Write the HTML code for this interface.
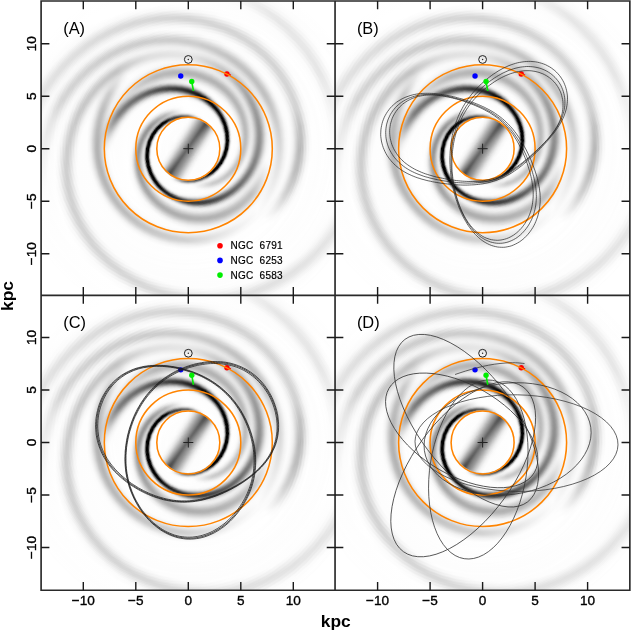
<!DOCTYPE html>
<html><head><meta charset="utf-8"><style>
html,body{margin:0;padding:0;background:#fff}
#fig{position:relative;width:631px;height:631px;overflow:hidden;background:#fff}
.pn{position:absolute;overflow:hidden}
.ctr{position:absolute;width:0;height:0}
.ctr i{position:absolute;border-radius:50%;display:block}
.w{background:#fff}
.k0{width:2.0px;height:2.0px;left:-1.0px;top:-1.0px;background:conic-gradient(#686868 0%,#6d6d6d 41.11%,#676767 83.06%,#686868 100%)}
.k1{width:4.0px;height:4.0px;left:-2.0px;top:-2.0px;background:conic-gradient(#686868 0%,#6a6a6a 11.11%,#797979 30.83%,#777777 43.47%,#686868 63.19%,#6d6d6d 88.19%,#686868 100%)}
.k2{width:6.0px;height:6.0px;left:-3.0px;top:-3.0px;background:conic-gradient(#6d6d6d 0%,#676767 7.22%,#707070 14.72%,#838383 26.53%,#878787 36.81%,#7d7d7d 47.22%,#686868 60.56%,#6a6a6a 67.08%,#7b7b7b 80.97%,#7a7a7a 89.86%,#6d6d6d 100%)}
.k3{width:8.0px;height:8.0px;left:-4.0px;top:-4.0px;background:conic-gradient(#747474 0%,#676767 6.25%,#6b6b6b 10.97%,#898989 23.19%,#919191 32.22%,#8d8d8d 41.94%,#7e7e7e 50.83%,#686868 60%,#696969 64.58%,#878787 77.64%,#8c8c8c 85.28%,#848484 93.19%,#747474 100%)}
.k4{width:10.0px;height:10.0px;left:-5.0px;top:-5.0px;background:conic-gradient(#7d7d7d 0%,#696969 6.11%,#696969 9.72%,#7c7c7c 15.83%,#909090 22.92%,#9b9b9b 31.53%,#989898 39.86%,#888888 49.44%,#686868 60%,#696969 63.47%,#8f8f8f 75%,#999999 81.94%,#969696 89.44%,#888888 96.67%,#7d7d7d 100%)}
.k5{width:12.0px;height:12.0px;left:-6.0px;top:-6.0px;background:conic-gradient(#858585 0%,#696969 6.53%,#686868 9.44%,#777777 13.47%,#8f8f8f 19.72%,#a3a3a3 28.33%,#a6a6a6 35.28%,#9d9d9d 43.06%,#858585 52.36%,#686868 59.72%,#686868 62.5%,#787878 66.39%,#939393 72.5%,#a3a3a3 79.03%,#a6a6a6 85.69%,#9c9c9c 92.92%,#878787 99.58%,#858585 100%)}
.k6{width:14.0px;height:14.0px;left:-7.0px;top:-7.0px;background:conic-gradient(#8d8d8d 0%,#696969 6.94%,#676767 9.44%,#767676 12.78%,#909090 18.33%,#acacac 27.22%,#b3b3b3 33.33%,#aeaeae 39.58%,#929292 49.86%,#7c7c7c 55.42%,#686868 59.72%,#686868 62.08%,#777777 65.28%,#969696 70.83%,#ababab 77.08%,#b3b3b3 83.06%,#afafaf 89.17%,#9b9b9b 96.53%,#8d8d8d 100%)}
.k7{width:16.0px;height:16.0px;left:-8.0px;top:-8.0px;background:conic-gradient(#949494 0%,#757575 5.14%,#676767 7.78%,#686868 9.86%,#7d7d7d 13.61%,#9a9a9a 19.31%,#b7b7b7 27.08%,#c1c1c1 32.64%,#bdbdbd 38.19%,#acacac 44.44%,#818181 55.14%,#686868 59.72%,#686868 61.81%,#787878 64.58%,#999999 69.58%,#b3b3b3 75.83%,#c0c0c0 81.39%,#bfbfbf 86.94%,#b1b1b1 92.78%,#949494 100%)}
.k8{width:18.0px;height:18.0px;left:-9.0px;top:-9.0px;background:conic-gradient(#9a9a9a 0%,#7e7e7e 4.44%,#686868 7.64%,#676767 9.44%,#737373 11.81%,#929292 16.67%,#bebebe 25.56%,#cccccc 30.69%,#cdcdcd 35.97%,#c2c2c2 41.25%,#a2a2a2 48.61%,#7f7f7f 55.97%,#676767 59.72%,#676767 61.53%,#767676 63.89%,#9a9a9a 68.47%,#bbbbbb 74.72%,#cbcbcb 79.86%,#cecece 85.14%,#c5c5c5 90.42%,#acacac 96.53%,#9a9a9a 100%)}
.k9{width:20.0px;height:20.0px;left:-10.0px;top:-10.0px;background:conic-gradient(#a1a1a1 0%,#828282 4.58%,#686868 7.78%,#666666 9.44%,#727272 11.53%,#939393 16.11%,#c5c5c5 24.44%,#d6d6d6 29.17%,#dbdbdb 34.31%,#d4d4d4 39.44%,#c1c1c1 44.44%,#7d7d7d 56.53%,#676767 59.72%,#666666 61.25%,#737373 63.19%,#9b9b9b 67.64%,#c1c1c1 73.61%,#d4d4d4 78.33%,#dbdbdb 83.47%,#d6d6d6 88.75%,#c4c4c4 93.75%,#a1a1a1 100%)}
.k10{width:22.0px;height:22.0px;left:-11.0px;top:-11.0px;background:conic-gradient(#a7a7a7 0%,#828282 5%,#686868 7.92%,#666666 9.44%,#707070 11.25%,#949494 15.69%,#cbcbcb 23.47%,#dddddd 27.78%,#e5e5e5 32.92%,#e1e1e1 38.33%,#d2d2d2 43.06%,#b4b4b4 48.19%,#8e8e8e 54.31%,#777777 57.5%,#666666 59.86%,#666666 61.25%,#767676 63.19%,#9e9e9e 67.22%,#c8c8c8 72.92%,#dcdcdc 77.22%,#e5e5e5 82.22%,#e2e2e2 87.78%,#d5d5d5 92.5%,#b9b9b9 97.36%,#a7a7a7 100%)}
.k11{width:24.0px;height:24.0px;left:-12.0px;top:-12.0px;background:conic-gradient(#aeaeae 0%,#828282 5.42%,#686868 8.06%,#656565 9.44%,#707070 11.11%,#979797 15.56%,#cfcfcf 22.36%,#e2e2e2 26.25%,#ededed 31.11%,#ececec 37.08%,#e1e1e1 41.94%,#cbcbcb 46.11%,#939393 53.89%,#7b7b7b 57.22%,#666666 59.72%,#656565 60.97%,#717171 62.5%,#9f9f9f 66.67%,#cccccc 71.94%,#e1e1e1 75.83%,#ececec 80.56%,#ededed 86.53%,#e3e3e3 91.53%,#cecece 95.69%,#aeaeae 100%)}
.k12{width:26.0px;height:26.0px;left:-13.0px;top:-13.0px;background:conic-gradient(#b5b5b5 0%,#818181 5.83%,#686868 8.19%,#656565 9.44%,#6f6f6f 10.97%,#cdcdcd 20.83%,#e3e3e3 24.31%,#f0f0f0 28.61%,#f4f4f4 35%,#ededed 40.69%,#dddddd 44.72%,#c1c1c1 48.61%,#959595 53.89%,#7d7d7d 57.22%,#656565 59.72%,#656565 60.97%,#737373 62.5%,#a2a2a2 66.39%,#cfcfcf 71.11%,#e4e4e4 74.58%,#f1f1f1 79.03%,#f4f4f4 85.56%,#ececec 91.11%,#dcdcdc 95%,#bebebe 99.03%,#b5b5b5 100%)}
.k13{width:28.0px;height:28.0px;left:-14.0px;top:-14.0px;background:conic-gradient(#bcbcbc 0%,#808080 6.11%,#676767 8.33%,#646464 9.44%,#6d6d6d 10.83%,#d3d3d3 20.56%,#e8e8e8 23.75%,#f5f5f5 27.92%,#f9f9f9 35.14%,#f2f2f2 41.25%,#e3e3e3 45.14%,#c9c9c9 48.61%,#979797 54.03%,#7d7d7d 57.36%,#656565 59.72%,#646464 60.83%,#717171 62.22%,#a4a4a4 66.11%,#d1d1d1 70.28%,#e7e7e7 73.47%,#f4f4f4 77.5%,#f9f9f9 84.44%,#f3f3f3 90.83%,#e5e5e5 94.72%,#cecece 98.06%,#bcbcbc 100%)}
.k14{width:30.0px;height:30.0px;left:-15.0px;top:-15.0px;background:conic-gradient(#c3c3c3 0%,#808080 6.39%,#666666 8.47%,#636363 9.58%,#6f6f6f 10.97%,#bbbbbb 17.5%,#dcdcdc 20.56%,#eeeeee 23.47%,#f8f8f8 27.64%,#fbfbfb 36.25%,#f4f4f4 42.36%,#e6e6e6 45.83%,#cfcfcf 48.89%,#989898 54.31%,#7d7d7d 57.5%,#646464 59.72%,#636363 60.69%,#6f6f6f 61.94%,#aaaaaa 66.11%,#d4d4d4 69.72%,#e9e9e9 72.5%,#f6f6f6 76.11%,#fcfcfc 82.92%,#f7f7f7 90.83%,#ececec 94.86%,#d8d8d8 97.92%,#c3c3c3 100%)}
.k15{width:32.0px;height:32.0px;left:-16.0px;top:-16.0px;background:conic-gradient(#cbcbcb 0%,#7e7e7e 6.67%,#666666 8.47%,#626262 9.44%,#6a6a6a 10.56%,#b0b0b0 16.11%,#d6d6d6 19.17%,#ececec 21.81%,#f8f8f8 25.14%,#fdfdfd 32.08%,#fafafa 41.39%,#efefef 45.28%,#dddddd 48.19%,#b6b6b6 51.81%,#949494 55%,#7c7c7c 57.64%,#636363 59.72%,#626262 60.69%,#6e6e6e 61.81%,#b1b1b1 66.25%,#d8d8d8 69.31%,#ececec 71.94%,#f8f8f8 75.42%,#fdfdfd 82.92%,#f9f9f9 91.67%,#efefef 95.42%,#dbdbdb 98.33%,#cbcbcb 100%)}
.k16{width:34.0px;height:34.0px;left:-17.0px;top:-17.0px;background:conic-gradient(#d2d2d2 0%,#7c7c7c 6.94%,#656565 8.61%,#626262 9.58%,#6b6b6b 10.69%,#ababab 15.42%,#d6d6d6 18.47%,#ebebeb 20.83%,#f8f8f8 23.89%,#fefefe 30.14%,#fbfbfb 41.94%,#f2f2f2 45.83%,#e1e1e1 48.47%,#c1c1c1 51.39%,#989898 54.86%,#7b7b7b 57.78%,#626262 59.72%,#616161 60.56%,#6d6d6d 61.67%,#bebebe 66.67%,#dedede 69.17%,#f0f0f0 71.67%,#fafafa 75.14%,#fefefe 85%,#fafafa 93.19%,#efefef 96.53%,#dadada 99.17%,#d2d2d2 100%)}
.k17{width:36.0px;height:36.0px;left:-18.0px;top:-18.0px;background:conic-gradient(#d8d8d8 0%,#7c7c7c 7.08%,#656565 8.61%,#616161 9.44%,#676767 10.42%,#a4a4a4 14.72%,#d5d5d5 17.78%,#eaeaea 19.86%,#f8f8f8 22.5%,#fefefe 27.5%,#fcfcfc 42.64%,#f4f4f4 46.39%,#e3e3e3 48.89%,#c5c5c5 51.53%,#999999 55%,#7c7c7c 57.78%,#616161 59.72%,#606060 60.56%,#6b6b6b 61.53%,#c7c7c7 66.81%,#e2e2e2 68.89%,#f3f3f3 71.25%,#fcfcfc 74.72%,#fefefe 88.33%,#f9f9f9 94.58%,#eeeeee 97.5%,#dadada 99.86%,#d8d8d8 100%)}
.k18{width:38.0px;height:38.0px;left:-19.0px;top:-19.0px;background:conic-gradient(#dedede 0%,#b5b5b5 3.06%,#7e7e7e 7.08%,#636363 8.75%,#606060 9.58%,#686868 10.56%,#a1a1a1 14.31%,#d4d4d4 17.22%,#eaeaea 19.17%,#f7f7f7 21.53%,#fefefe 25.97%,#fdfdfd 43.61%,#f4f4f4 47.08%,#e4e4e4 49.44%,#c5c5c5 51.94%,#999999 55.14%,#7b7b7b 57.92%,#606060 59.72%,#5f5f5f 60.56%,#6b6b6b 61.53%,#cbcbcb 66.67%,#e5e5e5 68.61%,#f5f5f5 70.83%,#fdfdfd 74.31%,#fefefe 92.22%,#f7f7f7 96.39%,#e9e9e9 98.89%,#dedede 100%)}
.k19{width:40.0px;height:40.0px;left:-20.0px;top:-20.0px;background:conic-gradient(#e4e4e4 0%,#c5c5c5 2.36%,#949494 5.69%,#797979 7.5%,#636363 8.75%,#5f5f5f 9.58%,#686868 10.56%,#9d9d9d 13.89%,#d4d4d4 16.81%,#eaeaea 18.61%,#f8f8f8 20.83%,#fefefe 24.86%,#fdfdfd 44.58%,#f5f5f5 47.78%,#e4e4e4 50%,#c5c5c5 52.36%,#989898 55.42%,#7c7c7c 57.92%,#5f5f5f 59.72%,#5e5e5e 60.42%,#676767 61.25%,#cdcdcd 66.39%,#e6e6e6 68.19%,#f6f6f6 70.28%,#fdfdfd 73.61%,#fdfdfd 94.03%,#f6f6f6 97.5%,#e7e7e7 99.72%,#e4e4e4 100%)}
.k20{width:42.0px;height:42.0px;left:-21.0px;top:-21.0px;background:conic-gradient(#e9e9e9 0%,#cecece 2.08%,#969696 5.69%,#7a7a7a 7.5%,#616161 8.89%,#5e5e5e 9.58%,#676767 10.56%,#989898 13.47%,#d3d3d3 16.39%,#eaeaea 18.06%,#f8f8f8 20.14%,#fefefe 23.89%,#fdfdfd 45.42%,#f5f5f5 48.33%,#e5e5e5 50.42%,#c6c6c6 52.64%,#999999 55.56%,#7a7a7a 58.06%,#5e5e5e 59.72%,#5c5c5c 60.42%,#676767 61.25%,#cecece 66.11%,#e7e7e7 67.78%,#f6f6f6 69.72%,#fefefe 72.92%,#fdfdfd 95.14%,#f6f6f6 98.19%,#e9e9e9 100%)}
.k21{width:44.0px;height:44.0px;left:-22.0px;top:-22.0px;background:conic-gradient(#ededed 0%,#d6d6d6 1.94%,#969696 5.83%,#7b7b7b 7.5%,#616161 8.89%,#5d5d5d 9.58%,#646464 10.42%,#929292 13.06%,#d5d5d5 16.11%,#eaeaea 17.64%,#f8f8f8 19.58%,#fefefe 23.06%,#fdfdfd 46.11%,#f5f5f5 48.89%,#e5e5e5 50.83%,#c6c6c6 52.92%,#999999 55.69%,#7b7b7b 58.06%,#5d5d5d 59.72%,#5b5b5b 60.42%,#666666 61.25%,#cfcfcf 65.83%,#e7e7e7 67.36%,#f6f6f6 69.17%,#fefefe 72.08%,#fdfdfd 95.97%,#f5f5f5 98.89%,#ededed 100%)}
.k22{width:46.0px;height:46.0px;left:-23.0px;top:-23.0px;background:conic-gradient(#f1f1f1 0%,#dddddd 1.81%,#949494 6.11%,#7a7a7a 7.64%,#606060 8.89%,#5b5b5b 9.58%,#636363 10.42%,#8e8e8e 12.78%,#d2d2d2 15.69%,#e9e9e9 17.08%,#f7f7f7 18.75%,#fefefe 21.53%,#fdfdfd 46.67%,#f6f6f6 49.31%,#e6e6e6 51.11%,#c9c9c9 53.06%,#999999 55.83%,#7b7b7b 58.06%,#5c5c5c 59.72%,#5a5a5a 60.42%,#666666 61.25%,#d0d0d0 65.56%,#e7e7e7 66.94%,#f6f6f6 68.61%,#fefefe 71.25%,#fdfdfd 96.67%,#f6f6f6 99.31%,#f1f1f1 100%)}
.k23{width:48.0px;height:48.0px;left:-24.0px;top:-24.0px;background:conic-gradient(#f4f4f4 0%,#e4e4e4 1.67%,#c3c3c3 3.61%,#969696 6.11%,#7b7b7b 7.64%,#606060 8.89%,#5a5a5a 9.58%,#616161 10.42%,#898989 12.5%,#d2d2d2 15.42%,#eaeaea 16.81%,#f8f8f8 18.47%,#fefefe 21.39%,#fdfdfd 47.36%,#f5f5f5 49.86%,#e5e5e5 51.53%,#c6c6c6 53.47%,#999999 55.97%,#797979 58.19%,#5c5c5c 59.58%,#585858 60.28%,#606060 60.97%,#8d8d8d 62.78%,#cccccc 65.14%,#e6e6e6 66.53%,#f5f5f5 68.06%,#fdfdfd 70.42%,#fefefe 96.94%,#f7f7f7 99.58%,#f4f4f4 100%)}
.k24{width:50.0px;height:50.0px;left:-25.0px;top:-25.0px;background:conic-gradient(#f7f7f7 0%,#e8e8e8 1.67%,#cdcdcd 3.33%,#989898 6.11%,#7c7c7c 7.64%,#5d5d5d 9.03%,#595959 9.72%,#626262 10.56%,#878787 12.36%,#d2d2d2 15.14%,#e9e9e9 16.39%,#f7f7f7 17.92%,#fefefe 20.42%,#fdfdfd 47.92%,#f5f5f5 50.28%,#e4e4e4 51.94%,#c2c2c2 53.89%,#989898 56.11%,#797979 58.19%,#5b5b5b 59.58%,#565656 60.14%,#5d5d5d 60.83%,#7c7c7c 62.08%,#cbcbcb 64.86%,#e5e5e5 66.11%,#f4f4f4 67.5%,#fdfdfd 69.58%,#ffffff 85.97%,#fdfdfd 98.19%,#f7f7f7 100%)}
.k25{width:52.0px;height:52.0px;left:-26.0px;top:-26.0px;background:conic-gradient(#f9f9f9 0%,#ececec 1.67%,#d4d4d4 3.19%,#979797 6.25%,#7a7a7a 7.78%,#5c5c5c 9.03%,#575757 9.58%,#5c5c5c 10.28%,#7d7d7d 11.94%,#a8a8a8 13.47%,#d4d4d4 15%,#ebebeb 16.25%,#f8f8f8 17.78%,#fefefe 20.56%,#fdfdfd 48.47%,#f5f5f5 50.69%,#e4e4e4 52.22%,#c3c3c3 54.03%,#989898 56.25%,#7a7a7a 58.19%,#595959 59.58%,#545454 60.14%,#595959 60.69%,#707070 61.67%,#cdcdcd 64.72%,#e5e5e5 65.83%,#f5f5f5 67.22%,#fdfdfd 69.31%,#fefefe 97.64%,#f9f9f9 100%)}
.k26{width:54.0px;height:54.0px;left:-27.0px;top:-27.0px;background:conic-gradient(#fafafa 0%,#efefef 1.67%,#d8d8d8 3.19%,#969696 6.39%,#7b7b7b 7.78%,#5b5b5b 9.03%,#565656 9.58%,#5b5b5b 10.28%,#767676 11.67%,#9a9a9a 12.92%,#cfcfcf 14.58%,#e7e7e7 15.69%,#f5f5f5 16.94%,#fefefe 19.03%,#fefefe 48.75%,#f6f6f6 50.83%,#e6e6e6 52.36%,#c7c7c7 54.03%,#999999 56.25%,#7a7a7a 58.19%,#585858 59.58%,#535353 60.14%,#585858 60.69%,#6c6c6c 61.53%,#cbcbcb 64.44%,#e4e4e4 65.56%,#f4f4f4 66.81%,#fdfdfd 68.75%,#ffffff 90.97%,#fdfdfd 99.31%,#fafafa 100%)}
.k27{width:56.0px;height:56.0px;left:-28.0px;top:-28.0px;background:conic-gradient(#fcfcfc 0%,#f2f2f2 1.67%,#dfdfdf 3.06%,#939393 6.67%,#797979 7.92%,#5a5a5a 9.03%,#545454 9.58%,#595959 10.28%,#727272 11.53%,#939393 12.64%,#cccccc 14.31%,#e4e4e4 15.28%,#f3f3f3 16.39%,#fcfcfc 18.06%,#ffffff 25.42%,#fdfdfd 49.31%,#f5f5f5 51.25%,#e6e6e6 52.64%,#c5c5c5 54.31%,#989898 56.39%,#777777 58.33%,#565656 59.58%,#515151 60.14%,#565656 60.69%,#6c6c6c 61.53%,#cccccc 64.31%,#e4e4e4 65.28%,#f3f3f3 66.39%,#fcfcfc 68.06%,#ffffff 75.42%,#fdfdfd 99.31%,#fcfcfc 100%)}
.k28{width:58.0px;height:58.0px;left:-29.0px;top:-29.0px;background:conic-gradient(#fdfdfd 0%,#f3f3f3 1.81%,#e0e0e0 3.19%,#b5b5b5 5.14%,#797979 7.92%,#595959 9.03%,#525252 9.58%,#575757 10.28%,#6e6e6e 11.39%,#919191 12.5%,#cdcdcd 14.17%,#e5e5e5 15.14%,#f5f5f5 16.25%,#fdfdfd 17.92%,#ffffff 32.36%,#fdfdfd 49.72%,#f5f5f5 51.53%,#e5e5e5 52.92%,#c6c6c6 54.44%,#979797 56.53%,#777777 58.33%,#555555 59.58%,#4f4f4f 60.14%,#555555 60.69%,#6c6c6c 61.53%,#c8c8c8 64.03%,#e2e2e2 65%,#f3f3f3 66.11%,#fdfdfd 67.78%,#ffffff 76.39%,#fdfdfd 99.72%,#fdfdfd 100%)}
.k29{width:60.0px;height:60.0px;left:-30.0px;top:-30.0px;background:conic-gradient(#fdfdfd 0%,#f5f5f5 1.81%,#e6e6e6 3.06%,#c6c6c6 4.58%,#969696 6.67%,#7a7a7a 7.92%,#555555 9.17%,#505050 9.72%,#575757 10.42%,#717171 11.53%,#999999 12.64%,#cdcdcd 14.03%,#e6e6e6 15%,#f6f6f6 16.11%,#fefefe 17.92%,#fdfdfd 50%,#f5f5f5 51.81%,#e6e6e6 53.06%,#c6c6c6 54.58%,#999999 56.53%,#777777 58.33%,#535353 59.58%,#4d4d4d 60.14%,#535353 60.69%,#6c6c6c 61.53%,#c9c9c9 63.89%,#e4e4e4 64.86%,#f4f4f4 65.97%,#fdfdfd 67.64%,#ffffff 87.36%,#fdfdfd 100%)}
.k30{width:62.0px;height:62.0px;left:-31.0px;top:-31.0px;background:conic-gradient(#fefefe 0%,#f6f6f6 1.94%,#e7e7e7 3.19%,#cacaca 4.58%,#979797 6.67%,#7b7b7b 7.92%,#545454 9.17%,#4e4e4e 9.72%,#555555 10.42%,#6c6c6c 11.39%,#909090 12.36%,#c9c9c9 13.75%,#e2e2e2 14.58%,#f2f2f2 15.56%,#fcfcfc 16.94%,#ffffff 21.81%,#fdfdfd 50.42%,#f5f5f5 52.08%,#e5e5e5 53.33%,#c3c3c3 54.86%,#979797 56.67%,#767676 58.33%,#515151 59.58%,#4b4b4b 60%,#4d4d4d 60.42%,#595959 60.97%,#7d7d7d 61.94%,#c4c4c4 63.61%,#dedede 64.44%,#f1f1f1 65.42%,#fbfbfb 66.67%,#ffffff 69.86%,#fefefe 100%)}
.k31{width:64.0px;height:64.0px;left:-32.0px;top:-32.0px;background:conic-gradient(#b1b1b1 0%,#b2b2b2 1.53%,#c3c3c3 3.61%,#c5c5c5 5.42%,#bdbdbd 7.64%,#a6a6a6 9.44%,#a8a8a8 10.28%,#b8b8b8 11.53%,#e9e9e9 13.89%,#f7f7f7 15.14%,#fefefe 17.08%,#fdfdfd 31.25%,#f4f4f4 33.75%,#dedede 35.83%,#bababa 38.75%,#aeaeae 40.56%,#a6a6a6 44.44%,#afafaf 49.72%,#b4b4b4 51.67%,#c2c2c2 53.47%,#c3c3c3 55.42%,#bbbbbb 58.06%,#adadad 59.17%,#a4a4a4 60%,#a7a7a7 60.69%,#bfbfbf 61.94%,#e6e6e6 63.75%,#f6f6f6 65%,#fefefe 66.81%,#fdfdfd 87.22%,#f4f4f4 90.14%,#e0e0e0 92.92%,#bcbcbc 97.08%,#b2b2b2 99.44%,#b1b1b1 100%)}
.k32{width:66.0px;height:66.0px;left:-33.0px;top:-33.0px;background:conic-gradient(#676767 0%,#7c7c7c 1.53%,#bababa 3.75%,#dedede 5.42%,#f3f3f3 6.94%,#fdfdfd 8.47%,#fefefe 27.22%,#f8f8f8 29.44%,#ebebeb 30.83%,#d3d3d3 32.08%,#afafaf 33.33%,#787878 34.72%,#4e4e4e 35.83%,#313131 36.81%,#202020 37.78%,#191919 38.75%,#1c1c1c 39.86%,#2c2c2c 41.25%,#343434 41.81%,#646464 48.19%,#747474 51.53%,#efefef 57.5%,#fcfcfc 58.61%,#ffffff 60.69%,#fdfdfd 84.31%,#f6f6f6 86.11%,#e5e5e5 87.64%,#c4c4c4 89.44%,#9d9d9d 91.39%,#6d6d6d 93.75%,#585858 95.28%,#515151 96.67%,#565656 98.19%,#656565 99.86%,#676767 100%)}
.k33{width:68.0px;height:68.0px;left:-34.0px;top:-34.0px;background:conic-gradient(#939393 0%,#aeaeae 1.67%,#d1d1d1 3.19%,#eaeaea 4.86%,#fafafa 6.81%,#ffffff 9.31%,#fdfdfd 25.97%,#f5f5f5 27.64%,#e5e5e5 28.75%,#cdcdcd 29.72%,#a9a9a9 30.69%,#767676 31.81%,#1a1a1a 33.61%,#030303 34.17%,#000000 34.44%,#010101 38.33%,#5a5a5a 41.81%,#797979 44.17%,#909090 46.81%,#9d9d9d 49.31%,#a0a0a0 51.53%,#e8e8e8 56.81%,#fbfbfb 58.33%,#ffffff 60%,#fdfdfd 81.53%,#f5f5f5 83.61%,#e6e6e6 85%,#d3d3d3 85.97%,#a5a5a5 87.5%,#717171 89.17%,#5c5c5c 90.14%,#505050 91.11%,#4d4d4d 91.81%,#414141 93.06%,#404040 94.31%,#4b4b4b 95.69%,#6b6b6b 97.78%,#939393 100%)}
.k34{width:70.0px;height:70.0px;left:-35.0px;top:-35.0px;background:conic-gradient(#c7c7c7 0%,#efefef 3.47%,#fbfbfb 5.69%,#ffffff 9.86%,#fdfdfd 24.03%,#f5f5f5 25.56%,#e6e6e6 26.53%,#d0d0d0 27.36%,#aeaeae 28.19%,#787878 29.17%,#101010 30.83%,#000000 31.11%,#020202 36.39%,#434343 38.06%,#747474 39.58%,#959595 40.97%,#a8a8a8 42.08%,#bbbbbb 44.17%,#cecece 48.06%,#d0d0d0 51.25%,#f1f1f1 56.67%,#fefefe 58.75%,#fdfdfd 78.75%,#f5f5f5 80.83%,#e6e6e6 82.22%,#cfcfcf 83.33%,#b1b1b1 84.31%,#838383 85.42%,#444444 86.81%,#272727 87.64%,#171717 88.33%,#0f0f0f 89.03%,#101010 89.72%,#191919 90.56%,#343434 91.81%,#464646 93.19%,#767676 95.56%,#acacac 98.19%,#c7c7c7 100%)}
.k35{width:72.0px;height:72.0px;left:-36.0px;top:-36.0px;background:conic-gradient(#eaeaea 0%,#fcfcfc 3.89%,#ffffff 10%,#fdfdfd 22.22%,#f5f5f5 23.61%,#e5e5e5 24.58%,#d1d1d1 25.28%,#b4b4b4 25.97%,#8d8d8d 26.67%,#515151 27.5%,#040404 28.47%,#000000 28.61%,#000000 33.89%,#1c1c1c 34.44%,#555555 35.56%,#7d7d7d 36.53%,#a0a0a0 37.64%,#bbbbbb 38.89%,#d0d0d0 40.42%,#dddddd 42.22%,#efefef 49.03%,#efefef 52.08%,#ffffff 59.44%,#fdfdfd 76.39%,#f4f4f4 78.33%,#e5e5e5 79.58%,#cccccc 80.69%,#acacac 81.67%,#808080 82.64%,#3c3c3c 83.89%,#060606 84.86%,#000000 85%,#000000 89.31%,#5f5f5f 91.81%,#a4a4a4 94.86%,#cecece 97.22%,#e3e3e3 99.03%,#eaeaea 100%)}
.k36{width:74.0px;height:74.0px;left:-37.0px;top:-37.0px;background:conic-gradient(#f9f9f9 0%,#ffffff 5.97%,#fdfdfd 20.42%,#f5f5f5 21.81%,#e8e8e8 22.64%,#cecece 23.47%,#aeaeae 24.17%,#787878 25%,#353535 25.83%,#070707 26.39%,#000000 26.53%,#000000 31.53%,#515151 32.78%,#808080 33.61%,#9f9f9f 34.31%,#bdbdbd 35.28%,#d3d3d3 36.39%,#e4e4e4 37.78%,#eeeeee 39.72%,#eeeeee 43.06%,#f0f0f0 45.56%,#fbfbfb 48.75%,#ffffff 65.28%,#fdfdfd 74.17%,#f4f4f4 75.83%,#e4e4e4 77.08%,#cdcdcd 78.06%,#aaaaaa 79.03%,#838383 79.86%,#444444 80.97%,#020202 82.08%,#000000 82.5%,#000000 87.64%,#040404 87.78%,#474747 89.17%,#767676 90.42%,#9e9e9e 91.81%,#c6c6c6 94.17%,#eaeaea 97.08%,#f6f6f6 98.89%,#f9f9f9 100%)}
.k37{width:76.0px;height:76.0px;left:-38.0px;top:-38.0px;background:conic-gradient(#fefefe 0%,#fefefe 18.19%,#f6f6f6 19.86%,#e9e9e9 20.83%,#d5d5d5 21.53%,#bdbdbd 22.08%,#9e9e9e 22.64%,#6b6b6b 23.33%,#0a0a0a 24.44%,#000000 24.58%,#000000 29.31%,#050505 29.44%,#464646 30.28%,#7e7e7e 31.11%,#a3a3a3 31.81%,#bfbfbf 32.5%,#d7d7d7 33.33%,#e8e8e8 34.31%,#f4f4f4 35.97%,#f8f8f8 38.47%,#ebebeb 43.61%,#f3f3f3 45.83%,#fdfdfd 48.33%,#fefefe 71.11%,#f6f6f6 73.19%,#e9e9e9 74.31%,#d4d4d4 75.28%,#b3b3b3 76.25%,#8c8c8c 77.08%,#555555 78.06%,#060606 79.31%,#000000 79.44%,#000000 85.42%,#040404 85.56%,#3b3b3b 86.53%,#5d5d5d 87.22%,#818181 88.19%,#9d9d9d 89.31%,#b9b9b9 91.11%,#f6f6f6 97.22%,#fdfdfd 99.17%,#fefefe 100%)}
.k38{width:78.0px;height:78.0px;left:-39.0px;top:-39.0px;background:conic-gradient(#ffffff 0%,#fdfdfd 16.53%,#f6f6f6 18.06%,#e9e9e9 19.03%,#d7d7d7 19.72%,#bbbbbb 20.42%,#9c9c9c 20.97%,#666666 21.67%,#010101 22.78%,#000000 27.22%,#606060 28.47%,#8f8f8f 29.17%,#adadad 29.72%,#cacaca 30.42%,#e1e1e1 31.25%,#f1f1f1 32.36%,#fbfbfb 34.03%,#fbfbfb 37.22%,#f0f0f0 39.86%,#e5e5e5 42.5%,#eaeaea 44.44%,#fdfdfd 47.64%,#ffffff 53.33%,#fdfdfd 68.89%,#f5f5f5 70.83%,#e5e5e5 72.08%,#cecece 73.06%,#afafaf 73.89%,#868686 74.72%,#525252 75.56%,#000000 76.81%,#020202 82.78%,#4e4e4e 84.17%,#747474 85%,#929292 85.83%,#a7a7a7 86.81%,#b5b5b5 88.06%,#c4c4c4 91.25%,#e2e2e2 94.72%,#fafafa 97.5%,#ffffff 99.72%,#ffffff 100%)}
.k39{width:80.0px;height:80.0px;left:-40.0px;top:-40.0px;background:conic-gradient(#ffffff 0%,#fdfdfd 14.86%,#f5f5f5 16.39%,#e7e7e7 17.36%,#d5d5d5 18.06%,#b8b8b8 18.75%,#999999 19.31%,#666666 20%,#0f0f0f 20.97%,#010101 21.11%,#000000 25.14%,#040404 25.28%,#5f5f5f 26.39%,#909090 27.08%,#b7b7b7 27.78%,#d2d2d2 28.47%,#e7e7e7 29.31%,#f6f6f6 30.42%,#fdfdfd 32.22%,#fcfcfc 35.83%,#f0f0f0 38.47%,#e0e0e0 40.83%,#dfdfdf 42.5%,#ebebeb 44.58%,#fcfcfc 47.08%,#ffffff 50.28%,#fdfdfd 66.67%,#f5f5f5 68.47%,#e7e7e7 69.58%,#d1d1d1 70.56%,#b4b4b4 71.39%,#929292 72.08%,#6a6a6a 72.78%,#313131 73.61%,#080808 74.17%,#000000 74.31%,#010101 80.14%,#4b4b4b 81.39%,#747474 82.22%,#8f8f8f 82.92%,#a7a7a7 83.75%,#b6b6b6 84.72%,#bdbdbd 85.97%,#b9b9b9 90.14%,#cacaca 92.22%,#f4f4f4 96.39%,#fefefe 98.33%,#ffffff 100%)}
.k40{width:82.0px;height:82.0px;left:-41.0px;top:-41.0px;background:conic-gradient(#ffffff 0%,#fdfdfd 13.33%,#f5f5f5 14.86%,#e6e6e6 15.83%,#cdcdcd 16.67%,#adadad 17.36%,#818181 18.06%,#555555 18.61%,#000000 19.58%,#000000 23.33%,#090909 23.47%,#5d5d5d 24.44%,#919191 25.14%,#b9b9b9 25.83%,#d5d5d5 26.53%,#eaeaea 27.36%,#f8f8f8 28.47%,#fefefe 30.42%,#fbfbfb 34.72%,#f0f0f0 37.22%,#d7d7d7 40.42%,#d8d8d8 41.94%,#eeeeee 44.58%,#fcfcfc 46.67%,#ffffff 50.14%,#fdfdfd 64.17%,#f5f5f5 66.11%,#e6e6e6 67.36%,#cfcfcf 68.33%,#b0b0b0 69.17%,#8e8e8e 69.86%,#646464 70.56%,#222222 71.53%,#020202 71.94%,#000000 72.36%,#010101 77.64%,#414141 78.61%,#696969 79.31%,#8a8a8a 80%,#a2a2a2 80.69%,#b5b5b5 81.53%,#bfbfbf 82.5%,#bdbdbd 84.17%,#b0b0b0 87.36%,#b3b3b3 89.44%,#bbbbbb 90.69%,#ececec 94.86%,#fcfcfc 97.22%,#ffffff 100%)}
.k41{width:84.0px;height:84.0px;left:-42.0px;top:-42.0px;background:conic-gradient(#ffffff 0%,#fdfdfd 11.81%,#f5f5f5 13.33%,#e6e6e6 14.31%,#d2d2d2 15%,#b5b5b5 15.69%,#8c8c8c 16.39%,#4e4e4e 17.22%,#080808 18.06%,#000000 18.19%,#000000 21.53%,#030303 21.67%,#676767 22.78%,#9b9b9b 23.47%,#c2c2c2 24.17%,#dddddd 24.86%,#efefef 25.69%,#fafafa 26.81%,#ffffff 29.31%,#fbfbfb 33.75%,#eeeeee 36.25%,#d0d0d0 39.86%,#d0d0d0 40.83%,#e1e1e1 42.78%,#f7f7f7 45.14%,#fefefe 47.36%,#fdfdfd 61.53%,#f5f5f5 63.75%,#e7e7e7 65%,#d3d3d3 65.97%,#b6b6b6 66.81%,#959595 67.5%,#646464 68.33%,#181818 69.44%,#050505 69.72%,#000000 69.86%,#000000 75.14%,#060606 75.28%,#494949 76.25%,#7a7a7a 77.08%,#9a9a9a 77.78%,#b1b1b1 78.47%,#c2c2c2 79.31%,#c9c9c9 80.28%,#c5c5c5 81.53%,#aeaeae 84.03%,#a6a6a6 85.97%,#ababab 87.92%,#c1c1c1 90.56%,#e5e5e5 93.33%,#f7f7f7 95.69%,#ffffff 98.33%,#ffffff 100%)}
.k42{width:86.0px;height:86.0px;left:-43.0px;top:-43.0px;background:conic-gradient(#ffffff 0%,#fdfdfd 10.14%,#f5f5f5 11.81%,#e7e7e7 12.78%,#d5d5d5 13.47%,#bababa 14.17%,#939393 14.86%,#575757 15.69%,#000000 16.81%,#000000 19.86%,#030303 20%,#747474 21.25%,#9e9e9e 21.81%,#c6c6c6 22.5%,#e0e0e0 23.19%,#f1f1f1 24.03%,#fbfbfb 25.14%,#ffffff 28.19%,#fbfbfb 32.5%,#eeeeee 35%,#cfcfcf 38.61%,#cccccc 40.14%,#d9d9d9 41.53%,#f4f4f4 44.03%,#fdfdfd 46.11%,#fefefe 58.33%,#f8f8f8 60.97%,#eaeaea 62.5%,#d4d4d4 63.61%,#b6b6b6 64.58%,#919191 65.42%,#6a6a6a 66.11%,#202020 67.22%,#040404 67.64%,#000000 67.78%,#000000 72.78%,#676767 74.31%,#8e8e8e 75%,#acacac 75.69%,#c1c1c1 76.39%,#cfcfcf 77.22%,#d3d3d3 78.19%,#cbcbcb 79.58%,#9f9f9f 83.33%,#9d9d9d 85%,#a8a8a8 86.81%,#d4d4d4 90.83%,#ececec 93.06%,#fafafa 95.56%,#ffffff 99.17%,#ffffff 100%)}
.k43{width:88.0px;height:88.0px;left:-44.0px;top:-44.0px;background:conic-gradient(#ffffff 0%,#fcfcfc 8.61%,#f3f3f3 10.42%,#e4e4e4 11.53%,#d1d1d1 12.22%,#b4b4b4 12.92%,#838383 13.75%,#313131 14.86%,#000000 15.56%,#000000 18.33%,#373737 19.03%,#8a8a8a 20%,#b1b1b1 20.56%,#d0d0d0 21.11%,#e4e4e4 21.67%,#f4f4f4 22.5%,#fdfdfd 23.75%,#fefefe 28.75%,#f8f8f8 32.08%,#e6e6e6 34.58%,#cdcdcd 37.5%,#cacaca 39.03%,#d4d4d4 40.56%,#f1f1f1 42.92%,#fcfcfc 44.86%,#ffffff 49.72%,#fcfcfc 57.36%,#f4f4f4 59.31%,#e4e4e4 60.69%,#cfcfcf 61.67%,#b4b4b4 62.5%,#969696 63.19%,#6a6a6a 64.03%,#232323 65.14%,#000000 65.69%,#010101 70.42%,#676767 71.94%,#969696 72.78%,#b4b4b4 73.47%,#c9c9c9 74.17%,#d7d7d7 75%,#dcdcdc 75.97%,#d3d3d3 77.36%,#9f9f9f 81.53%,#959595 83.19%,#9d9d9d 84.72%,#bfbfbf 87.64%,#e5e5e5 90.97%,#f6f6f6 93.19%,#fefefe 96.39%,#ffffff 100%)}
.k44{width:90.0px;height:90.0px;left:-45.0px;top:-45.0px;background:conic-gradient(#ffffff 0%,#fcfcfc 7.08%,#f3f3f3 8.89%,#e3e3e3 10%,#cfcfcf 10.83%,#b5b5b5 11.53%,#9b9b9b 12.08%,#646464 12.92%,#151515 14.03%,#050505 14.31%,#000000 14.44%,#000000 16.67%,#040404 16.81%,#1f1f1f 17.22%,#8f8f8f 18.61%,#bdbdbd 19.31%,#dddddd 20%,#efefef 20.69%,#fafafa 21.53%,#ffffff 23.75%,#fcfcfc 29.58%,#f1f1f1 32.08%,#cbcbcb 36.39%,#c9c9c9 37.92%,#d4d4d4 39.58%,#f4f4f4 42.5%,#fdfdfd 44.58%,#fdfdfd 53.89%,#f6f6f6 56.67%,#e8e8e8 58.33%,#d3d3d3 59.44%,#b5b5b5 60.42%,#8c8c8c 61.39%,#606060 62.22%,#060606 63.75%,#000000 63.89%,#000000 68.06%,#737373 69.86%,#999999 70.56%,#b7b7b7 71.25%,#cdcdcd 71.94%,#dcdcdc 72.78%,#e2e2e2 73.75%,#dddddd 75%,#c4c4c4 77.08%,#a0a0a0 79.72%,#959595 81.39%,#969696 82.92%,#9e9e9e 83.89%,#d9d9d9 88.19%,#efefef 90.69%,#fbfbfb 93.19%,#ffffff 98.33%,#ffffff 100%)}
.k45{width:92.0px;height:92.0px;left:-46.0px;top:-46.0px;background:conic-gradient(#ffffff 0%,#fcfcfc 5.69%,#f3f3f3 7.36%,#e5e5e5 8.47%,#cdcdcd 9.44%,#adadad 10.28%,#7b7b7b 11.25%,#404040 12.22%,#141414 12.92%,#000000 13.33%,#000000 15.14%,#0c0c0c 15.42%,#464646 16.25%,#9a9a9a 17.36%,#c4c4c4 18.06%,#dcdcdc 18.61%,#efefef 19.31%,#fbfbfb 20.28%,#ffffff 22.36%,#fcfcfc 28.47%,#f0f0f0 30.97%,#cacaca 35.14%,#c7c7c7 36.67%,#d1d1d1 38.33%,#f6f6f6 41.94%,#fefefe 44.17%,#fbfbfb 52.64%,#f2f2f2 54.86%,#e3e3e3 56.39%,#cbcbcb 57.64%,#b0b0b0 58.61%,#878787 59.58%,#3f3f3f 60.97%,#030303 62.08%,#000000 62.22%,#000000 65.69%,#030303 65.83%,#363636 66.67%,#7b7b7b 67.78%,#a6a6a6 68.61%,#c6c6c6 69.44%,#dadada 70.28%,#e5e5e5 71.25%,#e5e5e5 72.5%,#d7d7d7 74.17%,#a1a1a1 78.06%,#959595 79.58%,#969696 81.11%,#a2a2a2 82.78%,#b3b3b3 84.03%,#dadada 86.67%,#eeeeee 88.89%,#fbfbfb 91.94%,#ffffff 98.06%,#ffffff 100%)}
.k46{width:94.0px;height:94.0px;left:-47.0px;top:-47.0px;background:conic-gradient(#ffffff 0%,#fcfcfc 4.44%,#f2f2f2 6.11%,#e1e1e1 7.22%,#c8c8c8 8.19%,#a7a7a7 9.03%,#757575 10%,#2d2d2d 11.25%,#0f0f0f 11.94%,#000000 12.5%,#000000 13.47%,#080808 13.75%,#232323 14.31%,#666666 15.28%,#a1a1a1 16.11%,#c1c1c1 16.67%,#dedede 17.36%,#f0f0f0 18.06%,#fbfbfb 19.03%,#ffffff 21.25%,#fcfcfc 27.22%,#f1f1f1 29.72%,#d3d3d3 32.78%,#c6c6c6 34.44%,#c6c6c6 35.83%,#d3d3d3 37.5%,#f2f2f2 40.42%,#fcfcfc 42.5%,#fdfdfd 47.08%,#f4f4f4 52.08%,#ebebeb 53.47%,#d8d8d8 54.86%,#bcbcbc 56.11%,#989898 57.22%,#656565 58.47%,#212121 59.86%,#040404 60.56%,#000000 60.69%,#000000 63.33%,#111111 63.75%,#353535 64.44%,#959595 66.11%,#b5b5b5 66.81%,#cdcdcd 67.5%,#dfdfdf 68.33%,#e9e9e9 69.31%,#e9e9e9 70.56%,#dcdcdc 72.22%,#b5b5b5 75%,#9c9c9c 76.94%,#949494 78.47%,#999999 80%,#adadad 81.94%,#e1e1e1 85.69%,#f3f3f3 87.92%,#fdfdfd 91.11%,#ffffff 100%)}
.k47{width:96.0px;height:96.0px;left:-48.0px;top:-48.0px;background:conic-gradient(#ffffff 0%,#fafafa 3.47%,#efefef 5%,#dcdcdc 6.11%,#c5c5c5 6.94%,#a4a4a4 7.78%,#6a6a6a 8.89%,#252525 10.14%,#0a0a0a 10.83%,#020202 11.25%,#010101 11.67%,#090909 12.08%,#1a1a1a 12.64%,#3f3f3f 13.33%,#a5a5a5 14.86%,#cacaca 15.56%,#e4e4e4 16.25%,#f5f5f5 17.08%,#fdfdfd 18.19%,#fefefe 24.03%,#f8f8f8 27.22%,#e9e9e9 29.44%,#c7c7c7 32.92%,#c3c3c3 34.31%,#cccccc 35.83%,#f1f1f1 39.31%,#fcfcfc 41.53%,#fcfcfc 45.56%,#f2f2f2 49.03%,#e4e4e4 51.53%,#d5d5d5 52.92%,#b8b8b8 54.17%,#919191 55.42%,#2a2a2a 58.06%,#060606 59.31%,#000000 59.86%,#020202 60.69%,#121212 61.39%,#2e2e2e 62.08%,#6e6e6e 63.33%,#a6a6a6 64.44%,#c7c7c7 65.28%,#dedede 66.11%,#ebebeb 67.08%,#eeeeee 68.33%,#e4e4e4 70%,#c9c9c9 72.22%,#9f9f9f 75.14%,#959595 76.67%,#979797 78.06%,#a6a6a6 79.72%,#e1e1e1 84.17%,#f3f3f3 86.25%,#fcfcfc 89.17%,#ffffff 99.44%,#ffffff 100%)}
.k48{width:98.0px;height:98.0px;left:-49.0px;top:-49.0px;background:conic-gradient(#fefefe 0%,#f8f8f8 2.64%,#ebebeb 4.03%,#d8d8d8 5%,#b9b9b9 5.97%,#8e8e8e 6.94%,#252525 8.89%,#0f0f0f 9.44%,#040404 9.86%,#010101 10.42%,#070707 10.83%,#1b1b1b 11.39%,#3b3b3b 11.94%,#a7a7a7 13.61%,#d0d0d0 14.44%,#e7e7e7 15.14%,#f6f6f6 15.97%,#fefefe 17.22%,#fdfdfd 24.17%,#f4f4f4 26.81%,#e0e0e0 29.17%,#c6c6c6 31.81%,#c2c2c2 33.19%,#cbcbcb 34.72%,#f1f1f1 38.19%,#fbfbfb 40.28%,#fcfcfc 43.47%,#f3f3f3 46.67%,#e0e0e0 49.17%,#cacaca 50.97%,#aeaeae 52.5%,#9b9b9b 53.19%,#595959 55%,#2d2d2d 56.25%,#181818 57.08%,#111111 57.78%,#131313 58.47%,#1d1d1d 59.17%,#313131 59.86%,#4d4d4d 60.56%,#aeaeae 62.64%,#d0d0d0 63.61%,#e3e3e3 64.44%,#eeeeee 65.42%,#f0f0f0 66.67%,#e5e5e5 68.47%,#c9c9c9 70.83%,#9f9f9f 73.75%,#959595 75.14%,#979797 76.53%,#a7a7a7 78.19%,#dedede 82.22%,#f3f3f3 84.72%,#fdfdfd 87.64%,#ffffff 99.58%,#fefefe 100%)}
.k49{width:100.0px;height:100.0px;left:-50.0px;top:-50.0px;background:conic-gradient(#fdfdfd 0%,#f5f5f5 1.94%,#e5e5e5 3.19%,#cecece 4.17%,#afafaf 5%,#797979 6.11%,#2e2e2e 7.5%,#151515 8.06%,#030303 8.75%,#010101 9.31%,#080808 9.72%,#242424 10.42%,#505050 11.11%,#a6a6a6 12.36%,#c3c3c3 12.92%,#dedede 13.61%,#f1f1f1 14.44%,#fcfcfc 15.56%,#ffffff 18.89%,#fbfbfb 24.03%,#efefef 26.39%,#c5c5c5 30.69%,#c1c1c1 32.08%,#c9c9c9 33.61%,#f0f0f0 37.08%,#fbfbfb 39.17%,#fcfcfc 42.08%,#f1f1f1 45.14%,#e0e0e0 47.08%,#c0c0c0 49.17%,#9f9f9f 50.83%,#6d6d6d 52.64%,#363636 54.31%,#252525 55%,#1b1b1b 55.69%,#191919 56.25%,#202020 56.94%,#313131 57.64%,#4a4a4a 58.33%,#b3b3b3 60.83%,#d2d2d2 61.81%,#e6e6e6 62.78%,#f1f1f1 63.89%,#f0f0f0 65.42%,#e2e2e2 67.36%,#c3c3c3 69.86%,#9f9f9f 72.5%,#959595 73.89%,#979797 75.14%,#a8a8a8 76.81%,#dedede 80.56%,#f1f1f1 82.78%,#fcfcfc 85.56%,#ffffff 94.17%,#fdfdfd 100%)}
.k50{width:102.0px;height:102.0px;left:-51.0px;top:-51.0px;background:conic-gradient(#f9f9f9 0%,#eeeeee 1.39%,#dbdbdb 2.5%,#c3c3c3 3.33%,#a1a1a1 4.17%,#6d6d6d 5.14%,#313131 6.25%,#131313 6.94%,#020202 7.64%,#010101 8.06%,#060606 8.47%,#131313 8.89%,#2d2d2d 9.44%,#767676 10.56%,#adadad 11.39%,#cacaca 11.94%,#e4e4e4 12.64%,#f4f4f4 13.47%,#fdfdfd 14.72%,#fefefe 20.69%,#f6f6f6 24.03%,#e6e6e6 26.25%,#c4c4c4 29.58%,#c0c0c0 30.97%,#c9c9c9 32.5%,#f1f1f1 36.11%,#fbfbfb 38.19%,#fbfbfb 40.97%,#f0f0f0 43.33%,#dfdfdf 45.28%,#c3c3c3 47.08%,#8d8d8d 49.44%,#383838 52.64%,#262626 53.61%,#212121 54.44%,#292929 55.28%,#3a3a3a 55.97%,#535353 56.67%,#b2b2b2 58.89%,#d4d4d4 60%,#e9e9e9 61.11%,#f2f2f2 62.36%,#f1f1f1 64.03%,#e1e1e1 66.11%,#bfbfbf 68.75%,#a0a0a0 71.11%,#979797 72.64%,#9b9b9b 74.03%,#acacac 75.56%,#dedede 79.03%,#f1f1f1 81.11%,#fcfcfc 83.89%,#ffffff 91.67%,#fdfdfd 99.03%,#f9f9f9 100%)}
.k51{width:104.0px;height:104.0px;left:-52.0px;top:-52.0px;background:conic-gradient(#f1f1f1 0%,#e0e0e0 1.11%,#c7c7c7 2.08%,#a7a7a7 2.92%,#777777 3.89%,#232323 5.42%,#0e0e0e 5.97%,#020202 6.53%,#020202 7.08%,#090909 7.5%,#242424 8.19%,#4e4e4e 8.89%,#a1a1a1 10.14%,#c7c7c7 10.83%,#e2e2e2 11.53%,#f2f2f2 12.22%,#fcfcfc 13.19%,#ffffff 16.11%,#fafafa 21.53%,#efefef 24.03%,#d3d3d3 26.81%,#c2c2c2 28.75%,#c0c0c0 30.14%,#cbcbcb 31.67%,#f1f1f1 35.14%,#fbfbfb 37.22%,#f9f9f9 39.86%,#ededed 42.08%,#d3d3d3 44.31%,#b5b5b5 45.97%,#818181 48.06%,#474747 50.28%,#2f2f2f 51.53%,#292929 52.36%,#2b2b2b 53.06%,#353535 53.75%,#474747 54.44%,#696969 55.42%,#b8b8b8 57.36%,#d6d6d6 58.33%,#e7e7e7 59.17%,#f2f2f2 60.42%,#f3f3f3 62.08%,#e5e5e5 64.31%,#cacaca 66.67%,#a3a3a3 69.58%,#999999 71.11%,#9b9b9b 72.5%,#ababab 74.03%,#dedede 77.5%,#f2f2f2 79.58%,#fcfcfc 82.22%,#ffffff 90.14%,#fdfdfd 97.92%,#f3f3f3 99.72%,#f1f1f1 100%)}
.k52{width:106.0px;height:106.0px;left:-53.0px;top:-53.0px;background:conic-gradient(#e0e0e0 0%,#c7c7c7 0.97%,#a8a8a8 1.81%,#7a7a7a 2.78%,#292929 4.31%,#0e0e0e 5%,#030303 5.42%,#010101 5.83%,#050505 6.25%,#111111 6.67%,#2a2a2a 7.22%,#666666 8.19%,#a5a5a5 9.17%,#c9c9c9 9.86%,#e3e3e3 10.56%,#f4f4f4 11.39%,#fdfdfd 12.5%,#fefefe 18.06%,#f6f6f6 21.53%,#e6e6e6 23.89%,#c3c3c3 27.36%,#bfbfbf 28.75%,#c7c7c7 30.28%,#f0f0f0 34.03%,#fafafa 35.97%,#f9f9f9 38.33%,#efefef 40.42%,#dadada 42.22%,#b0b0b0 44.44%,#757575 46.81%,#484848 48.61%,#333333 49.86%,#2e2e2e 50.69%,#303030 51.39%,#3a3a3a 52.08%,#4c4c4c 52.78%,#7e7e7e 54.17%,#bcbcbc 55.83%,#dcdcdc 56.94%,#eeeeee 58.06%,#f5f5f5 59.31%,#f1f1f1 61.25%,#e0e0e0 63.47%,#bebebe 66.25%,#a2a2a2 68.47%,#9a9a9a 70%,#9e9e9e 71.39%,#b1b1b1 73.06%,#dfdfdf 76.11%,#f3f3f3 78.19%,#fcfcfc 80.83%,#ffffff 90.69%,#fcfcfc 97.08%,#f3f3f3 98.75%,#e0e0e0 100%)}
.k53{width:108.0px;height:108.0px;left:-54.0px;top:-54.0px;background:conic-gradient(#c4c4c4 0%,#a5a5a5 0.83%,#707070 1.94%,#2a2a2a 3.33%,#111111 4.03%,#070707 4.58%,#070707 5.14%,#151515 5.69%,#2e2e2e 6.25%,#6a6a6a 7.22%,#afafaf 8.33%,#d0d0d0 9.03%,#e7e7e7 9.72%,#f6f6f6 10.56%,#fefefe 11.81%,#fcfcfc 17.92%,#f3f3f3 20.83%,#dfdfdf 23.33%,#c2c2c2 26.25%,#bebebe 27.64%,#c7c7c7 29.17%,#f0f0f0 32.92%,#fafafa 35%,#f8f8f8 37.36%,#ebebeb 39.31%,#d6d6d6 40.97%,#b9b9b9 42.5%,#4e4e4e 46.81%,#393939 48.06%,#333333 49.03%,#363636 49.86%,#424242 50.69%,#5c5c5c 51.67%,#8d8d8d 52.92%,#b2b2b2 53.89%,#d3d3d3 55%,#e8e8e8 56.11%,#f4f4f4 57.36%,#f4f4f4 59.03%,#e7e7e7 61.39%,#cdcdcd 63.89%,#a6a6a6 66.94%,#9c9c9c 68.47%,#9f9f9f 69.86%,#aeaeae 71.39%,#e5e5e5 75.14%,#f5f5f5 77.08%,#fdfdfd 80%,#fefefe 95.42%,#f6f6f6 97.36%,#e7e7e7 98.61%,#d0d0d0 99.58%,#c4c4c4 100%)}
.k54{width:110.0px;height:110.0px;left:-55.0px;top:-55.0px;background:conic-gradient(#9d9d9d 0%,#2c2c2c 2.36%,#161616 3.06%,#0e0e0e 3.61%,#0e0e0e 4.03%,#1c1c1c 4.72%,#343434 5.28%,#525252 5.83%,#a9a9a9 7.22%,#cbcbcb 7.92%,#e3e3e3 8.61%,#f4f4f4 9.44%,#fdfdfd 10.56%,#fefefe 15%,#f7f7f7 18.75%,#e7e7e7 21.25%,#c2c2c2 25.14%,#bebebe 26.53%,#c6c6c6 28.06%,#efefef 31.81%,#f8f8f8 33.75%,#f7f7f7 35.97%,#ececec 37.78%,#d8d8d8 39.44%,#b7b7b7 41.11%,#5e5e5e 44.58%,#444444 45.97%,#383838 47.08%,#393939 48.06%,#444444 49.03%,#5a5a5a 50%,#858585 51.25%,#c8c8c8 53.06%,#dddddd 53.89%,#ededed 55%,#f5f5f5 56.39%,#f2f2f2 58.33%,#e2e2e2 60.69%,#bebebe 63.75%,#a4a4a4 65.97%,#9d9d9d 67.36%,#a1a1a1 68.75%,#b3b3b3 70.42%,#e5e5e5 73.89%,#f6f6f6 75.83%,#fefefe 78.75%,#fdfdfd 94.58%,#f6f6f6 96.39%,#e7e7e7 97.64%,#d0d0d0 98.61%,#aeaeae 99.58%,#9d9d9d 100%)}
.k55{width:112.0px;height:112.0px;left:-56.0px;top:-56.0px;background:conic-gradient(#6f6f6f 0%,#353535 1.25%,#1e1e1e 1.94%,#141414 2.64%,#181818 3.19%,#242424 3.75%,#484848 4.58%,#b0b0b0 6.39%,#d0d0d0 7.08%,#e6e6e6 7.78%,#f5f5f5 8.61%,#fdfdfd 9.86%,#fcfcfc 15.14%,#f3f3f3 18.33%,#e0e0e0 20.83%,#c1c1c1 24.03%,#bdbdbd 25.56%,#c6c6c6 27.08%,#eeeeee 30.69%,#f7f7f7 32.64%,#f5f5f5 34.86%,#e6e6e6 36.94%,#d0d0d0 38.47%,#adadad 40.14%,#575757 43.47%,#434343 44.72%,#3c3c3c 45.69%,#3f3f3f 46.67%,#4b4b4b 47.64%,#686868 48.89%,#9b9b9b 50.42%,#cdcdcd 51.94%,#e7e7e7 53.06%,#f1f1f1 54.03%,#f5f5f5 55.69%,#ececec 58.06%,#d6d6d6 60.56%,#a7a7a7 64.58%,#9f9f9f 66.11%,#a3a3a3 67.5%,#b5b5b5 69.17%,#e6e6e6 72.64%,#f6f6f6 74.58%,#fefefe 77.36%,#fdfdfd 93.61%,#f6f6f6 95.42%,#e7e7e7 96.67%,#d0d0d0 97.64%,#aeaeae 98.61%,#6f6f6f 100%)}
.k56{width:114.0px;height:114.0px;left:-57.0px;top:-57.0px;background:conic-gradient(#444444 0%,#282828 0.83%,#1c1c1c 1.53%,#1d1d1d 2.08%,#272727 2.64%,#414141 3.33%,#848484 4.58%,#b7b7b7 5.56%,#d9d9d9 6.39%,#ececec 7.08%,#f9f9f9 8.06%,#fefefe 9.72%,#fafafa 15%,#eeeeee 17.78%,#d6d6d6 20.56%,#bfbfbf 23.06%,#bdbdbd 24.58%,#c7c7c7 26.11%,#ededed 29.58%,#f6f6f6 31.39%,#f3f3f3 33.47%,#e6e6e6 35.42%,#cecece 37.22%,#aaaaaa 38.89%,#5e5e5e 41.94%,#484848 43.19%,#414141 44.03%,#444444 45.14%,#525252 46.25%,#6f6f6f 47.5%,#a8a8a8 49.44%,#d1d1d1 50.83%,#e8e8e8 51.94%,#f4f4f4 53.19%,#f4f4f4 55%,#e6e6e6 57.64%,#c9c9c9 60.42%,#a9a9a9 63.33%,#a1a1a1 64.86%,#a4a4a4 66.25%,#b6b6b6 67.92%,#e6e6e6 71.39%,#f7f7f7 73.47%,#fefefe 76.25%,#fdfdfd 92.64%,#f6f6f6 94.44%,#e7e7e7 95.69%,#d1d1d1 96.67%,#b0b0b0 97.64%,#6a6a6a 99.17%,#444444 100%)}
.k57{width:116.0px;height:116.0px;left:-58.0px;top:-58.0px;background:conic-gradient(#2b2b2b 0%,#222222 0.56%,#252525 1.25%,#363636 1.94%,#535353 2.64%,#b8b8b8 4.58%,#d8d8d8 5.42%,#ededed 6.25%,#f9f9f9 7.22%,#fefefe 9.03%,#f9f9f9 14.03%,#ececec 16.81%,#cccccc 20.28%,#bdbdbd 22.22%,#bdbdbd 23.75%,#cacaca 25.42%,#ececec 28.47%,#f5f5f5 30.28%,#f2f2f2 32.22%,#e3e3e3 34.17%,#cacaca 35.97%,#a5a5a5 37.78%,#676767 40.28%,#515151 41.53%,#474747 42.64%,#484848 43.61%,#565656 44.72%,#757575 46.11%,#c0c0c0 48.89%,#e0e0e0 50.28%,#f0f0f0 51.53%,#f5f5f5 52.92%,#ececec 55.28%,#d6d6d6 58.06%,#ababab 61.94%,#a3a3a3 63.61%,#a7a7a7 65.14%,#b8b8b8 66.81%,#e6e6e6 70.14%,#f7f7f7 72.22%,#fefefe 75.14%,#fdfdfd 91.67%,#f6f6f6 93.47%,#e7e7e7 94.72%,#d2d2d2 95.69%,#b1b1b1 96.67%,#6d6d6d 98.19%,#434343 99.17%,#2d2d2d 99.86%,#2b2b2b 100%)}
.k58{width:118.0px;height:118.0px;left:-59.0px;top:-59.0px;background:conic-gradient(#292929 0%,#313131 0.56%,#404040 1.11%,#646464 1.94%,#b8b8b8 3.61%,#d8d8d8 4.44%,#ececec 5.28%,#f9f9f9 6.39%,#fefefe 8.33%,#f8f8f8 12.92%,#eaeaea 15.83%,#bebebe 20.69%,#bbbbbb 22.22%,#c4c4c4 23.75%,#ebebeb 27.36%,#f4f4f4 29.17%,#f0f0f0 31.11%,#dfdfdf 33.06%,#c5c5c5 34.86%,#959595 37.08%,#666666 39.17%,#545454 40.42%,#4e4e4e 41.53%,#545454 42.64%,#636363 43.75%,#8d8d8d 45.42%,#c6c6c6 47.64%,#dfdfdf 49.03%,#efefef 50.42%,#f3f3f3 51.94%,#eaeaea 54.31%,#d0d0d0 57.36%,#acacac 60.83%,#a5a5a5 62.5%,#a9a9a9 64.03%,#bcbcbc 65.83%,#e7e7e7 69.03%,#f7f7f7 71.11%,#fefefe 74.03%,#fdfdfd 90.69%,#f5f5f5 92.64%,#e6e6e6 93.89%,#cfcfcf 94.86%,#adadad 95.83%,#4d4d4d 98.06%,#363636 98.75%,#2b2b2b 99.31%,#292929 100%)}
.k59{width:120.0px;height:120.0px;left:-60.0px;top:-60.0px;background:conic-gradient(#414141 0%,#616161 0.83%,#b7b7b7 2.64%,#d7d7d7 3.47%,#ebebeb 4.31%,#f8f8f8 5.28%,#fdfdfd 6.94%,#f8f8f8 11.39%,#eaeaea 14.44%,#bdbdbd 19.58%,#bababa 21.11%,#c3c3c3 22.64%,#e9e9e9 26.25%,#f2f2f2 28.06%,#efefef 29.72%,#dfdfdf 31.67%,#c5c5c5 33.47%,#949494 35.83%,#676767 38.06%,#585858 39.31%,#565656 40.42%,#5f5f5f 41.53%,#777777 42.92%,#9b9b9b 44.44%,#cacaca 46.39%,#e2e2e2 47.78%,#eeeeee 49.31%,#f2f2f2 50.97%,#e7e7e7 53.33%,#cacaca 56.67%,#acacac 59.86%,#a6a6a6 61.53%,#adadad 63.06%,#c2c2c2 65%,#e8e8e8 67.92%,#f8f8f8 70%,#fefefe 73.06%,#fdfdfd 89.72%,#f5f5f5 91.67%,#e9e9e9 92.78%,#d4d4d4 93.75%,#b5b5b5 94.72%,#7a7a7a 96.11%,#4c4c4c 97.22%,#343434 98.06%,#2d2d2d 98.75%,#313131 99.31%,#414141 100%)}
.k60{width:122.0px;height:122.0px;left:-61.0px;top:-61.0px;background:conic-gradient(#6a6a6a 0%,#bdbdbd 1.81%,#dddddd 2.78%,#f1f1f1 3.75%,#fbfbfb 5%,#fcfcfc 7.78%,#f2f2f2 11.53%,#dfdfdf 14.44%,#bebebe 18.19%,#b9b9b9 19.86%,#c1c1c1 21.39%,#e9e9e9 25.28%,#efefef 27.08%,#eaeaea 29.03%,#d8d8d8 30.83%,#b6b6b6 32.92%,#727272 36.25%,#616161 37.64%,#5d5d5d 38.75%,#646464 39.86%,#767676 41.11%,#bfbfbf 44.44%,#dcdcdc 45.97%,#ececec 47.5%,#f1f1f1 49.17%,#eaeaea 51.39%,#d3d3d3 54.44%,#b1b1b1 58.19%,#a8a8a8 60%,#acacac 61.53%,#bfbfbf 63.47%,#e9e9e9 66.81%,#f8f8f8 68.89%,#fefefe 72.08%,#fdfdfd 88.75%,#f6f6f6 90.69%,#e7e7e7 91.94%,#d2d2d2 92.92%,#adadad 94.03%,#515151 96.25%,#3c3c3c 96.94%,#333333 97.64%,#363636 98.33%,#414141 98.89%,#5e5e5e 99.72%,#6a6a6a 100%)}
.k61{width:124.0px;height:124.0px;left:-62.0px;top:-62.0px;background:conic-gradient(#989898 0%,#c6c6c6 1.11%,#dfdfdf 1.94%,#f1f1f1 2.92%,#fbfbfb 4.17%,#fbfbfb 6.94%,#f0f0f0 10.56%,#dbdbdb 13.61%,#bdbdbd 17.08%,#b9b9b9 18.75%,#c1c1c1 20.42%,#e6e6e6 24.03%,#ededed 25.83%,#e8e8e8 27.64%,#d9d9d9 29.31%,#bcbcbc 31.25%,#777777 34.86%,#686868 36.11%,#646464 37.22%,#6b6b6b 38.47%,#808080 39.86%,#cacaca 43.47%,#e3e3e3 45.14%,#efefef 46.67%,#f0f0f0 48.47%,#e1e1e1 51.39%,#b0b0b0 57.08%,#aaaaaa 59.03%,#b0b0b0 60.69%,#c6c6c6 62.78%,#ebebeb 65.83%,#f9f9f9 67.92%,#ffffff 71.39%,#fdfdfd 87.78%,#f6f6f6 89.72%,#e7e7e7 90.97%,#d0d0d0 92.08%,#b0b0b0 93.06%,#5b5b5b 95.14%,#454545 95.83%,#393939 96.53%,#393939 97.22%,#424242 97.78%,#575757 98.47%,#919191 99.86%,#989898 100%)}
.k62{width:126.0px;height:126.0px;left:-63.0px;top:-63.0px;background:conic-gradient(#bfbfbf 0%,#e1e1e1 1.11%,#f1f1f1 2.08%,#fafafa 3.33%,#f9f9f9 6.11%,#ededed 9.72%,#d5d5d5 12.92%,#bcbcbc 15.97%,#b8b8b8 17.64%,#c0c0c0 19.31%,#e5e5e5 22.92%,#eaeaea 24.44%,#e6e6e6 26.25%,#d5d5d5 28.19%,#bdbdbd 29.86%,#7e7e7e 33.33%,#6e6e6e 34.72%,#6a6a6a 35.83%,#707070 36.94%,#868686 38.47%,#cbcbcb 41.94%,#e2e2e2 43.61%,#efefef 45.28%,#f0f0f0 47.08%,#e5e5e5 49.44%,#c5c5c5 53.33%,#afafaf 56.11%,#ababab 57.92%,#b3b3b3 59.72%,#cdcdcd 62.08%,#ececec 64.86%,#fafafa 67.08%,#ffffff 70.97%,#fdfdfd 86.81%,#f6f6f6 88.75%,#e8e8e8 90%,#d1d1d1 91.11%,#b3b3b3 92.08%,#5c5c5c 94.31%,#444444 95.14%,#3d3d3d 95.69%,#3d3d3d 96.25%,#4c4c4c 97.08%,#6f6f6f 98.06%,#bababa 99.86%,#bfbfbf 100%)}
.k63{width:128.0px;height:128.0px;left:-64.0px;top:-64.0px;background:conic-gradient(#dcdcdc 0%,#f0f0f0 1.11%,#f9f9f9 2.36%,#f8f8f8 4.86%,#ebebeb 8.61%,#d1d1d1 12.08%,#bababa 15%,#b8b8b8 16.67%,#c1c1c1 18.33%,#e3e3e3 21.81%,#e9e9e9 23.47%,#e1e1e1 25.42%,#cdcdcd 27.36%,#adadad 29.44%,#828282 31.94%,#747474 33.33%,#707070 34.58%,#787878 35.83%,#8e8e8e 37.22%,#cccccc 40.42%,#e2e2e2 42.08%,#eeeeee 43.89%,#f0f0f0 45.83%,#e4e4e4 48.33%,#b1b1b1 54.58%,#acacac 56.53%,#b3b3b3 58.33%,#c9c9c9 60.56%,#ececec 63.75%,#fafafa 66.11%,#ffffff 70.28%,#fdfdfd 85.83%,#f5f5f5 87.92%,#e7e7e7 89.17%,#cfcfcf 90.28%,#acacac 91.39%,#5d5d5d 93.47%,#474747 94.31%,#414141 95%,#474747 95.69%,#5c5c5c 96.53%,#949494 97.92%,#c4c4c4 99.17%,#dcdcdc 100%)}
.k64{width:130.0px;height:130.0px;left:-65.0px;top:-65.0px;background:conic-gradient(#ededed 0%,#f7f7f7 1.25%,#f8f8f8 3.47%,#eaeaea 7.08%,#d1d1d1 10.69%,#bababa 13.75%,#b7b7b7 15.56%,#c0c0c0 17.22%,#e3e3e3 20.83%,#e8e8e8 22.36%,#e2e2e2 23.89%,#c9c9c9 26.25%,#9a9a9a 29.31%,#7f7f7f 31.11%,#767676 32.36%,#777777 33.61%,#828282 34.86%,#a1a1a1 36.67%,#cacaca 38.75%,#e2e2e2 40.56%,#eeeeee 42.36%,#efefef 44.58%,#e4e4e4 47.08%,#b2b2b2 53.19%,#acacac 55.14%,#b2b2b2 56.94%,#cccccc 59.58%,#eeeeee 62.78%,#fafafa 65.14%,#ffffff 69.44%,#fdfdfd 84.72%,#f4f4f4 86.94%,#e5e5e5 88.33%,#cecece 89.44%,#ababab 90.56%,#636363 92.5%,#505050 93.19%,#474747 93.89%,#494949 94.58%,#5a5a5a 95.42%,#838383 96.53%,#bfbfbf 98.06%,#dbdbdb 99.03%,#ededed 100%)}
.k65{width:132.0px;height:132.0px;left:-66.0px;top:-66.0px;background:conic-gradient(#f4f4f4 0%,#f7f7f7 1.81%,#ececec 5.28%,#d2d2d2 9.17%,#b9b9b9 12.5%,#b6b6b6 14.31%,#c0c0c0 16.11%,#e2e2e2 19.72%,#e7e7e7 21.39%,#dfdfdf 23.06%,#c2c2c2 25.42%,#858585 29.58%,#7a7a7a 30.97%,#7b7b7b 32.22%,#888888 33.61%,#a6a6a6 35.42%,#d4d4d4 37.92%,#e8e8e8 39.72%,#f0f0f0 41.67%,#ededed 44.03%,#dbdbdb 46.94%,#b5b5b5 51.39%,#adadad 53.47%,#b0b0b0 55.28%,#c0c0c0 57.36%,#ebebeb 61.39%,#f9f9f9 63.75%,#ffffff 67.64%,#fdfdfd 83.47%,#f5f5f5 85.83%,#e7e7e7 87.22%,#d3d3d3 88.33%,#b3b3b3 89.44%,#646464 91.67%,#505050 92.5%,#4b4b4b 93.19%,#515151 93.89%,#616161 94.58%,#848484 95.56%,#c3c3c3 97.22%,#dedede 98.19%,#efefef 99.31%,#f4f4f4 100%)}
.k66{width:134.0px;height:134.0px;left:-67.0px;top:-67.0px;background:conic-gradient(#f6f6f6 0%,#f0f0f0 2.78%,#dcdcdc 6.25%,#bababa 11.11%,#b5b5b5 12.92%,#bdbdbd 14.72%,#e2e2e2 18.75%,#e6e6e6 20.28%,#dfdfdf 21.81%,#c8c8c8 23.75%,#8c8c8c 27.92%,#7f7f7f 29.44%,#7e7e7e 30.69%,#898989 32.08%,#aaaaaa 34.17%,#d6d6d6 36.67%,#e7e7e7 38.19%,#f0f0f0 40.14%,#ededed 42.5%,#dbdbdb 45.56%,#b4b4b4 50.42%,#adadad 52.5%,#b1b1b1 54.31%,#c4c4c4 56.53%,#eaeaea 60.14%,#f9f9f9 62.64%,#ffffff 66.53%,#fdfdfd 82.22%,#f5f5f5 84.86%,#e7e7e7 86.25%,#d1d1d1 87.5%,#b2b2b2 88.61%,#6b6b6b 90.69%,#575757 91.53%,#505050 92.22%,#545454 92.92%,#676767 93.75%,#949494 95%,#c6c6c6 96.39%,#dfdfdf 97.36%,#efefef 98.47%,#f6f6f6 99.86%,#f6f6f6 100%)}
.k67{width:136.0px;height:136.0px;left:-68.0px;top:-68.0px;background:conic-gradient(#f3f3f3 0%,#e3e3e3 3.75%,#b9b9b9 9.86%,#b5b5b5 11.81%,#bebebe 13.75%,#e1e1e1 17.64%,#e5e5e5 19.31%,#dcdcdc 20.97%,#c4c4c4 22.92%,#959595 26.11%,#848484 27.78%,#818181 29.17%,#888888 30.42%,#9f9f9f 32.08%,#d5d5d5 35.28%,#e9e9e9 37.08%,#f0f0f0 38.89%,#ebebeb 41.39%,#d7d7d7 44.72%,#b3b3b3 49.31%,#adadad 51.39%,#b3b3b3 53.33%,#c7c7c7 55.69%,#ececec 59.17%,#fafafa 61.67%,#ffffff 65.69%,#fdfdfd 81.25%,#f4f4f4 83.89%,#e5e5e5 85.42%,#cecece 86.67%,#a8a8a8 88.06%,#6e6e6e 89.86%,#5b5b5b 90.69%,#565656 91.39%,#585858 91.94%,#696969 92.78%,#8e8e8e 93.89%,#c5c5c5 95.42%,#dddddd 96.39%,#ededed 97.5%,#f4f4f4 98.89%,#f3f3f3 100%)}
.k68{width:138.0px;height:138.0px;left:-69.0px;top:-69.0px;background:conic-gradient(#eeeeee 0%,#d5d5d5 4.31%,#b9b9b9 8.33%,#b4b4b4 10.42%,#bbbbbb 12.22%,#e1e1e1 16.67%,#e5e5e5 18.19%,#dbdbdb 19.86%,#c3c3c3 21.81%,#959595 25%,#868686 26.67%,#858585 28.06%,#8f8f8f 29.44%,#a9a9a9 31.25%,#d4d4d4 33.89%,#e8e8e8 35.83%,#efefef 37.78%,#e9e9e9 40.42%,#d1d1d1 44.17%,#b3b3b3 48.19%,#aeaeae 50.28%,#b4b4b4 52.22%,#cacaca 54.72%,#ededed 58.19%,#fafafa 60.69%,#ffffff 65%,#fdfdfd 80.42%,#f3f3f3 82.92%,#e3e3e3 84.58%,#cccccc 85.83%,#a6a6a6 87.22%,#6d6d6d 89.17%,#5e5e5e 90%,#5b5b5b 90.69%,#656565 91.53%,#7b7b7b 92.36%,#c3c3c3 94.44%,#dedede 95.56%,#ededed 96.67%,#f2f2f2 98.19%,#eeeeee 100%)}
.k69{width:140.0px;height:140.0px;left:-70.0px;top:-70.0px;background:conic-gradient(#e6e6e6 0%,#b7b7b7 7.36%,#b4b4b4 9.44%,#bebebe 11.53%,#e0e0e0 15.42%,#e4e4e4 17.08%,#dcdcdc 18.61%,#c5c5c5 20.56%,#979797 23.75%,#898989 25.42%,#888888 26.81%,#919191 28.19%,#b4b4b4 30.56%,#d8d8d8 32.92%,#e7e7e7 34.58%,#ededed 36.53%,#e8e8e8 39.03%,#d2d2d2 42.5%,#b3b3b3 46.94%,#aeaeae 49.17%,#b5b5b5 51.11%,#cccccc 53.75%,#ededed 57.22%,#fafafa 59.72%,#ffffff 64.31%,#fdfdfd 79.44%,#f5f5f5 81.67%,#e2e2e2 83.61%,#cacaca 85%,#a1a1a1 86.53%,#767676 88.06%,#646464 89.03%,#616161 89.72%,#666666 90.42%,#787878 91.25%,#afafaf 92.92%,#d0d0d0 94.03%,#e4e4e4 95.14%,#eeeeee 96.39%,#ededed 98.33%,#e6e6e6 100%)}
.k70{width:142.0px;height:142.0px;left:-71.0px;top:-71.0px;background:conic-gradient(#dcdcdc 0%,#b7b7b7 5.83%,#b3b3b3 7.92%,#bbbbbb 10%,#e0e0e0 14.44%,#e3e3e3 16.11%,#dadada 17.78%,#bdbdbd 20%,#989898 22.64%,#8c8c8c 24.17%,#8b8b8b 25.69%,#959595 27.08%,#b1b1b1 29.03%,#d7d7d7 31.53%,#e7e7e7 33.33%,#ebebeb 35.97%,#e1e1e1 38.89%,#b5b5b5 45.42%,#afafaf 47.78%,#b6b6b6 50%,#cccccc 52.64%,#ededed 56.11%,#fafafa 58.75%,#ffffff 63.61%,#fdfdfd 78.75%,#f4f4f4 80.97%,#dedede 82.92%,#c4c4c4 84.31%,#909090 86.25%,#717171 87.5%,#676767 88.33%,#676767 89.17%,#737373 90%,#8d8d8d 90.97%,#c6c6c6 92.78%,#dddddd 93.89%,#e9e9e9 95%,#ececec 96.53%,#e0e0e0 99.31%,#dcdcdc 100%)}
.k71{width:144.0px;height:144.0px;left:-72.0px;top:-72.0px;background:conic-gradient(#d1d1d1 0%,#b7b7b7 4.44%,#b3b3b3 6.81%,#bbbbbb 8.89%,#e0e0e0 13.33%,#e3e3e3 15%,#dadada 16.67%,#bfbfbf 18.75%,#9b9b9b 21.39%,#8e8e8e 23.06%,#8e8e8e 24.58%,#9a9a9a 26.11%,#b9b9b9 28.19%,#d6d6d6 30.14%,#e6e6e6 31.94%,#eaeaea 33.75%,#e0e0e0 37.22%,#c2c2c2 41.94%,#b2b2b2 44.86%,#b1b1b1 47.22%,#bcbcbc 49.58%,#efefef 55.28%,#fbfbfb 58.06%,#ffffff 63.89%,#fdfdfd 78.06%,#f3f3f3 80.28%,#e3e3e3 81.67%,#bebebe 83.61%,#797979 86.39%,#6c6c6c 87.22%,#6a6a6a 88.06%,#737373 88.89%,#858585 89.72%,#c6c6c6 91.94%,#dcdcdc 93.06%,#e7e7e7 94.31%,#e7e7e7 95.97%,#d7d7d7 99.17%,#d1d1d1 100%)}
.k72{width:146.0px;height:146.0px;left:-73.0px;top:-73.0px;background:conic-gradient(#c7c7c7 0%,#b5b5b5 3.47%,#b3b3b3 5.83%,#bcbcbc 7.78%,#e0e0e0 12.22%,#e3e3e3 13.89%,#dadada 15.56%,#c0c0c0 17.64%,#9c9c9c 20.28%,#909090 21.94%,#919191 23.47%,#a0a0a0 25.28%,#dcdcdc 29.31%,#e9e9e9 31.11%,#eaeaea 33.06%,#d1d1d1 38.19%,#b4b4b4 43.06%,#b1b1b1 45.56%,#bababa 47.92%,#d5d5d5 51.11%,#f0f0f0 54.31%,#fcfcfc 57.22%,#ffffff 64.17%,#fdfdfd 77.36%,#f4f4f4 79.31%,#e4e4e4 80.83%,#cbcbcb 82.08%,#7a7a7a 85.56%,#6e6e6e 86.53%,#6e6e6e 87.36%,#7c7c7c 88.33%,#a5a5a5 89.86%,#cacaca 91.25%,#dadada 92.22%,#e4e4e4 93.61%,#e1e1e1 95.56%,#c7c7c7 100%)}
.k73{width:148.0px;height:148.0px;left:-74.0px;top:-74.0px;background:conic-gradient(#bdbdbd 0%,#b3b3b3 2.92%,#b5b5b5 5.28%,#c4c4c4 7.64%,#e0e0e0 11.11%,#e3e3e3 12.78%,#dcdcdc 14.31%,#c3c3c3 16.39%,#9d9d9d 19.17%,#929292 20.69%,#939393 22.22%,#a0a0a0 23.89%,#bcbcbc 25.97%,#dddddd 28.19%,#e9e9e9 29.72%,#ebebeb 31.67%,#e0e0e0 33.89%,#b6b6b6 41.67%,#b2b2b2 43.89%,#bababa 46.39%,#d9d9d9 50.42%,#f2f2f2 53.61%,#fdfdfd 56.67%,#ffffff 68.89%,#fdfdfd 76.94%,#f3f3f3 78.75%,#dedede 80.42%,#c3c3c3 81.67%,#999999 83.33%,#7a7a7a 84.86%,#717171 85.69%,#717171 86.39%,#7b7b7b 87.22%,#949494 88.33%,#c4c4c4 90.14%,#d7d7d7 91.25%,#dfdfdf 92.36%,#dddddd 94.44%,#bdbdbd 100%)}
.k74{width:150.0px;height:150.0px;left:-75.0px;top:-75.0px;background:conic-gradient(#b6b6b6 0%,#b3b3b3 2.78%,#bcbcbc 5.28%,#e0e0e0 10%,#e4e4e4 11.81%,#dadada 13.47%,#bcbcbc 15.83%,#9e9e9e 18.19%,#949494 19.72%,#969696 21.25%,#a7a7a7 23.06%,#e3e3e3 27.5%,#ededed 29.17%,#ebebeb 31.11%,#dbdbdb 33.61%,#cfcfcf 35.14%,#b6b6b6 40.83%,#b4b4b4 43.06%,#bfbfbf 45.69%,#f3f3f3 52.64%,#fdfdfd 55.83%,#ffffff 74.17%,#fafafa 77.08%,#eeeeee 78.61%,#d3d3d3 80.28%,#acacac 81.81%,#939393 82.78%,#7a7a7a 84.17%,#737373 85.14%,#787878 85.97%,#898989 86.94%,#c4c4c4 89.31%,#d5d5d5 90.42%,#dcdcdc 91.53%,#d6d6d6 93.89%,#b6b6b6 100%)}
.k75{width:152.0px;height:152.0px;left:-76.0px;top:-76.0px;background:conic-gradient(#b3b3b3 0%,#b6b6b6 2.64%,#c7c7c7 5.42%,#e2e2e2 9.03%,#e4e4e4 10.83%,#dadada 12.5%,#bdbdbd 14.72%,#a0a0a0 17.08%,#969696 18.61%,#999999 20.14%,#ababab 22.08%,#e8e8e8 26.81%,#f0f0f0 28.33%,#ededed 30.14%,#dadada 32.92%,#c8c8c8 34.86%,#b7b7b7 39.72%,#b8b8b8 42.5%,#c9c9c9 45.56%,#f0f0f0 51.11%,#fcfcfc 54.31%,#ffffff 62.78%,#fdfdfd 75.83%,#f4f4f4 77.5%,#e4e4e4 78.75%,#bdbdbd 80.56%,#888888 82.5%,#797979 83.61%,#777777 84.58%,#818181 85.56%,#9b9b9b 86.81%,#c3c3c3 88.47%,#d4d4d4 89.58%,#dadada 90.83%,#d3d3d3 92.5%,#b5b5b5 98.89%,#b3b3b3 100%)}
.k76{width:154.0px;height:154.0px;left:-77.0px;top:-77.0px;background:conic-gradient(#b4b4b4 0%,#bebebe 2.78%,#e3e3e3 7.92%,#e5e5e5 9.72%,#dbdbdb 11.39%,#c0c0c0 13.61%,#a3a3a3 15.83%,#999999 17.36%,#9b9b9b 18.89%,#a9a9a9 20.56%,#e0e0e0 25%,#f2f2f2 26.94%,#f4f4f4 28.47%,#e7e7e7 30.83%,#c2c2c2 34.86%,#b9b9b9 39.03%,#bdbdbd 41.94%,#d2d2d2 45.28%,#efefef 49.72%,#fcfcfc 53.19%,#ffffff 61.25%,#fdfdfd 75.28%,#f5f5f5 76.94%,#e4e4e4 78.19%,#c2c2c2 79.72%,#818181 82.36%,#7a7a7a 83.33%,#7e7e7e 84.31%,#8e8e8e 85.28%,#c5c5c5 87.78%,#d4d4d4 88.89%,#d8d8d8 90.14%,#cfcfcf 91.94%,#c4c4c4 93.61%,#b4b4b4 98.19%,#b4b4b4 100%)}
.k77{width:156.0px;height:156.0px;left:-78.0px;top:-78.0px;background:conic-gradient(#b8b8b8 0%,#cccccc 3.33%,#e4e4e4 6.81%,#e6e6e6 8.61%,#dddddd 10.28%,#c2c2c2 12.5%,#a4a4a4 14.86%,#9b9b9b 16.39%,#9e9e9e 17.92%,#b1b1b1 19.86%,#e0e0e0 23.61%,#f6f6f6 26.53%,#f7f7f7 28.06%,#e6e6e6 30.56%,#bfbfbf 34.86%,#bcbcbc 38.61%,#c5c5c5 41.67%,#f0f0f0 48.61%,#fcfcfc 52.64%,#ffffff 73.89%,#f9f9f9 75.97%,#ededed 77.22%,#d5d5d5 78.47%,#979797 80.97%,#838383 82.08%,#7e7e7e 82.64%,#838383 83.61%,#959595 84.72%,#c4c4c4 86.94%,#d2d2d2 88.06%,#d6d6d6 89.31%,#cdcdcd 91.25%,#bdbdbd 93.33%,#b5b5b5 97.36%,#b8b8b8 100%)}
.k78{width:158.0px;height:158.0px;left:-79.0px;top:-79.0px;background:conic-gradient(#c1c1c1 0%,#e6e6e6 5.83%,#e7e7e7 7.78%,#dddddd 9.44%,#a6a6a6 13.89%,#9e9e9e 15.28%,#a1a1a1 16.81%,#b3b3b3 18.75%,#e1e1e1 22.5%,#f4f4f4 25%,#fbfbfb 27.08%,#f3f3f3 28.75%,#c0c0c0 34.86%,#c2c2c2 38.47%,#d2d2d2 42.08%,#f2f2f2 47.5%,#fdfdfd 51.81%,#fdfdfd 74.72%,#f3f3f3 76.39%,#dedede 77.64%,#b9b9b9 79.17%,#a2a2a2 80.14%,#8d8d8d 81.39%,#858585 82.36%,#8b8b8b 83.06%,#a6a6a6 84.58%,#c6c6c6 86.25%,#d4d4d4 87.5%,#d5d5d5 88.89%,#c5c5c5 91.53%,#b8b8b8 93.33%,#b7b7b7 96.94%,#c1c1c1 100%)}
.k79{width:160.0px;height:160.0px;left:-80.0px;top:-80.0px;background:conic-gradient(#cbcbcb 0%,#e7e7e7 4.72%,#e9e9e9 6.67%,#dedede 8.47%,#aaaaaa 12.78%,#a1a1a1 14.31%,#a3a3a3 15.56%,#b3b3b3 17.36%,#e3e3e3 21.39%,#f4f4f4 23.89%,#fcfcfc 26.81%,#f6f6f6 28.47%,#c4c4c4 34.72%,#cbcbcb 38.47%,#f5f5f5 46.94%,#fdfdfd 51.53%,#fcfcfc 74.58%,#f2f2f2 76.11%,#e0e0e0 77.22%,#a3a3a3 79.86%,#949494 81.11%,#929292 82.22%,#999999 82.92%,#c9c9c9 85.56%,#d4d4d4 86.81%,#d6d6d6 88.06%,#c5c5c5 90.97%,#b8b8b8 93.19%,#bcbcbc 96.81%,#cbcbcb 100%)}
.k80{width:162.0px;height:162.0px;left:-81.0px;top:-81.0px;background:conic-gradient(#d5d5d5 0%,#eaeaea 3.89%,#eaeaea 5.83%,#e0e0e0 7.5%,#c3c3c3 9.86%,#acacac 11.81%,#a4a4a4 13.33%,#a8a8a8 14.86%,#bbbbbb 16.81%,#e4e4e4 20.28%,#f5f5f5 22.78%,#fdfdfd 26.39%,#f9f9f9 28.06%,#cdcdcd 34.17%,#cbcbcb 35.14%,#d9d9d9 39.44%,#f5f5f5 45.69%,#fcfcfc 50.42%,#fafafa 69.58%,#fafafa 74.58%,#efefef 75.97%,#e0e0e0 76.94%,#a7a7a7 79.58%,#9f9f9f 80.69%,#a0a0a0 81.81%,#a9a9a9 82.78%,#cccccc 84.86%,#d7d7d7 86.11%,#d8d8d8 87.64%,#bababa 93.19%,#c5c5c5 96.94%,#d5d5d5 100%)}
.k81{width:164.0px;height:164.0px;left:-82.0px;top:-82.0px;background:conic-gradient(#e0e0e0 0%,#ececec 3.19%,#ebebeb 5.14%,#dddddd 7.08%,#afafaf 10.83%,#a8a8a8 12.36%,#adadad 14.03%,#c0c0c0 15.97%,#e5e5e5 19.17%,#f5f5f5 21.67%,#fdfdfd 25.56%,#fbfbfb 27.64%,#d6d6d6 33.89%,#d4d4d4 35.14%,#f7f7f7 45.14%,#fcfcfc 50.42%,#f5f5f5 66.81%,#f8f8f8 74.44%,#ededed 75.83%,#dcdcdc 76.94%,#b4b4b4 79.03%,#ababab 79.86%,#adadad 81.25%,#bcbcbc 82.78%,#d3d3d3 84.44%,#dcdcdc 85.83%,#d8d8d8 87.78%,#c1c1c1 92.78%,#c8c8c8 95.28%,#e0e0e0 100%)}
.k82{width:166.0px;height:166.0px;left:-83.0px;top:-83.0px;background:conic-gradient(#e8e8e8 0%,#efefef 2.78%,#eaeaea 4.72%,#d8d8d8 6.81%,#b2b2b2 10%,#acacac 11.25%,#b0b0b0 12.92%,#c7c7c7 15.28%,#e6e6e6 18.19%,#f5f5f5 20.83%,#fcfcfc 25.28%,#fbfbfb 27.78%,#dedede 33.75%,#dddddd 35.14%,#f8f8f8 43.89%,#fafafa 49.31%,#eeeeee 65.14%,#f4f4f4 73.19%,#f3f3f3 74.72%,#e3e3e3 76.25%,#bebebe 78.61%,#b6b6b6 79.72%,#bebebe 81.25%,#dddddd 84.31%,#e1e1e1 85.97%,#d6d6d6 88.89%,#cacaca 92.78%,#d5d5d5 95.97%,#e8e8e8 100%)}
.k83{width:168.0px;height:168.0px;left:-84.0px;top:-84.0px;background:conic-gradient(#efefef 0%,#f0f0f0 2.5%,#e6e6e6 4.58%,#c7c7c7 7.5%,#b4b4b4 9.44%,#b0b0b0 10.83%,#bababa 12.64%,#e7e7e7 17.22%,#f4f4f4 19.86%,#fbfbfb 25.69%,#f9f9f9 28.19%,#e6e6e6 33.89%,#e7e7e7 35.56%,#f8f8f8 42.92%,#f9f9f9 48.61%,#e6e6e6 64.03%,#eaeaea 70.97%,#eeeeee 74.44%,#e2e2e2 75.97%,#c5c5c5 78.47%,#c1c1c1 79.72%,#e4e4e4 84.03%,#e5e5e5 85.97%,#d4d4d4 92.08%,#d5d5d5 93.61%,#efefef 100%)}
.k84{width:170.0px;height:170.0px;left:-85.0px;top:-85.0px;background:conic-gradient(#f3f3f3 0%,#efefef 2.36%,#e0e0e0 4.58%,#bbbbbb 8.19%,#b5b5b5 9.86%,#b9b9b9 11.11%,#e8e8e8 16.25%,#f3f3f3 18.89%,#f9f9f9 27.92%,#ececec 34.58%,#f9f9f9 42.22%,#f6f6f6 48.06%,#dddddd 62.92%,#dedede 69.58%,#e6e6e6 74.44%,#d8d8d8 76.53%,#cbcbcb 78.19%,#cccccc 79.58%,#e7e7e7 83.06%,#ebebeb 84.86%,#dddddd 92.22%,#e0e0e0 93.89%,#f3f3f3 99.58%,#f3f3f3 100%)}
.k85{width:172.0px;height:172.0px;left:-86.0px;top:-86.0px;background:conic-gradient(#f5f5f5 0%,#ededed 2.22%,#d6d6d6 4.86%,#bebebe 7.5%,#bbbbbb 9.17%,#c2c2c2 10.83%,#e5e5e5 14.72%,#f0f0f0 17.36%,#f6f6f6 29.03%,#f3f3f3 35.28%,#fafafa 41.81%,#f2f2f2 47.78%,#d4d4d4 61.81%,#d2d2d2 68.47%,#d9d9d9 72.92%,#dcdcdc 74.72%,#cecece 78.06%,#d4d4d4 79.72%,#e9e9e9 82.36%,#efefef 84.58%,#e6e6e6 92.64%,#f5f5f5 99.03%,#f5f5f5 100%)}
.k86{width:174.0px;height:174.0px;left:-87.0px;top:-87.0px;background:conic-gradient(#f5f5f5 0%,#e8e8e8 2.36%,#c5c5c5 6.25%,#c0c0c0 8.06%,#c7c7c7 9.86%,#e5e5e5 13.75%,#eeeeee 16.67%,#efefef 25%,#f5f5f5 32.5%,#fafafa 40.83%,#f1f1f1 46.53%,#cdcdcd 60.14%,#c6c6c6 66.81%,#cacaca 71.67%,#d1d1d1 74.72%,#cdcdcd 77.78%,#d8d8d8 79.72%,#ebebeb 82.22%,#f2f2f2 84.72%,#efefef 93.33%,#f7f7f7 98.19%,#f5f5f5 100%)}
.k87{width:176.0px;height:176.0px;left:-88.0px;top:-88.0px;background:conic-gradient(#f3f3f3 0%,#e0e0e0 2.64%,#c9c9c9 5.42%,#c5c5c5 7.22%,#cecece 9.31%,#e6e6e6 12.78%,#eaeaea 15.28%,#e7e7e7 22.78%,#fbfbfb 36.94%,#f5f5f5 43.06%,#cccccc 56.94%,#c0c0c0 64.03%,#bebebe 70.83%,#c5c5c5 75%,#c9c9c9 77.64%,#dcdcdc 80.28%,#efefef 83.19%,#f6f6f6 86.94%,#f5f5f5 93.89%,#f7f7f7 98.19%,#f3f3f3 100%)}
.k88{width:178.0px;height:178.0px;left:-89.0px;top:-89.0px;background:conic-gradient(#f0f0f0 0%,#cecece 4.58%,#cbcbcb 6.39%,#d5d5d5 8.75%,#e7e7e7 12.08%,#e7e7e7 14.58%,#dfdfdf 20.42%,#e6e6e6 25.83%,#fcfcfc 35.97%,#f6f6f6 41.39%,#e3e3e3 47.5%,#d2d2d2 52.22%,#bdbdbd 61.81%,#b6b6b6 71.11%,#c0c0c0 76.94%,#cecece 79.31%,#ececec 83.33%,#f8f8f8 86.94%,#f8f8f8 97.22%,#f0f0f0 100%)}
.k89{width:180.0px;height:180.0px;left:-90.0px;top:-90.0px;background:conic-gradient(#ededed 0%,#d3d3d3 3.61%,#d0d0d0 5.56%,#e0e0e0 9.17%,#e7e7e7 11.81%,#e0e0e0 14.86%,#d8d8d8 18.89%,#dddddd 23.89%,#fcfcfc 35.97%,#f6f6f6 40.69%,#e2e2e2 46.53%,#d1d1d1 51.11%,#bdbdbd 61.67%,#b3b3b3 71.81%,#b7b7b7 76.39%,#c6c6c6 79.17%,#eeeeee 84.58%,#fafafa 87.36%,#f9f9f9 95.83%,#ededed 100%)}
.k90{width:182.0px;height:182.0px;left:-91.0px;top:-91.0px;background:conic-gradient(#e9e9e9 0%,#d7d7d7 2.92%,#d5d5d5 4.86%,#e5e5e5 9.72%,#e2e2e2 12.22%,#d3d3d3 16.11%,#d2d2d2 19.86%,#e4e4e4 28.06%,#fcfcfc 35.97%,#f6f6f6 39.86%,#e1e1e1 45.97%,#d0d0d0 50.83%,#c0c0c0 62.92%,#b3b3b3 73.33%,#b3b3b3 76.39%,#c0c0c0 79.31%,#d7d7d7 82.5%,#f6f6f6 86.53%,#fdfdfd 89.03%,#f8f8f8 95.42%,#e9e9e9 100%)}
.k91{width:184.0px;height:184.0px;left:-92.0px;top:-92.0px;background:conic-gradient(#e7e7e7 0%,#dadada 2.5%,#dbdbdb 4.72%,#e5e5e5 8.47%,#e1e1e1 10.97%,#cbcbcb 15.69%,#cdcdcd 19.17%,#efefef 32.22%,#fcfcfc 36.11%,#f5f5f5 39.72%,#d1d1d1 50.69%,#c2c2c2 67.5%,#b3b3b3 75.83%,#b9b9b9 79.03%,#c9c9c9 81.94%,#f6f6f6 86.81%,#fdfdfd 89.03%,#f9f9f9 94.31%,#e7e7e7 100%)}
.k92{width:186.0px;height:186.0px;left:-93.0px;top:-93.0px;background:conic-gradient(#e5e5e5 0%,#dddddd 2.36%,#e4e4e4 5.69%,#e5e5e5 8.19%,#d9d9d9 11.11%,#c5c5c5 15.14%,#c8c8c8 18.19%,#e4e4e4 27.92%,#f1f1f1 32.78%,#fcfcfc 36.39%,#f0f0f0 41.25%,#d5d5d5 50.14%,#cecece 65.97%,#bababa 74.72%,#b8b8b8 78.47%,#c0c0c0 81.67%,#e0e0e0 85.14%,#f6f6f6 87.22%,#fdfdfd 89.17%,#f8f8f8 93.61%,#e6e6e6 99.17%,#e5e5e5 100%)}
.k93{width:188.0px;height:188.0px;left:-94.0px;top:-94.0px;background:conic-gradient(#e5e5e5 0%,#e2e2e2 2.36%,#e7e7e7 6.39%,#dddddd 9.17%,#c5c5c5 13.33%,#c0c0c0 15.56%,#e1e1e1 25.28%,#f1f1f1 32.78%,#fbfbfb 36.53%,#dcdcdc 49.44%,#dadada 65%,#d0d0d0 70.83%,#bcbcbc 78.19%,#bdbdbd 81.53%,#d0d0d0 84.31%,#f4f4f4 87.36%,#fdfdfd 89.17%,#f7f7f7 93.06%,#e5e5e5 98.06%,#e5e5e5 100%)}
.k94{width:190.0px;height:190.0px;left:-95.0px;top:-95.0px;background:conic-gradient(#e7e7e7 0%,#e7e7e7 2.92%,#e7e7e7 5.69%,#d8d8d8 8.61%,#c3c3c3 12.22%,#c0c0c0 15.14%,#e0e0e0 22.64%,#ececec 28.75%,#f4f4f4 33.47%,#fbfbfb 36.81%,#e4e4e4 47.92%,#e3e3e3 52.36%,#e5e5e5 64.17%,#dddddd 70.42%,#bebebe 80.97%,#c0c0c0 82.36%,#d0d0d0 84.86%,#f0f0f0 87.36%,#fbfbfb 89.03%,#f7f7f7 91.67%,#e4e4e4 97.22%,#e7e7e7 99.86%,#e7e7e7 100%)}
.k95{width:192.0px;height:192.0px;left:-96.0px;top:-96.0px;background:conic-gradient(#e9e9e9 0%,#e9e9e9 4.44%,#dcdcdc 6.94%,#c3c3c3 10.83%,#bfbfbf 13.19%,#c6c6c6 15.69%,#e0e0e0 20.69%,#ededed 25.83%,#f6f6f6 34.03%,#fbfbfb 37.08%,#eaeaea 46.94%,#ebebeb 52.78%,#ededed 64.72%,#e5e5e5 71.39%,#cfcfcf 78.33%,#c3c3c3 81.94%,#cbcbcb 84.58%,#f2f2f2 87.92%,#f9f9f9 89.31%,#eeeeee 93.19%,#e3e3e3 96.39%,#e6e6e6 99.03%,#e9e9e9 100%)}
.k96{width:194.0px;height:194.0px;left:-97.0px;top:-97.0px;background:conic-gradient(#ececec 0%,#eaeaea 3.47%,#dcdcdc 5.97%,#c5c5c5 9.31%,#bfbfbf 11.67%,#cacaca 15.14%,#e3e3e3 19.58%,#f0f0f0 24.31%,#f9f9f9 34.86%,#fbfbfb 37.5%,#f0f0f0 46.25%,#f3f3f3 55.69%,#f3f3f3 67.36%,#e8e8e8 74.17%,#d4d4d4 79.72%,#cacaca 82.22%,#cccccc 84.72%,#f1f1f1 88.19%,#f6f6f6 89.58%,#e2e2e2 95.56%,#e6e6e6 98.19%,#ececec 100%)}
.k97{width:196.0px;height:196.0px;left:-98.0px;top:-98.0px;background:conic-gradient(#efefef 0%,#ebebeb 2.78%,#d9d9d9 5.42%,#c5c5c5 8.19%,#c0c0c0 10.56%,#c8c8c8 13.06%,#e9e9e9 19.17%,#f4f4f4 23.89%,#f7f7f7 31.39%,#fbfbfb 35.97%,#f9f9f9 39.44%,#f4f4f4 48.19%,#f8f8f8 65.42%,#f1f1f1 73.75%,#e2e2e2 79.03%,#d2d2d2 82.64%,#d0d0d0 84.86%,#f0f0f0 88.61%,#efefef 90%,#e2e2e2 94.03%,#e2e2e2 96.39%,#efefef 100%)}
.k98{width:198.0px;height:198.0px;left:-99.0px;top:-99.0px;background:conic-gradient(#f0f0f0 0%,#e9e9e9 2.36%,#c4c4c4 7.5%,#c2c2c2 9.72%,#cdcdcd 12.5%,#ececec 18.19%,#f7f7f7 22.92%,#f9f9f9 30.42%,#fafafa 35%,#fcfcfc 37.92%,#f8f8f8 47.5%,#fbfbfb 67.22%,#f4f4f4 75.56%,#e6e6e6 80.14%,#d6d6d6 84.58%,#dfdfdf 86.67%,#ebebeb 89.03%,#e1e1e1 92.64%,#e1e1e1 95.42%,#f0f0f0 99.86%,#f0f0f0 100%)}
.k99{width:200.0px;height:200.0px;left:-100.0px;top:-100.0px;background:conic-gradient(#f0f0f0 0%,#e5e5e5 2.22%,#c6c6c6 6.25%,#c2c2c2 8.06%,#cacaca 10.42%,#ececec 16.25%,#f7f7f7 20.42%,#fbfbfb 27.36%,#f8f8f8 34.03%,#fdfdfd 37.64%,#fbfbfb 49.17%,#fcfcfc 70.56%,#f4f4f4 78.06%,#e1e1e1 83.47%,#dcdcdc 85.14%,#e4e4e4 89.31%,#dcdcdc 92.08%,#e3e3e3 95.42%,#f0f0f0 98.89%,#f0f0f0 100%)}
.k100{width:202.0px;height:202.0px;left:-101.0px;top:-101.0px;background:conic-gradient(#eeeeee 0%,#dddddd 2.5%,#c7c7c7 5.28%,#c3c3c3 7.36%,#cfcfcf 9.86%,#eaeaea 14.31%,#f8f8f8 18.47%,#fcfcfc 24.86%,#f6f6f6 33.47%,#fefefe 37.5%,#fefefe 56.39%,#fbfbfb 75.56%,#f3f3f3 80.69%,#dfdfdf 85.69%,#d9d9d9 90.28%,#dadada 92.22%,#f0f0f0 98.06%,#eeeeee 100%)}
.k101{width:204.0px;height:204.0px;left:-102.0px;top:-102.0px;background:conic-gradient(#eaeaea 0%,#c9c9c9 4.31%,#c5c5c5 6.25%,#cdcdcd 8.19%,#ececec 13.06%,#fafafa 17.5%,#fcfcfc 24.03%,#f2f2f2 32.78%,#fbfbfb 35.97%,#fefefe 38.47%,#fdfdfd 76.53%,#f5f5f5 81.39%,#e7e7e7 84.44%,#d5d5d5 88.19%,#d5d5d5 91.25%,#f0f0f0 96.67%,#efefef 98.75%,#eaeaea 100%)}
.k102{width:206.0px;height:206.0px;left:-103.0px;top:-103.0px;background:conic-gradient(#e3e3e3 0%,#cacaca 3.33%,#c7c7c7 5.14%,#d0d0d0 7.5%,#eeeeee 11.81%,#f9f9f9 15.56%,#fdfdfd 21.81%,#f5f5f5 27.64%,#ececec 32.36%,#f6f6f6 35.14%,#fefefe 37.08%,#fdfdfd 78.33%,#f5f5f5 82.22%,#e4e4e4 85%,#cecece 88.19%,#d2d2d2 90.83%,#e9e9e9 94.31%,#f1f1f1 96.67%,#ececec 98.75%,#e3e3e3 100%)}
.k103{width:208.0px;height:208.0px;left:-104.0px;top:-104.0px;background:conic-gradient(#dcdcdc 0%,#cacaca 2.78%,#c9c9c9 4.58%,#d8d8d8 7.22%,#f0f0f0 10.97%,#fbfbfb 14.58%,#fdfdfd 21.11%,#f3f3f3 26.25%,#e6e6e6 31.53%,#eaeaea 33.47%,#fefefe 36.81%,#fdfdfd 79.03%,#f5f5f5 82.36%,#e3e3e3 84.86%,#c9c9c9 87.92%,#cccccc 89.58%,#dddddd 91.94%,#ececec 93.89%,#f1f1f1 96.11%,#ebebeb 98.06%,#dcdcdc 100%)}
.k104{width:210.0px;height:210.0px;left:-105.0px;top:-105.0px;background:conic-gradient(#d6d6d6 0%,#cacaca 2.36%,#cdcdcd 4.17%,#f3f3f3 10.28%,#fcfcfc 14.03%,#fcfcfc 20.69%,#f2f2f2 24.86%,#e0e0e0 29.86%,#dfdfdf 32.22%,#f2f2f2 35%,#fefefe 36.81%,#fdfdfd 78.89%,#f4f4f4 81.94%,#e2e2e2 84.44%,#c6c6c6 87.5%,#c5c5c5 88.47%,#d9d9d9 90.97%,#ededed 93.33%,#f2f2f2 95.42%,#ebebeb 97.36%,#d6d6d6 100%)}
.k105{width:212.0px;height:212.0px;left:-106.0px;top:-106.0px;background:conic-gradient(#d0d0d0 0%,#cccccc 2.08%,#d4d4d4 4.17%,#f2f2f2 8.89%,#fcfcfc 12.36%,#fcfcfc 19.31%,#f1f1f1 23.61%,#d9d9d9 29.03%,#d8d8d8 31.94%,#f0f0f0 34.86%,#fefefe 36.67%,#fdfdfd 78.19%,#f5f5f5 81.11%,#e2e2e2 83.75%,#c7c7c7 86.81%,#c3c3c3 88.06%,#d7d7d7 90.28%,#eeeeee 92.78%,#f2f2f2 94.58%,#ebebeb 96.53%,#d0d0d0 100%)}
.k106{width:214.0px;height:214.0px;left:-107.0px;top:-107.0px;background:conic-gradient(#cdcdcd 0%,#cfcfcf 2.08%,#e7e7e7 5.69%,#f8f8f8 9.17%,#fefefe 13.61%,#f9f9f9 19.86%,#e9e9e9 23.75%,#d0d0d0 28.61%,#d2d2d2 31.39%,#d8d8d8 32.5%,#fcfcfc 36.25%,#ffffff 38.47%,#fdfdfd 77.5%,#f5f5f5 80.42%,#dedede 83.33%,#c7c7c7 86.11%,#c4c4c4 87.78%,#cdcdcd 88.89%,#ebebeb 91.67%,#f3f3f3 93.47%,#ededed 95.42%,#cfcfcf 99.44%,#cdcdcd 100%)}
.k107{width:216.0px;height:216.0px;left:-108.0px;top:-108.0px;background:conic-gradient(#cccccc 0%,#d8d8d8 2.5%,#f3f3f3 6.53%,#fcfcfc 10.14%,#fcfcfc 16.53%,#f4f4f4 20.14%,#dedede 24.03%,#cccccc 27.22%,#c8c8c8 28.75%,#cfcfcf 31.53%,#d8d8d8 32.64%,#f9f9f9 35.83%,#ffffff 37.36%,#fdfdfd 76.67%,#f5f5f5 79.58%,#dcdcdc 82.78%,#c7c7c7 85.42%,#c6c6c6 87.08%,#cdcdcd 88.33%,#eaeaea 90.83%,#f3f3f3 92.5%,#f0f0f0 94.17%,#dcdcdc 96.81%,#cdcdcd 98.89%,#cccccc 100%)}
.k108{width:218.0px;height:218.0px;left:-109.0px;top:-109.0px;background:conic-gradient(#cfcfcf 0%,#f3f3f3 5.56%,#fdfdfd 9.17%,#fbfbfb 15.14%,#f2f2f2 19.58%,#d3d3d3 24.17%,#c7c7c7 26.11%,#c1c1c1 28.47%,#cfcfcf 31.53%,#dbdbdb 32.78%,#f8f8f8 35.56%,#ffffff 37.08%,#fdfdfd 75.69%,#f5f5f5 78.61%,#e0e0e0 81.39%,#cacaca 84.17%,#c6c6c6 85.83%,#cdcdcd 87.5%,#e0e0e0 89.17%,#f0f0f0 90.97%,#f3f3f3 92.64%,#e9e9e9 94.58%,#cfcfcf 97.64%,#cdcdcd 99.31%,#cfcfcf 100%)}
.k109{width:220.0px;height:220.0px;left:-110.0px;top:-110.0px;background:conic-gradient(#d4d4d4 0%,#f1f1f1 4.03%,#fcfcfc 7.22%,#fdfdfd 12.5%,#f1f1f1 18.61%,#e2e2e2 20.97%,#c2c2c2 25.28%,#bdbdbd 28.19%,#cfcfcf 31.11%,#dbdbdb 32.5%,#f6f6f6 35.14%,#ffffff 36.81%,#fdfdfd 74.86%,#f5f5f5 77.92%,#e0e0e0 80.56%,#cacaca 83.19%,#c7c7c7 85%,#d0d0d0 86.81%,#efefef 90.14%,#f3f3f3 91.81%,#ebebeb 93.61%,#cfcfcf 96.94%,#cccccc 98.47%,#d4d4d4 100%)}
.k110{width:223.0px;height:223.0px;left:-111.5px;top:-111.5px;background:conic-gradient(#dcdcdc 0%,#f1f1f1 2.78%,#fcfcfc 5.83%,#fcfcfc 10.97%,#f0f0f0 16.67%,#e5e5e5 19.44%,#c5c5c5 23.33%,#bababa 25.28%,#bdbdbd 27.92%,#cacaca 29.86%,#e5e5e5 32.78%,#f9f9f9 35.14%,#ffffff 37.08%,#fdfdfd 73.75%,#f5f5f5 76.81%,#e2e2e2 79.31%,#cbcbcb 81.94%,#c7c7c7 83.61%,#cfcfcf 85.42%,#f1f1f1 89.44%,#f3f3f3 91.11%,#e9e9e9 92.92%,#cfcfcf 95.97%,#cdcdcd 97.5%,#d6d6d6 99.31%,#dcdcdc 100%)}
.k111{width:226.0px;height:226.0px;left:-113.0px;top:-113.0px;background:conic-gradient(#e8e8e8 0%,#f7f7f7 2.36%,#fdfdfd 5.83%,#f9f9f9 11.11%,#e5e5e5 17.36%,#dbdbdb 19.44%,#c4c4c4 22.08%,#b8b8b8 25%,#c7c7c7 28.33%,#f3f3f3 33.61%,#fefefe 36.25%,#fdfdfd 72.5%,#f4f4f4 75.56%,#dfdfdf 78.33%,#c9c9c9 80.97%,#c8c8c8 82.64%,#d2d2d2 84.44%,#efefef 88.06%,#f4f4f4 89.72%,#ececec 91.53%,#cfcfcf 94.86%,#cdcdcd 96.39%,#d7d7d7 98.19%,#e8e8e8 100%)}
.k112{width:229.0px;height:229.0px;left:-114.5px;top:-114.5px;background:conic-gradient(#f1f1f1 0%,#fbfbfb 2.5%,#fcfcfc 6.94%,#f1f1f1 11.81%,#d4d4d4 19.44%,#c2c2c2 21.81%,#bfbfbf 24.58%,#c8c8c8 26.39%,#f0f0f0 31.94%,#fcfcfc 34.86%,#ffffff 40.42%,#fdfdfd 71.39%,#f4f4f4 74.31%,#dedede 77.22%,#cacaca 79.72%,#c7c7c7 81.25%,#d2d2d2 83.19%,#efefef 86.53%,#f5f5f5 88.47%,#eeeeee 90.14%,#cfcfcf 93.75%,#cdcdcd 95.28%,#d8d8d8 97.08%,#f1f1f1 100%)}
.k113{width:232.0px;height:232.0px;left:-116.0px;top:-116.0px;background:conic-gradient(#f8f8f8 0%,#fdfdfd 3.06%,#f7f7f7 7.78%,#d6d6d6 17.08%,#d2d2d2 19.44%,#c6c6c6 21.81%,#cecece 25%,#f2f2f2 30.69%,#fdfdfd 34.58%,#fdfdfd 69.86%,#f5f5f5 72.92%,#dddddd 76.11%,#cacaca 78.61%,#c9c9c9 80.28%,#d4d4d4 82.08%,#f0f0f0 85.28%,#f6f6f6 87.22%,#efefef 89.03%,#cfcfcf 92.64%,#cccccc 94.03%,#d7d7d7 95.83%,#f3f3f3 99.03%,#f8f8f8 100%)}
.k114{width:235.0px;height:235.0px;left:-117.5px;top:-117.5px;background:conic-gradient(#fbfbfb 0%,#fbfbfb 3.89%,#efefef 8.33%,#d7d7d7 14.44%,#d4d4d4 17.92%,#d5d5d5 19.44%,#d1d1d1 21.81%,#e3e3e3 25.83%,#f7f7f7 30.28%,#ffffff 35.28%,#fdfdfd 68.75%,#f5f5f5 71.67%,#dddddd 74.86%,#cccccc 77.22%,#cacaca 78.89%,#d6d6d6 80.97%,#f1f1f1 84.17%,#f7f7f7 86.11%,#f0f0f0 87.92%,#cfcfcf 91.67%,#cdcdcd 93.06%,#d9d9d9 94.86%,#f3f3f3 97.78%,#fbfbfb 100%)}
.k115{width:238.0px;height:238.0px;left:-119.0px;top:-119.0px;background:conic-gradient(#fdfdfd 0%,#f7f7f7 4.03%,#d6d6d6 12.5%,#d5d5d5 15.83%,#dddddd 19.58%,#e0e0e0 22.08%,#f8f8f8 28.61%,#ffffff 34.17%,#fdfdfd 67.36%,#f5f5f5 70.42%,#dedede 73.47%,#cdcdcd 75.97%,#cccccc 77.78%,#dadada 80%,#f3f3f3 83.19%,#f8f8f8 85.14%,#f1f1f1 86.94%,#d0d0d0 90.56%,#cdcdcd 91.94%,#d7d7d7 93.61%,#f3f3f3 96.67%,#fcfcfc 99.17%,#fdfdfd 100%)}
.k116{width:241.0px;height:241.0px;left:-120.5px;top:-120.5px;background:conic-gradient(#fcfcfc 0%,#f2f2f2 3.89%,#d7d7d7 10%,#d4d4d4 13.19%,#dedede 17.08%,#e7e7e7 19.72%,#fcfcfc 28.47%,#ffffff 40%,#fdfdfd 66.11%,#f4f4f4 69.17%,#dedede 72.22%,#cecece 74.58%,#cccccc 76.25%,#d6d6d6 78.19%,#f3f3f3 81.94%,#f9f9f9 84.03%,#f2f2f2 85.83%,#d0d0d0 89.58%,#cdcdcd 90.97%,#d7d7d7 92.5%,#f3f3f3 95.56%,#fcfcfc 97.92%,#fcfcfc 100%)}
.k117{width:244.0px;height:244.0px;left:-122.0px;top:-122.0px;background:conic-gradient(#f9f9f9 0%,#e7e7e7 4.31%,#d6d6d6 8.33%,#d5d5d5 11.39%,#e2e2e2 15.69%,#f1f1f1 19.86%,#fdfdfd 27.64%,#fdfdfd 64.58%,#f5f5f5 67.78%,#e0e0e0 70.83%,#cecece 73.33%,#cdcdcd 75.14%,#dadada 77.22%,#f3f3f3 80.56%,#f9f9f9 82.78%,#f4f4f4 84.58%,#e0e0e0 86.81%,#cfcfcf 88.75%,#cecece 90.14%,#dcdcdc 91.94%,#f4f4f4 94.58%,#fcfcfc 96.94%,#f9f9f9 100%)}
.k118{width:247.0px;height:247.0px;left:-123.5px;top:-123.5px;background:conic-gradient(#f4f4f4 0%,#d7d7d7 6.25%,#d4d4d4 9.03%,#e0e0e0 13.06%,#f7f7f7 19.31%,#ffffff 27.92%,#fdfdfd 63.47%,#f4f4f4 66.67%,#d8d8d8 70.56%,#cecece 72.5%,#cfcfcf 74.17%,#e0e0e0 76.67%,#f4f4f4 79.44%,#fafafa 81.81%,#f4f4f4 83.75%,#d0d0d0 87.64%,#cfcfcf 89.03%,#dadada 90.69%,#f4f4f4 93.47%,#fcfcfc 95.69%,#f8f8f8 98.75%,#f4f4f4 100%)}
.k119{width:250.0px;height:250.0px;left:-125.0px;top:-125.0px;background:conic-gradient(#ededed 0%,#d6d6d6 4.44%,#d4d4d4 7.22%,#e2e2e2 11.25%,#f7f7f7 17.08%,#fefefe 22.78%,#fdfdfd 62.08%,#f5f5f5 65.28%,#dbdbdb 68.89%,#cfcfcf 71.11%,#d0d0d0 72.92%,#e3e3e3 75.69%,#f7f7f7 78.61%,#fbfbfb 80.97%,#f4f4f4 82.92%,#d1d1d1 86.67%,#cfcfcf 88.06%,#dbdbdb 89.72%,#f4f4f4 92.5%,#fcfcfc 94.72%,#f7f7f7 97.64%,#ededed 100%)}
.k120{width:253.0px;height:253.0px;left:-126.5px;top:-126.5px;background:conic-gradient(#e4e4e4 0%,#d5d5d5 3.19%,#d5d5d5 5.83%,#eaeaea 10.97%,#f9f9f9 15.83%,#fefefe 22.5%,#fdfdfd 60.97%,#f5f5f5 64.03%,#d1d1d1 69.44%,#d0d0d0 71.25%,#dddddd 73.61%,#f6f6f6 77.08%,#fcfcfc 79.58%,#f5f5f5 81.81%,#e1e1e1 84.03%,#d1d1d1 85.83%,#d0d0d0 87.22%,#dddddd 88.89%,#f4f4f4 91.39%,#fbfbfb 93.47%,#f7f7f7 96.25%,#e4e4e4 100%)}
.k121{width:256.0px;height:256.0px;left:-128.0px;top:-128.0px;background:conic-gradient(#dbdbdb 0%,#d4d4d4 2.5%,#d8d8d8 5.14%,#f5f5f5 11.94%,#fefefe 17.64%,#fdfdfd 59.58%,#f5f5f5 62.78%,#d2d2d2 68.06%,#d0d0d0 69.86%,#dcdcdc 72.08%,#f5f5f5 75.69%,#fcfcfc 78.33%,#f8f8f8 80.42%,#e6e6e6 82.64%,#d2d2d2 84.86%,#d1d1d1 86.25%,#dfdfdf 88.06%,#f5f5f5 90.56%,#fbfbfb 92.78%,#f5f5f5 95.56%,#dbdbdb 100%)}
.k122{width:259.0px;height:259.0px;left:-129.5px;top:-129.5px;background:conic-gradient(#d5d5d5 0%,#d5d5d5 2.36%,#f6f6f6 10.28%,#fefefe 15.97%,#fdfdfd 58.33%,#f5f5f5 61.53%,#d2d2d2 66.81%,#d1d1d1 68.61%,#dddddd 70.83%,#f5f5f5 74.31%,#fdfdfd 77.22%,#f9f9f9 79.44%,#e4e4e4 81.94%,#d3d3d3 83.89%,#d1d1d1 85.28%,#dfdfdf 87.08%,#f5f5f5 89.58%,#fbfbfb 91.67%,#f4f4f4 94.31%,#d6d6d6 99.58%,#d5d5d5 100%)}
.k123{width:262.0px;height:262.0px;left:-131.0px;top:-131.0px;background:conic-gradient(#d4d4d4 0%,#dfdfdf 3.06%,#f5f5f5 7.92%,#fdfdfd 12.92%,#fdfdfd 57.08%,#f5f5f5 60.28%,#d3d3d3 65.56%,#d1d1d1 67.36%,#dddddd 69.58%,#f5f5f5 73.06%,#fdfdfd 76.11%,#fafafa 78.61%,#ededed 80.28%,#d4d4d4 82.78%,#d2d2d2 84.17%,#dddddd 85.83%,#f4f4f4 88.47%,#fafafa 90.56%,#f4f4f4 93.06%,#d6d6d6 98.19%,#d4d4d4 100%)}
.k124{width:265.0px;height:265.0px;left:-132.5px;top:-132.5px;background:conic-gradient(#d8d8d8 0%,#f5f5f5 5.97%,#fdfdfd 10.69%,#fefefe 55.69%,#f5f5f5 58.89%,#d3d3d3 64.31%,#d2d2d2 66.25%,#e0e0e0 68.61%,#f5f5f5 71.81%,#fdfdfd 74.86%,#fafafa 77.78%,#efefef 79.44%,#d8d8d8 81.39%,#d2d2d2 82.92%,#d8d8d8 84.31%,#f4f4f4 87.5%,#fafafa 89.44%,#f4f4f4 91.81%,#d7d7d7 96.67%,#d5d5d5 98.89%,#d8d8d8 100%)}
.k125{width:268.0px;height:268.0px;left:-134.0px;top:-134.0px;background:conic-gradient(#e0e0e0 0%,#f5f5f5 4.31%,#fefefe 8.89%,#fdfdfd 54.58%,#f5f5f5 57.78%,#d4d4d4 63.06%,#d3d3d3 65%,#e1e1e1 67.5%,#f6f6f6 70.69%,#fefefe 73.89%,#fbfbfb 76.94%,#f1f1f1 78.61%,#d6d6d6 80.97%,#d3d3d3 82.36%,#dddddd 83.89%,#f4f4f4 86.53%,#fafafa 88.61%,#f2f2f2 90.97%,#d7d7d7 95.42%,#d6d6d6 97.5%,#e0e0e0 100%)}
.k126{width:271.0px;height:271.0px;left:-135.5px;top:-135.5px;background:conic-gradient(#e9e9e9 0%,#f9f9f9 3.61%,#ffffff 9.17%,#fdfdfd 53.33%,#f5f5f5 56.53%,#d5d5d5 61.67%,#d3d3d3 63.61%,#e0e0e0 65.97%,#f6f6f6 69.44%,#fefefe 72.64%,#fbfbfb 75.97%,#f0f0f0 78.06%,#d4d4d4 80.83%,#d8d8d8 82.22%,#f5f5f5 85.69%,#f9f9f9 87.64%,#f1f1f1 90%,#d9d9d9 94.03%,#d6d6d6 95.97%,#e2e2e2 98.75%,#e9e9e9 100%)}
.k127{width:274.0px;height:274.0px;left:-137.0px;top:-137.0px;background:conic-gradient(#f2f2f2 0%,#fcfcfc 3.75%,#ffffff 16.25%,#fdfdfd 52.08%,#f4f4f4 55.42%,#d5d5d5 60.56%,#d4d4d4 62.5%,#e2e2e2 65%,#f7f7f7 68.33%,#fefefe 71.67%,#fbfbfb 75.28%,#ededed 77.78%,#d8d8d8 80.14%,#d7d7d7 81.11%,#f5f5f5 84.72%,#f9f9f9 86.67%,#f1f1f1 89.03%,#d9d9d9 92.78%,#d7d7d7 94.72%,#e5e5e5 97.64%,#f2f2f2 100%)}
.k128{width:277.0px;height:277.0px;left:-138.5px;top:-138.5px;background:conic-gradient(#f8f8f8 0%,#fefefe 4.58%,#fdfdfd 50.69%,#f4f4f4 54.17%,#d5d5d5 59.31%,#d5d5d5 61.25%,#e5e5e5 64.03%,#f8f8f8 67.36%,#fefefe 70.97%,#fbfbfb 74.58%,#ececec 77.36%,#dcdcdc 79.72%,#dddddd 80.97%,#f6f6f6 83.89%,#f9f9f9 85.83%,#efefef 88.19%,#dadada 91.53%,#d8d8d8 93.47%,#e6e6e6 96.39%,#f8f8f8 100%)}
.k129{width:280.0px;height:280.0px;left:-140.0px;top:-140.0px;background:conic-gradient(#fbfbfb 0%,#ffffff 8.33%,#fdfdfd 49.44%,#f4f4f4 52.92%,#d6d6d6 58.06%,#d6d6d6 60%,#e5e5e5 62.78%,#f8f8f8 66.11%,#fefefe 69.86%,#fcfcfc 73.75%,#ededed 76.67%,#e0e0e0 79.31%,#e5e5e5 80.83%,#f7f7f7 83.19%,#f9f9f9 85%,#eeeeee 87.36%,#dadada 90.56%,#dadada 92.5%,#f7f7f7 98.33%,#fbfbfb 100%)}
.k130{width:283.0px;height:283.0px;left:-141.5px;top:-141.5px;background:conic-gradient(#fefefe 0%,#fdfdfd 18.75%,#fefefe 47.36%,#f6f6f6 51.11%,#d7d7d7 56.81%,#d6d6d6 58.75%,#e6e6e6 61.53%,#f8f8f8 64.86%,#ffffff 68.75%,#fcfcfc 73.06%,#e7e7e7 77.78%,#e7e7e7 79.58%,#f9f9f9 82.92%,#f7f7f7 84.86%,#dbdbdb 89.44%,#dadada 91.25%,#f8f8f8 96.94%,#fefefe 100%)}
.k131{width:286.0px;height:286.0px;left:-143.0px;top:-143.0px;background:conic-gradient(#fefefe 0%,#fcfcfc 16.53%,#fdfdfd 23.75%,#ffffff 40.97%,#fbfbfb 48.06%,#efefef 51.25%,#d7d7d7 55.56%,#d7d7d7 57.5%,#e7e7e7 60.42%,#f8f8f8 63.61%,#ffffff 67.78%,#fcfcfc 72.36%,#e9e9e9 76.94%,#eeeeee 79.44%,#f9f9f9 82.36%,#f5f5f5 84.31%,#dcdcdc 88.33%,#dbdbdb 90.14%,#f8f8f8 95.56%,#fefefe 99.72%,#fefefe 100%)}
.k132{width:289.0px;height:289.0px;left:-144.5px;top:-144.5px;background:conic-gradient(#ffffff 0%,#fcfcfc 14.31%,#f9f9f9 21.25%,#ffffff 27.36%,#fdfdfd 45.83%,#f3f3f3 49.31%,#d8d8d8 54.31%,#d8d8d8 56.25%,#e9e9e9 59.31%,#f9f9f9 62.5%,#ffffff 66.81%,#fcfcfc 71.67%,#ececec 76.25%,#f3f3f3 79.31%,#fafafa 81.94%,#f2f2f2 84.03%,#dddddd 87.22%,#dcdcdc 89.03%,#ececec 91.94%,#fafafa 94.86%,#ffffff 100%)}
.k133{width:292.0px;height:292.0px;left:-146.0px;top:-146.0px;background:conic-gradient(#ffffff 0%,#fcfcfc 12.22%,#f5f5f5 19.03%,#fdfdfd 24.58%,#fdfdfd 44.03%,#f5f5f5 47.64%,#d9d9d9 52.92%,#d9d9d9 55%,#eaeaea 58.19%,#fafafa 61.39%,#ffffff 65.97%,#fcfcfc 71.11%,#eeeeee 75.56%,#fafafa 80.83%,#f3f3f3 82.92%,#dedede 86.25%,#dddddd 87.92%,#ededed 90.83%,#fafafa 93.75%,#ffffff 99.03%,#ffffff 100%)}
.k134{width:295.0px;height:295.0px;left:-147.5px;top:-147.5px;background:conic-gradient(#ffffff 0%,#fcfcfc 10.42%,#f1f1f1 17.78%,#f9f9f9 22.78%,#ffffff 26.25%,#fdfdfd 43.19%,#f3f3f3 46.81%,#dadada 51.67%,#dadada 53.75%,#eaeaea 56.81%,#fafafa 60.14%,#ffffff 64.86%,#fdfdfd 70.56%,#f1f1f1 74.86%,#fbfbfb 79.86%,#f4f4f4 81.94%,#dedede 85.42%,#dfdfdf 87.22%,#f9f9f9 92.08%,#ffffff 96.11%,#ffffff 100%)}
.k135{width:298.0px;height:298.0px;left:-149.0px;top:-149.0px;background:conic-gradient(#ffffff 0%,#fcfcfc 8.89%,#ededed 17.08%,#f6f6f6 22.08%,#ffffff 25.97%,#fdfdfd 41.94%,#f3f3f3 45.56%,#dbdbdb 50.42%,#dbdbdb 52.5%,#ebebeb 55.69%,#fafafa 59.03%,#ffffff 64.17%,#fdfdfd 70.28%,#f3f3f3 74.17%,#fbfbfb 79.03%,#f4f4f4 81.25%,#dfdfdf 84.44%,#e0e0e0 86.25%,#f9f9f9 90.97%,#ffffff 95%,#ffffff 100%)}
.k136{width:301.0px;height:301.0px;left:-150.5px;top:-150.5px;background:conic-gradient(#ffffff 0%,#fcfcfc 7.78%,#e8e8e8 16.67%,#ffffff 25.69%,#fdfdfd 40.56%,#f3f3f3 44.31%,#dcdcdc 49.03%,#dcdcdc 51.25%,#eeeeee 54.86%,#fbfbfb 58.06%,#ffffff 64.31%,#fdfdfd 70.14%,#f5f5f5 73.61%,#fcfcfc 78.33%,#f3f3f3 80.56%,#e0e0e0 83.47%,#e0e0e0 85.14%,#fafafa 90%,#ffffff 94.31%,#ffffff 100%)}
.k137{width:304.0px;height:304.0px;left:-152.0px;top:-152.0px;background:conic-gradient(#ffffff 0%,#fbfbfb 6.81%,#e7e7e7 14.58%,#e7e7e7 16.94%,#fefefe 24.72%,#fdfdfd 38.89%,#f4f4f4 42.78%,#dddddd 47.78%,#dddddd 50%,#f0f0f0 53.89%,#fcfcfc 57.08%,#ffffff 65%,#fdfdfd 70%,#f7f7f7 73.19%,#fcfcfc 77.78%,#f3f3f3 79.86%,#e1e1e1 82.64%,#e1e1e1 84.31%,#fafafa 88.89%,#ffffff 92.92%,#ffffff 100%)}
.k138{width:307.0px;height:307.0px;left:-153.5px;top:-153.5px;background:conic-gradient(#ffffff 0%,#fbfbfb 5.97%,#e8e8e8 12.22%,#e6e6e6 16.39%,#fbfbfb 22.92%,#ffffff 27.5%,#fcfcfc 38.19%,#f1f1f1 42.08%,#dddddd 46.53%,#dedede 48.89%,#fafafa 55%,#ffffff 60%,#fdfdfd 69.86%,#f9f9f9 73.06%,#fcfcfc 77.08%,#f2f2f2 79.31%,#e2e2e2 81.81%,#e2e2e2 83.47%,#fafafa 87.78%,#ffffff 91.67%,#ffffff 100%)}
.k139{width:310.0px;height:310.0px;left:-155.0px;top:-155.0px;background:conic-gradient(#ffffff 0%,#fbfbfb 5.14%,#e8e8e8 10.56%,#e7e7e7 14.58%,#ededed 17.22%,#fcfcfc 22.36%,#ffffff 28.33%,#fcfcfc 37.08%,#efefef 41.11%,#dedede 45.28%,#dfdfdf 47.64%,#fafafa 53.89%,#ffffff 59.03%,#fdfdfd 70%,#fcfcfc 73.33%,#fcfcfc 76.67%,#f0f0f0 78.89%,#e3e3e3 81.11%,#e4e4e4 82.78%,#fafafa 86.81%,#ffffff 90.97%,#ffffff 100%)}
.k140{width:313.0px;height:313.0px;left:-156.5px;top:-156.5px;background:conic-gradient(#ffffff 0%,#fafafa 4.58%,#e6e6e6 10%,#e9e9e9 14.17%,#fcfcfc 21.67%,#ffffff 30%,#fafafa 36.53%,#e9e9e9 41.25%,#dedede 44.44%,#e2e2e2 46.94%,#fafafa 52.36%,#ffffff 57.08%,#fdfdfd 70.14%,#fcfcfc 75.97%,#efefef 78.33%,#e3e3e3 80.42%,#e6e6e6 82.08%,#fafafa 85.83%,#ffffff 90.14%,#ffffff 100%)}
.k141{width:316.0px;height:316.0px;left:-158.0px;top:-158.0px;background:conic-gradient(#ffffff 0%,#f9f9f9 4.17%,#e6e6e6 9.58%,#f1f1f1 15.28%,#fdfdfd 20.97%,#fefefe 31.11%,#f7f7f7 36.25%,#e0e0e0 42.78%,#e2e2e2 45.28%,#fafafa 51.25%,#ffffff 56.53%,#fdfdfd 75.14%,#f2f2f2 77.36%,#e5e5e5 79.58%,#e7e7e7 81.25%,#fbfbfb 85.14%,#ffffff 90%,#ffffff 100%)}
.k142{width:319.0px;height:319.0px;left:-159.5px;top:-159.5px;background:conic-gradient(#ffffff 0%,#f8f8f8 3.89%,#e8e8e8 8.75%,#eaeaea 10.83%,#fcfcfc 19.17%,#fefefe 30%,#f6f6f6 35.28%,#e1e1e1 41.11%,#e3e3e3 43.89%,#fbfbfb 50%,#ffffff 55.69%,#fdfdfd 74.44%,#f0f0f0 76.94%,#e5e5e5 78.89%,#e8e8e8 80.56%,#fbfbfb 84.31%,#ffffff 89.44%,#ffffff 100%)}
.k143{width:322.0px;height:322.0px;left:-161.0px;top:-161.0px;background:conic-gradient(#ffffff 0%,#f6f6f6 3.89%,#ebebeb 7.92%,#ededed 10.28%,#fcfcfc 16.81%,#ffffff 27.36%,#fdfdfd 30.28%,#f1f1f1 35.14%,#e1e1e1 39.86%,#e4e4e4 42.64%,#fbfbfb 48.75%,#ffffff 54.86%,#fdfdfd 74.31%,#e7e7e7 78.06%,#e9e9e9 79.72%,#fbfbfb 83.47%,#ffffff 88.61%,#ffffff 100%)}
.k144{width:325.0px;height:325.0px;left:-162.5px;top:-162.5px;background:conic-gradient(#ffffff 0%,#efefef 6.81%,#f2f2f2 10.14%,#fdfdfd 16.11%,#fefefe 29.72%,#f7f7f7 31.67%,#e2e2e2 38.47%,#e5e5e5 41.25%,#fbfbfb 47.5%,#ffffff 54.03%,#fdfdfd 74.17%,#efefef 75.83%,#e7e7e7 77.64%,#ebebeb 79.31%,#fbfbfb 82.5%,#ffffff 87.08%,#ffffff 100%)}
.k145{width:328.0px;height:328.0px;left:-164.0px;top:-164.0px;background:conic-gradient(#ffffff 0%,#f2f2f2 5.83%,#f7f7f7 10.28%,#fefefe 16.67%,#fdfdfd 29.72%,#f6f6f6 30.69%,#e3e3e3 37.08%,#e6e6e6 40%,#fbfbfb 46.11%,#ffffff 52.64%,#fefefe 74.03%,#f0f0f0 75.14%,#e8e8e8 76.94%,#ededed 78.75%,#fcfcfc 81.81%,#ffffff 87.36%,#ffffff 100%)}
.k146{width:331.0px;height:331.0px;left:-165.5px;top:-165.5px;background:conic-gradient(#fefefe 0%,#f4f4f4 5%,#ffffff 15.69%,#fefefe 29.58%,#f2f2f2 30.56%,#e3e3e3 35.56%,#e6e6e6 38.61%,#fbfbfb 44.86%,#ffffff 51.94%,#fefefe 74.03%,#f4f4f4 74.58%,#eeeeee 75%,#e9e9e9 76.67%,#fdfdfd 81.25%,#ffffff 90%,#fefefe 100%)}
.k147{width:334.0px;height:334.0px;left:-167.0px;top:-167.0px;background:conic-gradient(#fefefe 0%,#f7f7f7 4.44%,#ffffff 15.14%,#fefefe 29.44%,#f7f7f7 30%,#eeeeee 30.42%,#e4e4e4 34.44%,#e8e8e8 37.5%,#fbfbfb 43.47%,#ffffff 50.69%,#fdfdfd 74.03%,#f3f3f3 74.58%,#ebebeb 75%,#ebebeb 76.53%,#fcfcfc 80.28%,#ffffff 87.5%,#fefefe 100%)}
.k148{width:337.0px;height:337.0px;left:-168.5px;top:-168.5px;background:conic-gradient(#fefefe 0%,#f9f9f9 4.17%,#ffffff 15.28%,#fefefe 29.44%,#f8f8f8 29.86%,#eaeaea 30.42%,#e4e4e4 33.47%,#ebebeb 36.94%,#fcfcfc 42.22%,#ffffff 50.28%,#fdfdfd 74.03%,#f6f6f6 74.44%,#ececec 74.86%,#eeeeee 76.25%,#fcfcfc 79.44%,#ffffff 86.67%,#fefefe 100%)}
.k149{width:340.0px;height:340.0px;left:-170.0px;top:-170.0px;background:conic-gradient(#fefefe 0%,#fbfbfb 4.17%,#ffffff 17.36%,#fefefe 29.44%,#f8f8f8 29.86%,#e7e7e7 30.42%,#e6e6e6 33.06%,#f5f5f5 38.19%,#fefefe 42.78%,#fefefe 74.03%,#f3f3f3 74.58%,#ececec 75%,#fdfdfd 78.89%,#ffffff 91.25%,#fefefe 100%)}
.k150{width:343.0px;height:343.0px;left:-171.5px;top:-171.5px;background:conic-gradient(#fefefe 0%,#fdfdfd 5%,#fefefe 29.44%,#f8f8f8 29.86%,#e7e7e7 30.42%,#e9e9e9 33.06%,#fcfcfc 39.72%,#ffffff 49.58%,#fefefe 74.03%,#f0f0f0 75%,#fdfdfd 78.19%,#ffffff 95%,#fefefe 100%)}
.k151{width:346.0px;height:346.0px;left:-173.0px;top:-173.0px;background:conic-gradient(#ffffff 0%,#fefefe 29.44%,#f8f8f8 29.86%,#e9e9e9 30.42%,#efefef 33.47%,#fdfdfd 38.75%,#ffffff 53.89%,#fdfdfd 74.17%,#f4f4f4 75%,#fefefe 77.78%,#ffffff 100%)}
.k152{width:349.0px;height:349.0px;left:-174.5px;top:-174.5px;background:conic-gradient(#ffffff 0%,#fdfdfd 29.58%,#f3f3f3 30.14%,#ececec 30.56%,#fcfcfc 37.08%,#ffffff 49.03%,#fefefe 74.17%,#f8f8f8 75%,#fefefe 77.92%,#ffffff 100%)}
.k153{width:352.0px;height:352.0px;left:-176.0px;top:-176.0px;background:conic-gradient(#ffffff 0%,#fefefe 29.58%,#f1f1f1 30.56%,#fdfdfd 36.25%,#ffffff 67.08%,#fefefe 74.31%,#fbfbfb 75.28%,#ffffff 79.44%,#ffffff 100%)}
.k154{width:355.0px;height:355.0px;left:-177.5px;top:-177.5px;background:conic-gradient(#ffffff 0%,#fdfdfd 29.72%,#f5f5f5 30.56%,#fefefe 36.11%,#fefefe 74.58%,#ffffff 100%)}
.k155{width:358.0px;height:358.0px;left:-179.0px;top:-179.0px;background:conic-gradient(#ffffff 0%,#fdfdfd 29.86%,#f9f9f9 30.69%,#ffffff 37.22%,#ffffff 100%)}
.k156{width:361.0px;height:361.0px;left:-180.5px;top:-180.5px;background:conic-gradient(#ffffff 0%,#fefefe 30%,#fdfdfd 31.53%,#ffffff 53.19%,#ffffff 100%)}
svg{position:absolute;left:0;top:0}
.oc{fill:none;stroke:#ff8400;stroke-width:1.55}
.orbC{fill:none;stroke:#1a1a1a;stroke-width:0.75}
.orbB{fill:none;stroke:#222;stroke-width:0.7}
.orbD{fill:none;stroke:#333;stroke-width:0.75}
.cr{stroke:#222;stroke-width:1;fill:none}
.sun{fill:none;stroke:#222;stroke-width:1}
.fr{fill:none;stroke:#2a2a2a;stroke-width:1.65}
.tk{fill:none;stroke:#1a1a1a;stroke-width:1.4}
text{font-family:"Liberation Sans",Arial,Helvetica,sans-serif;fill:#000}
.tl{font-size:13.6px;stroke:#000;stroke-width:0.35px}
.kpc{font-size:17.4px;font-weight:bold}
.pl{font-size:16.4px}
.lg{font-size:10px;letter-spacing:0.25px;stroke:#000;stroke-width:0.2px}
</style></head><body><div id="fig">
<div class="pn" style="left:41.1px;top:0.95px;width:293.95px;height:294.4px"><div class="ctr" style="left:147.2px;top:147.75px"><i class="w" style="width:421px;height:421px;left:-210.5px;top:-210.5px"></i><i class="w" style="width:418px;height:418px;left:-209px;top:-209px"></i><i class="w" style="width:415px;height:415px;left:-207.5px;top:-207.5px"></i><i class="w" style="width:412px;height:412px;left:-206px;top:-206px"></i><i class="w" style="width:409px;height:409px;left:-204.5px;top:-204.5px"></i><i class="w" style="width:406px;height:406px;left:-203px;top:-203px"></i><i class="w" style="width:403px;height:403px;left:-201.5px;top:-201.5px"></i><i class="w" style="width:400px;height:400px;left:-200px;top:-200px"></i><i class="w" style="width:397px;height:397px;left:-198.5px;top:-198.5px"></i><i class="w" style="width:394px;height:394px;left:-197px;top:-197px"></i><i class="w" style="width:391px;height:391px;left:-195.5px;top:-195.5px"></i><i class="w" style="width:388px;height:388px;left:-194px;top:-194px"></i><i class="w" style="width:385px;height:385px;left:-192.5px;top:-192.5px"></i><i class="w" style="width:382px;height:382px;left:-191px;top:-191px"></i><i class="w" style="width:379px;height:379px;left:-189.5px;top:-189.5px"></i><i class="w" style="width:376px;height:376px;left:-188px;top:-188px"></i><i class="w" style="width:373px;height:373px;left:-186.5px;top:-186.5px"></i><i class="w" style="width:370px;height:370px;left:-185px;top:-185px"></i><i class="w" style="width:367px;height:367px;left:-183.5px;top:-183.5px"></i><i class="w" style="width:364px;height:364px;left:-182px;top:-182px"></i><i class="k156"></i><i class="k155"></i><i class="k154"></i><i class="k153"></i><i class="k152"></i><i class="k151"></i><i class="k150"></i><i class="k149"></i><i class="k148"></i><i class="k147"></i><i class="k146"></i><i class="k145"></i><i class="k144"></i><i class="k143"></i><i class="k142"></i><i class="k141"></i><i class="k140"></i><i class="k139"></i><i class="k138"></i><i class="k137"></i><i class="k136"></i><i class="k135"></i><i class="k134"></i><i class="k133"></i><i class="k132"></i><i class="k131"></i><i class="k130"></i><i class="k129"></i><i class="k128"></i><i class="k127"></i><i class="k126"></i><i class="k125"></i><i class="k124"></i><i class="k123"></i><i class="k122"></i><i class="k121"></i><i class="k120"></i><i class="k119"></i><i class="k118"></i><i class="k117"></i><i class="k116"></i><i class="k115"></i><i class="k114"></i><i class="k113"></i><i class="k112"></i><i class="k111"></i><i class="k110"></i><i class="k109"></i><i class="k108"></i><i class="k107"></i><i class="k106"></i><i class="k105"></i><i class="k104"></i><i class="k103"></i><i class="k102"></i><i class="k101"></i><i class="k100"></i><i class="k99"></i><i class="k98"></i><i class="k97"></i><i class="k96"></i><i class="k95"></i><i class="k94"></i><i class="k93"></i><i class="k92"></i><i class="k91"></i><i class="k90"></i><i class="k89"></i><i class="k88"></i><i class="k87"></i><i class="k86"></i><i class="k85"></i><i class="k84"></i><i class="k83"></i><i class="k82"></i><i class="k81"></i><i class="k80"></i><i class="k79"></i><i class="k78"></i><i class="k77"></i><i class="k76"></i><i class="k75"></i><i class="k74"></i><i class="k73"></i><i class="k72"></i><i class="k71"></i><i class="k70"></i><i class="k69"></i><i class="k68"></i><i class="k67"></i><i class="k66"></i><i class="k65"></i><i class="k64"></i><i class="k63"></i><i class="k62"></i><i class="k61"></i><i class="k60"></i><i class="k59"></i><i class="k58"></i><i class="k57"></i><i class="k56"></i><i class="k55"></i><i class="k54"></i><i class="k53"></i><i class="k52"></i><i class="k51"></i><i class="k50"></i><i class="k49"></i><i class="k48"></i><i class="k47"></i><i class="k46"></i><i class="k45"></i><i class="k44"></i><i class="k43"></i><i class="k42"></i><i class="k41"></i><i class="k40"></i><i class="k39"></i><i class="k38"></i><i class="k37"></i><i class="k36"></i><i class="k35"></i><i class="k34"></i><i class="k33"></i><i class="k32"></i><i class="k31"></i><i class="k30"></i><i class="k29"></i><i class="k28"></i><i class="k27"></i><i class="k26"></i><i class="k25"></i><i class="k24"></i><i class="k23"></i><i class="k22"></i><i class="k21"></i><i class="k20"></i><i class="k19"></i><i class="k18"></i><i class="k17"></i><i class="k16"></i><i class="k15"></i><i class="k14"></i><i class="k13"></i><i class="k12"></i><i class="k11"></i><i class="k10"></i><i class="k9"></i><i class="k8"></i><i class="k7"></i><i class="k6"></i><i class="k5"></i><i class="k4"></i><i class="k3"></i><i class="k2"></i><i class="k1"></i><i class="k0"></i></div></div>
<div class="pn" style="left:335.05px;top:0.95px;width:294.8px;height:294.4px"><div class="ctr" style="left:147.55px;top:147.75px"><i class="w" style="width:421px;height:421px;left:-210.5px;top:-210.5px"></i><i class="w" style="width:418px;height:418px;left:-209px;top:-209px"></i><i class="w" style="width:415px;height:415px;left:-207.5px;top:-207.5px"></i><i class="w" style="width:412px;height:412px;left:-206px;top:-206px"></i><i class="w" style="width:409px;height:409px;left:-204.5px;top:-204.5px"></i><i class="w" style="width:406px;height:406px;left:-203px;top:-203px"></i><i class="w" style="width:403px;height:403px;left:-201.5px;top:-201.5px"></i><i class="w" style="width:400px;height:400px;left:-200px;top:-200px"></i><i class="w" style="width:397px;height:397px;left:-198.5px;top:-198.5px"></i><i class="w" style="width:394px;height:394px;left:-197px;top:-197px"></i><i class="w" style="width:391px;height:391px;left:-195.5px;top:-195.5px"></i><i class="w" style="width:388px;height:388px;left:-194px;top:-194px"></i><i class="w" style="width:385px;height:385px;left:-192.5px;top:-192.5px"></i><i class="w" style="width:382px;height:382px;left:-191px;top:-191px"></i><i class="w" style="width:379px;height:379px;left:-189.5px;top:-189.5px"></i><i class="w" style="width:376px;height:376px;left:-188px;top:-188px"></i><i class="w" style="width:373px;height:373px;left:-186.5px;top:-186.5px"></i><i class="w" style="width:370px;height:370px;left:-185px;top:-185px"></i><i class="w" style="width:367px;height:367px;left:-183.5px;top:-183.5px"></i><i class="w" style="width:364px;height:364px;left:-182px;top:-182px"></i><i class="k156"></i><i class="k155"></i><i class="k154"></i><i class="k153"></i><i class="k152"></i><i class="k151"></i><i class="k150"></i><i class="k149"></i><i class="k148"></i><i class="k147"></i><i class="k146"></i><i class="k145"></i><i class="k144"></i><i class="k143"></i><i class="k142"></i><i class="k141"></i><i class="k140"></i><i class="k139"></i><i class="k138"></i><i class="k137"></i><i class="k136"></i><i class="k135"></i><i class="k134"></i><i class="k133"></i><i class="k132"></i><i class="k131"></i><i class="k130"></i><i class="k129"></i><i class="k128"></i><i class="k127"></i><i class="k126"></i><i class="k125"></i><i class="k124"></i><i class="k123"></i><i class="k122"></i><i class="k121"></i><i class="k120"></i><i class="k119"></i><i class="k118"></i><i class="k117"></i><i class="k116"></i><i class="k115"></i><i class="k114"></i><i class="k113"></i><i class="k112"></i><i class="k111"></i><i class="k110"></i><i class="k109"></i><i class="k108"></i><i class="k107"></i><i class="k106"></i><i class="k105"></i><i class="k104"></i><i class="k103"></i><i class="k102"></i><i class="k101"></i><i class="k100"></i><i class="k99"></i><i class="k98"></i><i class="k97"></i><i class="k96"></i><i class="k95"></i><i class="k94"></i><i class="k93"></i><i class="k92"></i><i class="k91"></i><i class="k90"></i><i class="k89"></i><i class="k88"></i><i class="k87"></i><i class="k86"></i><i class="k85"></i><i class="k84"></i><i class="k83"></i><i class="k82"></i><i class="k81"></i><i class="k80"></i><i class="k79"></i><i class="k78"></i><i class="k77"></i><i class="k76"></i><i class="k75"></i><i class="k74"></i><i class="k73"></i><i class="k72"></i><i class="k71"></i><i class="k70"></i><i class="k69"></i><i class="k68"></i><i class="k67"></i><i class="k66"></i><i class="k65"></i><i class="k64"></i><i class="k63"></i><i class="k62"></i><i class="k61"></i><i class="k60"></i><i class="k59"></i><i class="k58"></i><i class="k57"></i><i class="k56"></i><i class="k55"></i><i class="k54"></i><i class="k53"></i><i class="k52"></i><i class="k51"></i><i class="k50"></i><i class="k49"></i><i class="k48"></i><i class="k47"></i><i class="k46"></i><i class="k45"></i><i class="k44"></i><i class="k43"></i><i class="k42"></i><i class="k41"></i><i class="k40"></i><i class="k39"></i><i class="k38"></i><i class="k37"></i><i class="k36"></i><i class="k35"></i><i class="k34"></i><i class="k33"></i><i class="k32"></i><i class="k31"></i><i class="k30"></i><i class="k29"></i><i class="k28"></i><i class="k27"></i><i class="k26"></i><i class="k25"></i><i class="k24"></i><i class="k23"></i><i class="k22"></i><i class="k21"></i><i class="k20"></i><i class="k19"></i><i class="k18"></i><i class="k17"></i><i class="k16"></i><i class="k15"></i><i class="k14"></i><i class="k13"></i><i class="k12"></i><i class="k11"></i><i class="k10"></i><i class="k9"></i><i class="k8"></i><i class="k7"></i><i class="k6"></i><i class="k5"></i><i class="k4"></i><i class="k3"></i><i class="k2"></i><i class="k1"></i><i class="k0"></i></div></div>
<div class="pn" style="left:41.1px;top:295.35px;width:293.95px;height:294.85px"><div class="ctr" style="left:147.2px;top:147.15px"><i class="w" style="width:421px;height:421px;left:-210.5px;top:-210.5px"></i><i class="w" style="width:418px;height:418px;left:-209px;top:-209px"></i><i class="w" style="width:415px;height:415px;left:-207.5px;top:-207.5px"></i><i class="w" style="width:412px;height:412px;left:-206px;top:-206px"></i><i class="w" style="width:409px;height:409px;left:-204.5px;top:-204.5px"></i><i class="w" style="width:406px;height:406px;left:-203px;top:-203px"></i><i class="w" style="width:403px;height:403px;left:-201.5px;top:-201.5px"></i><i class="w" style="width:400px;height:400px;left:-200px;top:-200px"></i><i class="w" style="width:397px;height:397px;left:-198.5px;top:-198.5px"></i><i class="w" style="width:394px;height:394px;left:-197px;top:-197px"></i><i class="w" style="width:391px;height:391px;left:-195.5px;top:-195.5px"></i><i class="w" style="width:388px;height:388px;left:-194px;top:-194px"></i><i class="w" style="width:385px;height:385px;left:-192.5px;top:-192.5px"></i><i class="w" style="width:382px;height:382px;left:-191px;top:-191px"></i><i class="w" style="width:379px;height:379px;left:-189.5px;top:-189.5px"></i><i class="w" style="width:376px;height:376px;left:-188px;top:-188px"></i><i class="w" style="width:373px;height:373px;left:-186.5px;top:-186.5px"></i><i class="w" style="width:370px;height:370px;left:-185px;top:-185px"></i><i class="w" style="width:367px;height:367px;left:-183.5px;top:-183.5px"></i><i class="w" style="width:364px;height:364px;left:-182px;top:-182px"></i><i class="k156"></i><i class="k155"></i><i class="k154"></i><i class="k153"></i><i class="k152"></i><i class="k151"></i><i class="k150"></i><i class="k149"></i><i class="k148"></i><i class="k147"></i><i class="k146"></i><i class="k145"></i><i class="k144"></i><i class="k143"></i><i class="k142"></i><i class="k141"></i><i class="k140"></i><i class="k139"></i><i class="k138"></i><i class="k137"></i><i class="k136"></i><i class="k135"></i><i class="k134"></i><i class="k133"></i><i class="k132"></i><i class="k131"></i><i class="k130"></i><i class="k129"></i><i class="k128"></i><i class="k127"></i><i class="k126"></i><i class="k125"></i><i class="k124"></i><i class="k123"></i><i class="k122"></i><i class="k121"></i><i class="k120"></i><i class="k119"></i><i class="k118"></i><i class="k117"></i><i class="k116"></i><i class="k115"></i><i class="k114"></i><i class="k113"></i><i class="k112"></i><i class="k111"></i><i class="k110"></i><i class="k109"></i><i class="k108"></i><i class="k107"></i><i class="k106"></i><i class="k105"></i><i class="k104"></i><i class="k103"></i><i class="k102"></i><i class="k101"></i><i class="k100"></i><i class="k99"></i><i class="k98"></i><i class="k97"></i><i class="k96"></i><i class="k95"></i><i class="k94"></i><i class="k93"></i><i class="k92"></i><i class="k91"></i><i class="k90"></i><i class="k89"></i><i class="k88"></i><i class="k87"></i><i class="k86"></i><i class="k85"></i><i class="k84"></i><i class="k83"></i><i class="k82"></i><i class="k81"></i><i class="k80"></i><i class="k79"></i><i class="k78"></i><i class="k77"></i><i class="k76"></i><i class="k75"></i><i class="k74"></i><i class="k73"></i><i class="k72"></i><i class="k71"></i><i class="k70"></i><i class="k69"></i><i class="k68"></i><i class="k67"></i><i class="k66"></i><i class="k65"></i><i class="k64"></i><i class="k63"></i><i class="k62"></i><i class="k61"></i><i class="k60"></i><i class="k59"></i><i class="k58"></i><i class="k57"></i><i class="k56"></i><i class="k55"></i><i class="k54"></i><i class="k53"></i><i class="k52"></i><i class="k51"></i><i class="k50"></i><i class="k49"></i><i class="k48"></i><i class="k47"></i><i class="k46"></i><i class="k45"></i><i class="k44"></i><i class="k43"></i><i class="k42"></i><i class="k41"></i><i class="k40"></i><i class="k39"></i><i class="k38"></i><i class="k37"></i><i class="k36"></i><i class="k35"></i><i class="k34"></i><i class="k33"></i><i class="k32"></i><i class="k31"></i><i class="k30"></i><i class="k29"></i><i class="k28"></i><i class="k27"></i><i class="k26"></i><i class="k25"></i><i class="k24"></i><i class="k23"></i><i class="k22"></i><i class="k21"></i><i class="k20"></i><i class="k19"></i><i class="k18"></i><i class="k17"></i><i class="k16"></i><i class="k15"></i><i class="k14"></i><i class="k13"></i><i class="k12"></i><i class="k11"></i><i class="k10"></i><i class="k9"></i><i class="k8"></i><i class="k7"></i><i class="k6"></i><i class="k5"></i><i class="k4"></i><i class="k3"></i><i class="k2"></i><i class="k1"></i><i class="k0"></i></div></div>
<div class="pn" style="left:335.05px;top:295.35px;width:294.8px;height:294.85px"><div class="ctr" style="left:147.55px;top:147.15px"><i class="w" style="width:421px;height:421px;left:-210.5px;top:-210.5px"></i><i class="w" style="width:418px;height:418px;left:-209px;top:-209px"></i><i class="w" style="width:415px;height:415px;left:-207.5px;top:-207.5px"></i><i class="w" style="width:412px;height:412px;left:-206px;top:-206px"></i><i class="w" style="width:409px;height:409px;left:-204.5px;top:-204.5px"></i><i class="w" style="width:406px;height:406px;left:-203px;top:-203px"></i><i class="w" style="width:403px;height:403px;left:-201.5px;top:-201.5px"></i><i class="w" style="width:400px;height:400px;left:-200px;top:-200px"></i><i class="w" style="width:397px;height:397px;left:-198.5px;top:-198.5px"></i><i class="w" style="width:394px;height:394px;left:-197px;top:-197px"></i><i class="w" style="width:391px;height:391px;left:-195.5px;top:-195.5px"></i><i class="w" style="width:388px;height:388px;left:-194px;top:-194px"></i><i class="w" style="width:385px;height:385px;left:-192.5px;top:-192.5px"></i><i class="w" style="width:382px;height:382px;left:-191px;top:-191px"></i><i class="w" style="width:379px;height:379px;left:-189.5px;top:-189.5px"></i><i class="w" style="width:376px;height:376px;left:-188px;top:-188px"></i><i class="w" style="width:373px;height:373px;left:-186.5px;top:-186.5px"></i><i class="w" style="width:370px;height:370px;left:-185px;top:-185px"></i><i class="w" style="width:367px;height:367px;left:-183.5px;top:-183.5px"></i><i class="w" style="width:364px;height:364px;left:-182px;top:-182px"></i><i class="k156"></i><i class="k155"></i><i class="k154"></i><i class="k153"></i><i class="k152"></i><i class="k151"></i><i class="k150"></i><i class="k149"></i><i class="k148"></i><i class="k147"></i><i class="k146"></i><i class="k145"></i><i class="k144"></i><i class="k143"></i><i class="k142"></i><i class="k141"></i><i class="k140"></i><i class="k139"></i><i class="k138"></i><i class="k137"></i><i class="k136"></i><i class="k135"></i><i class="k134"></i><i class="k133"></i><i class="k132"></i><i class="k131"></i><i class="k130"></i><i class="k129"></i><i class="k128"></i><i class="k127"></i><i class="k126"></i><i class="k125"></i><i class="k124"></i><i class="k123"></i><i class="k122"></i><i class="k121"></i><i class="k120"></i><i class="k119"></i><i class="k118"></i><i class="k117"></i><i class="k116"></i><i class="k115"></i><i class="k114"></i><i class="k113"></i><i class="k112"></i><i class="k111"></i><i class="k110"></i><i class="k109"></i><i class="k108"></i><i class="k107"></i><i class="k106"></i><i class="k105"></i><i class="k104"></i><i class="k103"></i><i class="k102"></i><i class="k101"></i><i class="k100"></i><i class="k99"></i><i class="k98"></i><i class="k97"></i><i class="k96"></i><i class="k95"></i><i class="k94"></i><i class="k93"></i><i class="k92"></i><i class="k91"></i><i class="k90"></i><i class="k89"></i><i class="k88"></i><i class="k87"></i><i class="k86"></i><i class="k85"></i><i class="k84"></i><i class="k83"></i><i class="k82"></i><i class="k81"></i><i class="k80"></i><i class="k79"></i><i class="k78"></i><i class="k77"></i><i class="k76"></i><i class="k75"></i><i class="k74"></i><i class="k73"></i><i class="k72"></i><i class="k71"></i><i class="k70"></i><i class="k69"></i><i class="k68"></i><i class="k67"></i><i class="k66"></i><i class="k65"></i><i class="k64"></i><i class="k63"></i><i class="k62"></i><i class="k61"></i><i class="k60"></i><i class="k59"></i><i class="k58"></i><i class="k57"></i><i class="k56"></i><i class="k55"></i><i class="k54"></i><i class="k53"></i><i class="k52"></i><i class="k51"></i><i class="k50"></i><i class="k49"></i><i class="k48"></i><i class="k47"></i><i class="k46"></i><i class="k45"></i><i class="k44"></i><i class="k43"></i><i class="k42"></i><i class="k41"></i><i class="k40"></i><i class="k39"></i><i class="k38"></i><i class="k37"></i><i class="k36"></i><i class="k35"></i><i class="k34"></i><i class="k33"></i><i class="k32"></i><i class="k31"></i><i class="k30"></i><i class="k29"></i><i class="k28"></i><i class="k27"></i><i class="k26"></i><i class="k25"></i><i class="k24"></i><i class="k23"></i><i class="k22"></i><i class="k21"></i><i class="k20"></i><i class="k19"></i><i class="k18"></i><i class="k17"></i><i class="k16"></i><i class="k15"></i><i class="k14"></i><i class="k13"></i><i class="k12"></i><i class="k11"></i><i class="k10"></i><i class="k9"></i><i class="k8"></i><i class="k7"></i><i class="k6"></i><i class="k5"></i><i class="k4"></i><i class="k3"></i><i class="k2"></i><i class="k1"></i><i class="k0"></i></div></div>
<svg width="631" height="631" viewBox="0 0 631 631">
<circle cx="188.3" cy="148.7" r="31.5" class="oc"/>
<circle cx="188.3" cy="148.7" r="52.5" class="oc"/>
<path d="M226.94 73.94L230.83 75.2" stroke="#ff0000" stroke-width="1.6" fill="none"/>
<circle cx="226.94" cy="73.94" r="2.7" fill="#ff0000"/>
<circle cx="188.3" cy="148.7" r="84" class="oc"/>
<circle cx="180.74" cy="76.04" r="2.7" fill="#0000ff"/>
<path d="M191.77 81.5L193.45 90.95" stroke="#00ee00" stroke-width="1.6" fill="none"/>
<circle cx="191.77" cy="81.5" r="2.7" fill="#00ee00"/>
<path class="cr" d="M183.3 148.7h10M188.3 143.7v10"/>
<circle cx="188.3" cy="59.45" r="3.9" class="sun"/><circle cx="188.3" cy="59.45" r="0.7" fill="#222"/>
<circle cx="482.6" cy="148.7" r="31.5" class="oc"/>
<circle cx="482.6" cy="148.7" r="52.5" class="oc"/>
<path d="M521.24 73.94L525.12 75.2" stroke="#ff0000" stroke-width="1.6" fill="none"/>
<circle cx="521.24" cy="73.94" r="2.7" fill="#ff0000"/>
<circle cx="482.6" cy="148.7" r="84" class="oc"/>
<circle cx="475.04" cy="76.04" r="2.7" fill="#0000ff"/>
<path class="orbB" d="M380.9 129.9 381.2 127.7 381.6 125.6 382.1 123.4 382.7 121.3 383.5 119.2 384.3 117.2 385.3 115.3 386.4 113.4 387.6 111.5 388.9 109.8 390.2 108.1 391.7 106.5 393.3 105.0 394.9 103.6 396.6 102.2 398.4 101.0 400.2 99.9 402.1 98.8 404.0 97.9 406.0 97.0 408.1 96.3 410.1 95.6 412.2 95.0 414.3 94.5 416.4 94.1 418.6 93.8 420.7 93.6 422.9 93.4 425.1 93.3 427.3 93.3 429.5 93.3 431.7 93.4 433.8 93.5 436.0 93.7 438.2 94.0 440.4 94.3 442.6 94.6 444.7 95.0 446.9 95.3 449.0 95.8 451.2 96.2 453.3 96.7 455.5 97.2 457.6 97.8 459.7 98.4 461.9 98.9 464.0 99.6 466.1 100.2 468.1 100.9 470.2 101.6 472.3 102.3 474.4 103.0 476.4 103.8 478.4 104.6 480.4 105.5 482.4 106.4 484.4 107.3 486.3 108.3 488.3 109.3 490.2 110.3 492.0 111.4 493.9 112.5 495.7 113.7 497.5 115.0 499.2 116.2 500.9 117.5 502.6 118.9 504.3 120.3 505.9 121.8 507.4 123.3 508.9 124.8 510.4 126.4 511.9 128.1 513.3 129.7 514.6 131.5 516.0 133.2 517.2 135.0 518.5 136.8 519.7 138.6 520.9 140.5 522.0 142.3 523.1 144.2 524.2 146.2 525.2 148.1 526.3 150.0 527.2 152.0 528.2 154.0 529.1 156.0 530.0 157.9 530.9 159.9 531.7 161.9 532.5 164.0 533.3 166.0 534.0 168.0 534.8 170.0 535.4 172.1 536.1 174.1 536.7 176.2 537.3 178.3 537.8 180.3 538.3 182.4 538.7 184.5 539.1 186.6 539.5 188.8 539.7 190.9 540.0 193.0 540.1 195.2 540.2 197.4 540.2 199.6 540.2 201.8 540.0 204.0 539.8 206.1 539.5 208.3 539.1 210.5 538.7 212.7 538.1 214.9 537.5 217.1 536.7 219.2 535.9 221.3 535.0 223.4 534.0 225.4 532.9 227.4 531.7 229.3 530.4 231.2 529.0 233.0 527.6 234.7 526.1 236.3 524.5 237.9 522.9 239.3 521.1 240.7 519.4 241.9 517.5 243.0 515.6 244.0 513.7 244.9 511.8 245.7 509.8 246.3 507.8 246.7 505.8 247.1 503.7 247.3 501.7 247.3 499.6 247.2 497.6 247.0 495.6 246.6 493.6 246.1 491.6 245.5 489.6 244.7 487.7 243.8 485.8 242.8 484.0 241.7 482.2 240.5 480.5 239.2 478.8 237.7 477.1 236.2 475.5 234.6 474.0 233.0 472.5 231.2 471.1 229.4 469.7 227.6 468.4 225.7 467.1 223.8 466.0 221.8 464.8 219.8 463.7 217.8 462.7 215.8 461.7 213.7 460.8 211.7 459.9 209.6 459.0 207.6 458.3 205.5 457.5 203.5 456.8 201.4 456.1 199.4 455.5 197.3 454.9 195.3 454.3 193.3 453.8 191.2 453.3 189.2 452.9 187.2 452.5 185.1 452.1 183.1 451.7 181.0 451.4 179.0 451.1 176.9 450.8 174.9 450.6 172.8 450.4 170.7 450.2 168.6 450.1 166.5 450.0 164.3 449.9 162.2 449.9 160.0 449.9 157.8 450.0 155.6 450.1 153.4 450.2 151.2 450.4 149.0 450.6 146.7 450.8 144.5 451.1 142.3 451.5 140.0 451.9 137.8 452.3 135.6 452.8 133.4 453.3 131.2 453.9 129.0 454.5 126.8 455.2 124.7 455.9 122.6 456.7 120.5 457.5 118.4 458.3 116.4 459.2 114.4 460.1 112.4 461.1 110.5 462.1 108.6 463.1 106.7 464.2 104.9 465.3 103.1 466.5 101.3 467.7 99.5 468.9 97.8 470.2 96.2 471.5 94.5 472.8 92.9 474.2 91.3 475.6 89.7 477.0 88.2 478.5 86.7 480.0 85.2 481.5 83.7 483.1 82.3 484.7 80.9 486.4 79.5 488.1 78.1 489.8 76.8 491.5 75.5 493.3 74.2 495.2 73.0 497.0 71.8 498.9 70.6 500.9 69.5 502.9 68.4 504.9 67.4 506.9 66.5 509.0 65.6 511.1 64.8 513.2 64.1 515.4 63.4 517.5 62.8 519.7 62.4 521.9 62.0 524.2 61.7 526.4 61.5 528.6 61.4 530.8 61.4 533.0 61.6 535.2 61.8 537.4 62.2 539.5 62.7 541.6 63.3 543.7 64.0 545.7 64.8 547.6 65.8 549.5 66.8 551.4 68.0 553.1 69.3 554.8 70.6 556.4 72.1 557.9 73.7 559.3 75.3 560.6 77.0 561.8 78.8 562.9 80.7 563.9 82.6 564.7 84.6 565.5 86.6 566.1 88.7 566.6 90.7 567.0 92.9 567.3 95.0 567.5 97.1 567.5 99.3 567.4 101.4 567.2 103.6 566.9 105.7 566.5 107.8 566.0 109.9 565.4 112.0 564.7 114.1 564.0 116.1 563.1 118.1 562.2 120.1 561.1 122.0 560.1 123.9 558.9 125.8 557.7 127.7 556.5 129.5 555.2 131.3 553.9 133.1 552.5 134.8 551.1 136.5 549.7 138.2 548.3 139.9 546.8 141.6 545.3 143.2 543.8 144.8 542.3 146.4 540.8 148.0 539.2 149.6 537.7 151.1 536.1 152.7 534.6 154.2 533.0 155.7 531.4 157.2 529.8 158.7 528.2 160.2 526.6 161.6 524.9 163.0 523.3 164.4 521.6 165.8 519.9 167.1 518.2 168.4 516.4 169.7 514.6 170.9 512.9 172.1 511.0 173.3 509.2 174.4 507.3 175.4 505.4 176.4 503.5 177.4 501.5 178.3 499.5 179.1 497.5 179.9 495.5 180.6 493.4 181.3 491.3 181.9 489.2 182.5 487.1 183.0 484.9 183.4 482.8 183.8 480.6 184.1 478.4 184.4 476.2 184.6 474.0 184.8 471.8 184.9 469.5 185.0 467.3 185.1 465.1 185.1 462.9 185.1 460.7 185.0 458.4 184.9 456.2 184.8 454.0 184.6 451.8 184.4 449.6 184.2 447.5 184.0 445.3 183.7 443.1 183.5 441.0 183.2 438.8 182.8 436.7 182.5 434.5 182.1 432.4 181.7 430.3 181.2 428.2 180.8 426.1 180.3 424.0 179.7 421.9 179.2 419.9 178.5 417.8 177.9 415.8 177.2 413.8 176.4 411.8 175.6 409.9 174.7 407.9 173.8 406.0 172.8 404.1 171.7 402.3 170.6 400.5 169.4 398.7 168.1 397.0 166.7 395.4 165.3 393.8 163.8 392.3 162.2 390.9 160.6 389.5 158.9 388.2 157.1 387.0 155.3 385.9 153.4 384.9 151.4 384.0 149.4 383.2 147.4 382.5 145.3 381.9 143.1 381.4 141.0 381.1 138.8 380.8 136.6 380.7 134.3 380.8 132.1Z"/>
<path class="orbB" d="M386.0 128.2 386.3 126.1 386.7 124.1 387.3 122.0 387.9 120.0 388.7 118.1 389.6 116.2 390.5 114.3 391.6 112.6 392.8 110.8 394.1 109.2 395.4 107.6 396.9 106.1 398.4 104.7 400.0 103.4 401.7 102.2 403.4 101.1 405.2 100.0 407.0 99.1 408.9 98.2 410.8 97.5 412.7 96.8 414.7 96.2 416.7 95.7 418.8 95.3 420.8 94.9 422.9 94.7 424.9 94.5 427.0 94.4 429.1 94.4 431.2 94.4 433.3 94.5 435.3 94.6 437.4 94.8 439.5 95.1 441.6 95.3 443.7 95.7 445.7 96.0 447.8 96.4 449.8 96.9 451.9 97.3 453.9 97.8 456.0 98.4 458.0 98.9 460.0 99.5 462.0 100.1 464.0 100.7 466.0 101.3 468.0 102.0 470.0 102.7 472.0 103.4 473.9 104.1 475.9 104.9 477.8 105.7 479.7 106.5 481.6 107.4 483.5 108.3 485.3 109.2 487.2 110.2 489.0 111.2 490.8 112.2 492.6 113.3 494.3 114.5 496.0 115.6 497.7 116.9 499.3 118.1 500.9 119.4 502.5 120.8 504.0 122.2 505.5 123.6 506.9 125.1 508.3 126.6 509.7 128.1 511.1 129.7 512.4 131.4 513.6 133.0 514.8 134.7 516.0 136.5 517.2 138.2 518.3 140.0 519.4 141.8 520.4 143.6 521.4 145.5 522.4 147.3 523.3 149.2 524.2 151.1 525.1 153.0 526.0 154.9 526.8 156.8 527.6 158.7 528.4 160.6 529.1 162.6 529.9 164.5 530.6 166.5 531.2 168.4 531.9 170.4 532.5 172.3 533.0 174.3 533.6 176.3 534.1 178.3 534.5 180.3 534.9 182.3 535.3 184.3 535.6 186.3 535.9 188.4 536.1 190.4 536.3 192.5 536.3 194.5 536.4 196.6 536.3 198.7 536.2 200.8 536.0 202.9 535.8 205.0 535.4 207.1 535.0 209.2 534.5 211.2 533.9 213.3 533.3 215.3 532.5 217.4 531.7 219.3 530.7 221.3 529.7 223.2 528.6 225.1 527.4 226.9 526.2 228.6 524.8 230.3 523.4 231.9 521.9 233.5 520.4 234.9 518.8 236.2 517.1 237.5 515.4 238.6 513.6 239.6 511.8 240.5 509.9 241.3 508.0 242.0 506.1 242.5 504.2 242.9 502.2 243.2 500.3 243.3 498.3 243.3 496.4 243.2 494.5 242.9 492.5 242.5 490.6 242.0 488.8 241.3 486.9 240.5 485.1 239.7 483.3 238.6 481.6 237.5 479.9 236.3 478.3 235.0 476.7 233.6 475.2 232.1 473.7 230.6 472.3 228.9 470.9 227.2 469.6 225.5 468.3 223.7 467.1 221.9 466.0 220.0 464.9 218.1 463.8 216.2 462.9 214.2 461.9 212.2 461.0 210.3 460.2 208.3 459.4 206.3 458.6 204.3 457.9 202.4 457.3 200.4 456.6 198.4 456.1 196.4 455.5 194.5 455.0 192.5 454.5 190.5 454.1 188.6 453.7 186.6 453.3 184.7 452.9 182.7 452.6 180.8 452.3 178.8 452.0 176.8 451.8 174.9 451.6 172.9 451.4 170.9 451.3 168.9 451.2 166.9 451.1 164.8 451.1 162.8 451.1 160.7 451.1 158.7 451.2 156.6 451.3 154.5 451.4 152.4 451.6 150.3 451.8 148.2 452.1 146.0 452.4 143.9 452.7 141.8 453.1 139.7 453.5 137.5 454.0 135.4 454.5 133.3 455.1 131.3 455.7 129.2 456.4 127.1 457.0 125.1 457.8 123.1 458.5 121.1 459.4 119.2 460.2 117.3 461.1 115.4 462.0 113.5 463.0 111.7 464.0 109.9 465.1 108.1 466.1 106.4 467.3 104.7 468.4 103.0 469.6 101.4 470.8 99.8 472.1 98.2 473.3 96.7 474.7 95.2 476.0 93.7 477.4 92.2 478.8 90.8 480.2 89.4 481.7 88.0 483.2 86.6 484.8 85.3 486.3 84.0 487.9 82.7 489.6 81.4 491.3 80.2 493.0 79.0 494.7 77.8 496.5 76.7 498.3 75.6 500.2 74.6 502.0 73.5 503.9 72.6 505.9 71.7 507.9 70.8 509.9 70.0 511.9 69.3 513.9 68.7 516.0 68.1 518.1 67.6 520.2 67.2 522.3 66.9 524.4 66.7 526.6 66.5 528.7 66.5 530.8 66.6 532.9 66.8 535.0 67.1 537.0 67.5 539.1 68.0 541.1 68.6 543.0 69.4 544.9 70.2 546.8 71.2 548.5 72.2 550.3 73.4 551.9 74.6 553.5 76.0 555.0 77.4 556.4 79.0 557.7 80.6 558.9 82.2 560.0 84.0 561.0 85.8 561.8 87.6 562.6 89.5 563.3 91.5 563.8 93.5 564.3 95.5 564.6 97.5 564.8 99.5 564.9 101.6 564.9 103.6 564.8 105.7 564.5 107.7 564.2 109.8 563.7 111.8 563.2 113.8 562.6 115.7 561.9 117.7 561.1 119.6 560.2 121.5 559.3 123.4 558.2 125.2 557.2 127.0 556.0 128.8 554.9 130.5 553.6 132.2 552.4 133.9 551.0 135.6 549.7 137.2 548.3 138.8 546.9 140.4 545.5 141.9 544.1 143.5 542.6 145.0 541.1 146.5 539.6 148.0 538.2 149.5 536.6 151.0 535.1 152.4 533.6 153.8 532.1 155.3 530.5 156.7 529.0 158.1 527.4 159.4 525.8 160.8 524.2 162.1 522.6 163.4 521.0 164.7 519.4 166.0 517.7 167.2 516.1 168.4 514.4 169.6 512.6 170.7 510.9 171.8 509.1 172.9 507.3 173.9 505.5 174.8 503.7 175.7 501.8 176.6 499.9 177.4 498.0 178.2 496.1 178.9 494.1 179.5 492.1 180.1 490.1 180.6 488.1 181.1 486.0 181.5 484.0 181.9 481.9 182.2 479.8 182.5 477.7 182.7 475.6 182.8 473.5 183.0 471.4 183.0 469.2 183.1 467.1 183.1 465.0 183.0 462.9 182.9 460.7 182.8 458.6 182.7 456.5 182.5 454.4 182.3 452.3 182.1 450.2 181.8 448.2 181.5 446.1 181.2 444.0 180.9 442.0 180.6 439.9 180.2 437.9 179.8 435.9 179.4 433.9 178.9 431.9 178.5 429.9 178.0 427.9 177.4 425.9 176.9 423.9 176.3 422.0 175.6 420.1 174.9 418.1 174.2 416.2 173.4 414.4 172.6 412.5 171.7 410.7 170.8 408.9 169.8 407.1 168.7 405.4 167.6 403.7 166.4 402.1 165.1 400.5 163.8 398.9 162.4 397.5 160.9 396.1 159.4 394.7 157.8 393.4 156.1 392.3 154.4 391.2 152.6 390.2 150.8 389.2 148.9 388.4 146.9 387.7 144.9 387.1 142.9 386.6 140.9 386.2 138.8 385.9 136.7 385.8 134.6 385.7 132.5 385.8 130.3Z"/>
<path class="orbB" d="M390.1 126.6 390.4 124.5 390.9 122.6 391.5 120.6 392.1 118.7 392.9 116.9 393.8 115.0 394.8 113.3 395.9 111.6 397.1 110.0 398.4 108.4 399.7 106.9 401.1 105.6 402.6 104.2 404.2 103.0 405.8 101.9 407.5 100.8 409.3 99.9 411.0 99.0 412.9 98.2 414.7 97.5 416.6 96.9 418.6 96.4 420.5 96.0 422.5 95.6 424.4 95.4 426.4 95.2 428.4 95.1 430.4 95.0 432.4 95.0 434.4 95.1 436.5 95.2 438.5 95.4 440.5 95.7 442.5 96.0 444.5 96.3 446.4 96.7 448.4 97.1 450.4 97.5 452.4 98.0 454.3 98.5 456.3 99.0 458.2 99.5 460.2 100.1 462.1 100.7 464.0 101.3 465.9 102.0 467.8 102.7 469.7 103.4 471.6 104.1 473.5 104.8 475.4 105.6 477.2 106.4 479.1 107.2 480.9 108.0 482.7 108.9 484.5 109.8 486.2 110.8 488.0 111.7 489.7 112.7 491.4 113.8 493.1 114.9 494.7 116.0 496.3 117.2 497.9 118.4 499.4 119.7 501.0 121.0 502.4 122.3 503.9 123.7 505.3 125.1 506.6 126.6 508.0 128.1 509.2 129.6 510.5 131.2 511.7 132.8 512.9 134.4 514.0 136.1 515.1 137.8 516.2 139.5 517.2 141.2 518.2 143.0 519.1 144.8 520.0 146.6 520.9 148.4 521.8 150.2 522.6 152.0 523.4 153.9 524.2 155.7 525.0 157.6 525.7 159.5 526.4 161.4 527.1 163.2 527.7 165.1 528.3 167.0 528.9 168.9 529.5 170.8 530.0 172.7 530.5 174.6 531.0 176.6 531.4 178.5 531.8 180.4 532.1 182.4 532.4 184.3 532.7 186.3 532.9 188.2 533.1 190.2 533.2 192.2 533.2 194.2 533.2 196.2 533.1 198.2 532.9 200.2 532.7 202.2 532.4 204.2 532.0 206.2 531.6 208.2 531.0 210.2 530.4 212.2 529.7 214.2 528.9 216.1 528.1 218.0 527.1 219.8 526.1 221.6 525.0 223.4 523.8 225.1 522.5 226.8 521.2 228.4 519.8 229.9 518.3 231.3 516.8 232.7 515.2 233.9 513.6 235.1 511.9 236.1 510.1 237.1 508.4 237.9 506.6 238.6 504.7 239.2 502.9 239.6 501.0 240.0 499.1 240.2 497.3 240.3 495.4 240.2 493.5 240.0 491.6 239.7 489.8 239.3 488.0 238.7 486.2 238.1 484.4 237.3 482.7 236.4 481.0 235.3 479.4 234.2 477.8 233.0 476.3 231.7 474.8 230.3 473.3 228.8 472.0 227.3 470.6 225.7 469.3 224.0 468.1 222.3 467.0 220.6 465.8 218.8 464.8 216.9 463.8 215.1 462.8 213.2 461.9 211.3 461.1 209.4 460.3 207.5 459.5 205.5 458.8 203.6 458.1 201.7 457.5 199.7 456.9 197.8 456.4 195.9 455.8 194.0 455.4 192.1 454.9 190.2 454.5 188.3 454.1 186.4 453.8 184.5 453.4 182.6 453.2 180.7 452.9 178.8 452.7 176.9 452.5 175.0 452.3 173.1 452.1 171.2 452.0 169.3 451.9 167.3 451.9 165.4 451.9 163.4 451.9 161.5 451.9 159.5 452.0 157.5 452.1 155.5 452.3 153.5 452.5 151.5 452.7 149.4 453.0 147.4 453.3 145.4 453.6 143.3 454.0 141.3 454.4 139.3 454.9 137.2 455.4 135.2 456.0 133.2 456.6 131.2 457.2 129.2 457.9 127.3 458.6 125.3 459.3 123.4 460.1 121.5 461.0 119.7 461.8 117.9 462.7 116.1 463.7 114.3 464.7 112.5 465.7 110.8 466.7 109.2 467.8 107.5 468.9 105.9 470.1 104.4 471.3 102.8 472.5 101.3 473.7 99.8 475.0 98.4 476.3 97.0 477.6 95.6 479.0 94.2 480.4 92.8 481.8 91.5 483.3 90.2 484.8 88.9 486.3 87.7 487.8 86.5 489.4 85.3 491.0 84.1 492.7 83.0 494.3 81.8 496.1 80.8 497.8 79.7 499.6 78.7 501.4 77.7 503.2 76.8 505.1 75.9 507.0 75.1 508.9 74.3 510.8 73.6 512.8 73.0 514.8 72.4 516.8 71.9 518.8 71.5 520.9 71.2 522.9 70.9 525.0 70.7 527.0 70.7 529.1 70.7 531.1 70.8 533.1 71.1 535.1 71.4 537.1 71.9 539.0 72.4 540.9 73.1 542.8 73.8 544.6 74.7 546.3 75.6 548.0 76.7 549.7 77.9 551.2 79.1 552.7 80.5 554.1 81.9 555.4 83.4 556.6 85.0 557.7 86.6 558.7 88.3 559.6 90.1 560.5 91.9 561.2 93.8 561.7 95.6 562.2 97.6 562.6 99.5 562.9 101.5 563.0 103.4 563.0 105.4 563.0 107.4 562.8 109.4 562.5 111.3 562.2 113.3 561.7 115.2 561.1 117.1 560.5 119.0 559.7 120.8 558.9 122.7 558.0 124.5 557.1 126.2 556.0 128.0 555.0 129.7 553.8 131.3 552.6 133.0 551.4 134.6 550.1 136.2 548.8 137.8 547.5 139.3 546.1 140.8 544.8 142.3 543.3 143.8 541.9 145.2 540.5 146.7 539.0 148.1 537.6 149.5 536.1 150.9 534.6 152.2 533.1 153.6 531.6 154.9 530.1 156.3 528.6 157.6 527.0 158.9 525.5 160.2 523.9 161.4 522.4 162.7 520.8 163.9 519.2 165.1 517.6 166.3 516.0 167.4 514.3 168.5 512.7 169.6 511.0 170.7 509.3 171.7 507.5 172.6 505.8 173.6 504.0 174.4 502.2 175.3 500.4 176.0 498.6 176.8 496.7 177.5 494.8 178.1 492.9 178.6 491.0 179.2 489.0 179.6 487.0 180.0 485.1 180.4 483.1 180.7 481.1 180.9 479.0 181.1 477.0 181.3 475.0 181.4 472.9 181.5 470.9 181.5 468.9 181.5 466.8 181.4 464.8 181.3 462.7 181.2 460.7 181.0 458.7 180.8 456.6 180.6 454.6 180.3 452.6 180.1 450.6 179.8 448.6 179.4 446.6 179.1 444.6 178.7 442.7 178.3 440.7 177.9 438.8 177.5 436.8 177.1 434.9 176.6 433.0 176.1 431.1 175.5 429.2 175.0 427.3 174.4 425.4 173.8 423.5 173.1 421.7 172.4 419.9 171.6 418.1 170.8 416.3 170.0 414.5 169.1 412.8 168.1 411.1 167.1 409.4 166.0 407.8 164.9 406.2 163.7 404.6 162.5 403.1 161.1 401.7 159.8 400.3 158.3 399.0 156.8 397.7 155.2 396.6 153.6 395.5 151.9 394.4 150.1 393.5 148.3 392.7 146.5 391.9 144.6 391.3 142.7 390.8 140.7 390.3 138.7 390.0 136.7 389.8 134.7 389.7 132.6 389.7 130.6 389.8 128.6Z"/>
<path d="M486.06 81.5L487.75 90.95" stroke="#00ee00" stroke-width="1.6" fill="none"/>
<circle cx="486.06" cy="81.5" r="2.7" fill="#00ee00"/>
<path class="cr" d="M477.6 148.7h10M482.6 143.7v10"/>
<circle cx="482.6" cy="59.45" r="3.9" class="sun"/><circle cx="482.6" cy="59.45" r="0.7" fill="#222"/>
<circle cx="188.3" cy="442.5" r="31.5" class="oc"/>
<circle cx="188.3" cy="442.5" r="52.5" class="oc"/>
<path d="M226.94 367.74L230.83 369" stroke="#ff0000" stroke-width="1.6" fill="none"/>
<circle cx="226.94" cy="367.74" r="2.7" fill="#ff0000"/>
<circle cx="188.3" cy="442.5" r="84" class="oc"/>
<circle cx="180.74" cy="369.84" r="2.7" fill="#0000ff"/>
<path class="orbC" d="M188.1 538.3 185.5 538.1 182.9 537.8 180.3 537.4 177.7 536.8 175.2 536.1 172.6 535.3 170.1 534.3 167.7 533.2 165.3 532.0 162.9 530.6 160.6 529.2 158.4 527.6 156.2 525.9 154.0 524.2 151.9 522.3 149.9 520.4 148.0 518.4 146.1 516.3 144.3 514.1 142.6 511.9 141.0 509.6 139.4 507.3 138.0 504.9 136.6 502.5 135.3 500.1 134.0 497.6 132.9 495.1 131.8 492.6 130.8 490.0 130.0 487.5 129.1 484.9 128.4 482.3 127.8 479.7 127.2 477.1 126.7 474.5 126.3 471.8 126.0 469.2 125.7 466.5 125.5 463.9 125.4 461.2 125.4 458.6 125.4 455.9 125.6 453.3 125.7 450.6 126.0 447.9 126.3 445.3 126.7 442.6 127.2 440.0 127.7 437.3 128.3 434.7 129.0 432.0 129.7 429.4 130.5 426.8 131.4 424.2 132.3 421.7 133.3 419.1 134.4 416.6 135.5 414.1 136.8 411.7 138.0 409.2 139.4 406.8 140.8 404.5 142.2 402.2 143.8 399.9 145.3 397.7 147.0 395.6 148.7 393.5 150.5 391.4 152.4 389.5 154.3 387.5 156.2 385.7 158.2 383.9 160.3 382.1 162.4 380.5 164.6 378.8 166.9 377.3 169.1 375.8 171.5 374.4 173.8 373.1 176.2 371.9 178.7 370.7 181.2 369.6 183.7 368.5 186.3 367.6 188.8 366.7 191.4 365.9 194.1 365.2 196.7 364.5 199.4 363.9 202.0 363.5 204.7 363.1 207.4 362.8 210.1 362.6 212.8 362.4 215.5 362.4 218.1 362.5 220.8 362.7 223.4 362.9 226.1 363.3 228.7 363.8 231.3 364.4 233.8 365.1 236.3 365.9 238.8 366.8 241.3 367.9 243.6 369.0 246.0 370.3 248.3 371.7 250.5 373.2 252.7 374.8 254.8 376.5 256.9 378.3 258.8 380.2 260.7 382.2 262.5 384.3 264.3 386.5 265.9 388.7 267.5 391.1 268.9 393.5 270.3 395.9 271.5 398.5 272.7 401.0 273.7 403.7 274.7 406.3 275.5 409.0 276.2 411.7 276.8 414.4 277.3 417.2 277.6 419.9 277.8 422.6 277.9 425.3 277.9 428.0 277.8 430.7 277.5 433.3 277.2 436.0 276.7 438.5 276.0 441.1 275.3 443.6 274.5 446.0 273.5 448.4 272.4 450.8 271.3 453.1 270.0 455.3 268.6 457.5 267.1 459.7 265.5 461.8 263.9 463.8 262.1 465.8 260.3 467.7 258.4 469.6 256.5 471.5 254.4 473.3 252.3 475.0 250.2 476.7 247.9 478.4 245.7 480.0 243.4 481.6 241.0 483.1 238.6 484.5 236.2 486.0 233.8 487.3 231.3 488.7 228.8 489.9 226.3 491.2 223.7 492.3 221.2 493.4 218.6 494.5 216.0 495.5 213.4 496.4 210.8 497.2 208.2 498.0 205.6 498.7 203.0 499.4 200.4 499.9 197.7 500.4 195.1 500.8 192.5 501.2 189.9 501.4 187.2 501.5 184.6 501.6 182.0 501.6 179.3 501.5 176.7 501.3 174.1 501.0 171.5 500.7 168.8 500.2 166.2 499.7 163.6 499.1 161.0 498.4 158.4 497.6 155.9 496.8 153.3 495.8 150.8 494.8 148.3 493.8 145.8 492.6 143.3 491.4 140.8 490.1 138.4 488.8 136.0 487.4 133.7 485.9 131.3 484.4 129.1 482.8 126.8 481.2 124.7 479.5 122.5 477.7 120.5 475.9 118.5 474.1 116.5 472.2 114.6 470.2 112.8 468.2 111.1 466.1 109.5 464.0 107.9 461.8 106.4 459.6 105.1 457.3 103.8 455.0 102.6 452.6 101.5 450.2 100.5 447.7 99.6 445.2 98.9 442.6 98.2 440.0 97.6 437.4 97.2 434.7 96.9 432.0 96.7 429.3 96.6 426.6 96.6 423.9 96.7 421.1 97.0 418.4 97.4 415.7 97.9 413.0 98.5 410.3 99.2 407.6 100.1 405.0 101.0 402.4 102.1 399.8 103.3 397.3 104.6 394.9 106.0 392.5 107.5 390.3 109.1 388.1 110.8 386.0 112.5 383.9 114.4 382.0 116.4 380.2 118.4 378.5 120.5 376.8 122.7 375.3 125.0 373.9 127.3 372.7 129.6 371.5 132.1 370.4 134.6 369.5 137.1 368.6 139.7 367.9 142.3 367.3 144.9 366.8 147.6 366.4 150.3 366.1 153.0 365.9 155.7 365.8 158.5 365.8 161.2 365.8 164.0 366.0 166.7 366.2 169.5 366.5 172.2 366.9 175.0 367.4 177.7 367.9 180.4 368.5 183.0 369.2 185.7 370.0 188.3 370.8 190.9 371.6 193.5 372.6 196.0 373.5 198.5 374.6 201.0 375.7 203.4 376.9 205.8 378.1 208.1 379.4 210.4 380.7 212.7 382.2 214.9 383.6 217.0 385.2 219.2 386.8 221.2 388.5 223.2 390.2 225.2 392.0 227.1 393.8 229.0 395.7 230.8 397.7 232.5 399.8 234.2 401.9 235.9 404.0 237.4 406.2 239.0 408.5 240.4 410.8 241.8 413.1 243.1 415.5 244.4 418.0 245.6 420.5 246.7 423.0 247.8 425.5 248.8 428.1 249.7 430.7 250.6 433.3 251.4 436.0 252.1 438.6 252.7 441.3 253.3 444.0 253.8 446.7 254.2 449.4 254.5 452.0 254.7 454.7 254.9 457.4 255.0 460.1 255.0 462.8 254.9 465.4 254.7 468.1 254.4 470.7 254.1 473.3 253.7 476.0 253.1 478.6 252.5 481.2 251.8 483.7 251.0 486.3 250.2 488.8 249.2 491.3 248.2 493.8 247.0 496.3 245.8 498.7 244.5 501.1 243.1 503.5 241.7 505.8 240.1 508.1 238.5 510.4 236.8 512.6 235.0 514.7 233.2 516.8 231.2 518.8 229.2 520.8 227.2 522.7 225.1 524.5 222.9 526.2 220.6 527.8 218.3 529.3 216.0 530.7 213.6 532.1 211.2 533.3 208.7 534.3 206.2 535.3 203.7 536.1 201.1 536.8 198.5 537.4 195.9 537.8 193.3 538.1 190.7 538.2Z"/>
<path class="orbC" d="M187.3 537.2 184.7 537.0 182.1 536.7 179.5 536.3 177.0 535.7 174.5 535.0 172.0 534.1 169.6 533.1 167.1 532.0 164.8 530.8 162.4 529.4 160.2 528.0 158.0 526.4 155.8 524.7 153.7 523.0 151.7 521.1 149.7 519.2 147.8 517.2 146.0 515.1 144.2 512.9 142.5 510.7 140.9 508.5 139.4 506.1 138.0 503.8 136.6 501.4 135.3 499.0 134.2 496.5 133.0 494.0 132.0 491.5 131.1 489.0 130.2 486.5 129.4 483.9 128.7 481.3 128.1 478.8 127.6 476.2 127.1 473.6 126.7 471.0 126.4 468.4 126.2 465.7 126.0 463.1 126.0 460.5 126.0 457.9 126.0 455.2 126.2 452.6 126.4 450.0 126.6 447.3 127.0 444.7 127.4 442.1 127.9 439.5 128.4 436.9 129.0 434.2 129.7 431.7 130.5 429.1 131.3 426.5 132.2 423.9 133.1 421.4 134.1 418.9 135.2 416.4 136.4 414.0 137.6 411.6 138.9 409.2 140.2 406.8 141.6 404.5 143.1 402.2 144.6 400.0 146.2 397.9 147.9 395.7 149.6 393.7 151.4 391.7 153.2 389.7 155.1 387.8 157.1 386.0 159.1 384.2 161.1 382.5 163.3 380.9 165.4 379.3 167.7 377.8 169.9 376.4 172.2 375.1 174.6 373.8 177.0 372.5 179.4 371.4 181.9 370.3 184.4 369.3 186.9 368.4 189.5 367.5 192.1 366.8 194.7 366.1 197.3 365.4 199.9 364.9 202.6 364.5 205.2 364.1 207.9 363.8 210.5 363.6 213.2 363.5 215.8 363.5 218.5 363.6 221.1 363.8 223.7 364.1 226.3 364.5 228.9 365.0 231.5 365.6 234.0 366.3 236.5 367.2 238.9 368.1 241.3 369.2 243.7 370.3 246.0 371.6 248.2 373.0 250.4 374.5 252.6 376.1 254.7 377.8 256.7 379.6 258.6 381.5 260.5 383.5 262.2 385.6 263.9 387.7 265.5 390.0 267.0 392.3 268.5 394.7 269.8 397.2 271.0 399.7 272.1 402.2 273.1 404.8 274.0 407.5 274.8 410.1 275.5 412.8 276.0 415.5 276.5 418.2 276.8 420.9 277.0 423.6 277.1 426.3 277.1 429.0 276.9 431.6 276.6 434.2 276.2 436.8 275.7 439.3 275.1 441.8 274.3 444.3 273.5 446.7 272.5 449.1 271.4 451.4 270.2 453.7 269.0 455.9 267.6 458.0 266.1 460.2 264.5 462.2 262.9 464.2 261.1 466.2 259.3 468.1 257.4 469.9 255.5 471.7 253.4 473.5 251.3 475.2 249.2 476.9 247.0 478.5 244.7 480.1 242.4 481.6 240.1 483.1 237.7 484.5 235.3 485.9 232.9 487.2 230.4 488.5 227.9 489.8 225.4 490.9 222.9 492.1 220.4 493.1 217.8 494.2 215.3 495.1 212.7 496.0 210.1 496.8 207.5 497.6 204.9 498.3 202.3 498.9 199.7 499.4 197.1 499.9 194.5 500.2 191.9 500.5 189.3 500.8 186.7 500.9 184.1 500.9 181.5 500.9 178.9 500.8 176.3 500.6 173.7 500.3 171.1 499.9 168.6 499.4 166.0 498.9 163.4 498.2 160.9 497.5 158.3 496.7 155.8 495.9 153.2 494.9 150.7 493.9 148.3 492.9 145.8 491.7 143.3 490.5 140.9 489.2 138.5 487.9 136.2 486.4 133.9 485.0 131.6 483.5 129.4 481.9 127.2 480.2 125.0 478.5 123.0 476.8 120.9 475.0 119.0 473.1 117.1 471.2 115.2 469.3 113.5 467.2 111.8 465.2 110.2 463.1 108.6 460.9 107.2 458.7 105.9 456.4 104.6 454.1 103.4 451.7 102.4 449.3 101.4 446.9 100.6 444.4 99.8 441.8 99.2 439.3 98.7 436.7 98.3 434.0 98.0 431.4 97.8 428.7 97.7 426.0 97.8 423.3 97.9 420.6 98.2 417.9 98.6 415.2 99.1 412.5 99.8 409.8 100.5 407.2 101.4 404.6 102.4 402.1 103.4 399.5 104.6 397.1 105.9 394.7 107.3 392.4 108.8 390.1 110.4 388.0 112.1 385.9 113.9 383.9 115.7 382.0 117.7 380.2 119.7 378.6 121.8 377.0 124.0 375.5 126.2 374.1 128.5 372.9 130.9 371.8 133.3 370.7 135.8 369.8 138.3 369.0 140.9 368.3 143.4 367.7 146.1 367.3 148.7 366.9 151.4 366.6 154.1 366.4 156.8 366.3 159.5 366.4 162.2 366.4 164.9 366.6 167.6 366.9 170.3 367.2 173.1 367.6 175.7 368.1 178.4 368.7 181.1 369.3 183.7 370.0 186.3 370.7 188.9 371.6 191.5 372.4 194.0 373.4 196.5 374.4 199.0 375.4 201.4 376.5 203.8 377.7 206.1 379.0 208.4 380.3 210.7 381.6 212.9 383.0 215.1 384.5 217.2 386.1 219.3 387.7 221.3 389.3 223.3 391.1 225.2 392.8 227.1 394.7 228.9 396.6 230.7 398.6 232.4 400.6 234.1 402.7 235.7 404.8 237.2 407.0 238.7 409.3 240.1 411.6 241.5 413.9 242.8 416.3 244.0 418.7 245.2 421.2 246.3 423.7 247.3 426.2 248.3 428.8 249.2 431.4 250.0 434.0 250.7 436.6 251.4 439.2 252.0 441.9 252.6 444.5 253.0 447.2 253.4 449.8 253.7 452.5 253.9 455.2 254.0 457.8 254.1 460.5 254.1 463.1 253.9 465.7 253.7 468.4 253.5 471.0 253.1 473.6 252.6 476.2 252.1 478.7 251.5 481.3 250.8 483.8 250.0 486.3 249.1 488.8 248.1 491.3 247.1 493.8 245.9 496.2 244.7 498.6 243.4 500.9 242.0 503.3 240.5 505.6 239.0 507.8 237.4 510.0 235.7 512.2 233.9 514.3 232.0 516.4 230.1 518.3 228.1 520.3 226.1 522.1 224.0 523.9 221.8 525.5 219.5 527.1 217.3 528.6 214.9 530.0 212.6 531.3 210.1 532.5 207.7 533.5 205.2 534.4 202.7 535.2 200.1 535.9 197.6 536.4 195.0 536.8 192.4 537.1 189.8 537.2Z"/>
<path class="orbC" d="M188.8 539.1 186.1 539.0 183.5 538.7 180.9 538.3 178.3 537.8 175.7 537.1 173.1 536.2 170.6 535.3 168.2 534.2 165.7 532.9 163.3 531.6 161.0 530.2 158.7 528.6 156.5 526.9 154.3 525.1 152.2 523.3 150.1 521.3 148.2 519.3 146.3 517.2 144.4 515.0 142.7 512.8 141.0 510.5 139.4 508.2 137.9 505.8 136.5 503.4 135.2 500.9 133.9 498.5 132.8 495.9 131.7 493.4 130.7 490.8 129.7 488.3 128.9 485.7 128.2 483.1 127.5 480.4 126.9 477.8 126.4 475.2 125.9 472.5 125.6 469.9 125.3 467.2 125.1 464.5 125.0 461.9 124.9 459.2 125.0 456.5 125.1 453.8 125.2 451.1 125.5 448.4 125.8 445.7 126.2 443.1 126.6 440.4 127.1 437.7 127.7 435.0 128.4 432.4 129.1 429.7 129.9 427.1 130.8 424.5 131.7 421.9 132.7 419.3 133.7 416.8 134.9 414.2 136.1 411.7 137.3 409.3 138.7 406.9 140.1 404.5 141.5 402.2 143.1 399.9 144.6 397.6 146.3 395.5 148.0 393.3 149.8 391.2 151.7 389.2 153.6 387.3 155.5 385.4 157.6 383.5 159.6 381.8 161.8 380.1 164.0 378.4 166.2 376.9 168.5 375.4 170.8 374.0 173.2 372.6 175.6 371.3 178.1 370.1 180.6 369.0 183.1 367.9 185.7 366.9 188.3 366.0 190.9 365.2 193.6 364.4 196.2 363.7 198.9 363.2 201.6 362.7 204.3 362.2 207.0 361.9 209.7 361.7 212.4 361.5 215.1 361.5 217.8 361.6 220.5 361.7 223.2 362.0 225.8 362.3 228.5 362.8 231.1 363.4 233.7 364.1 236.2 364.9 238.7 365.8 241.2 366.8 243.6 368.0 246.0 369.2 248.3 370.6 250.6 372.1 252.8 373.7 255.0 375.4 257.0 377.2 259.0 379.1 261.0 381.1 262.8 383.2 264.6 385.4 266.2 387.7 267.8 390.0 269.3 392.5 270.7 394.9 272.0 397.5 273.2 400.1 274.2 402.7 275.2 405.4 276.0 408.1 276.8 410.8 277.4 413.6 277.9 416.3 278.2 419.1 278.5 421.8 278.6 424.5 278.6 427.3 278.5 430.0 278.3 432.6 277.9 435.3 277.4 437.9 276.8 440.4 276.1 443.0 275.3 445.4 274.3 447.9 273.2 450.2 272.1 452.6 270.8 454.9 269.4 457.1 267.9 459.3 266.4 461.4 264.7 463.5 263.0 465.5 261.1 467.5 259.2 469.4 257.3 471.3 255.2 473.1 253.1 474.9 251.0 476.6 248.7 478.3 246.5 479.9 244.2 481.5 241.8 483.1 239.4 484.6 237.0 486.0 234.5 487.4 232.0 488.8 229.5 490.1 227.0 491.3 224.4 492.5 221.8 493.7 219.3 494.7 216.7 495.7 214.0 496.7 211.4 497.6 208.8 498.4 206.2 499.1 203.5 499.8 200.9 500.4 198.2 500.9 195.6 501.3 192.9 501.7 190.3 501.9 187.6 502.1 185.0 502.2 182.3 502.2 179.7 502.1 177.0 501.9 174.4 501.7 171.7 501.3 169.1 500.9 166.4 500.4 163.8 499.8 161.2 499.1 158.6 498.3 156.0 497.5 153.4 496.6 150.8 495.6 148.3 494.5 145.7 493.4 143.2 492.2 140.7 490.9 138.3 489.6 135.9 488.2 133.5 486.7 131.1 485.2 128.8 483.6 126.6 482.0 124.3 480.3 122.2 478.5 120.1 476.7 118.1 474.9 116.1 472.9 114.2 471.0 112.3 468.9 110.6 466.9 108.9 464.7 107.3 462.5 105.8 460.3 104.4 458.0 103.1 455.7 101.9 453.3 100.8 450.8 99.8 448.3 98.9 445.8 98.1 443.2 97.4 440.6 96.8 438.0 96.3 435.3 96.0 432.6 95.8 429.9 95.6 427.1 95.6 424.4 95.8 421.6 96.0 418.8 96.4 416.1 96.9 413.3 97.5 410.6 98.2 407.9 99.0 405.2 100.0 402.6 101.0 400.0 102.2 397.5 103.5 395.1 104.9 392.7 106.4 390.4 108.0 388.1 109.7 386.0 111.4 383.9 113.3 382.0 115.3 380.1 117.3 378.4 119.4 376.7 121.6 375.2 123.9 373.8 126.2 372.5 128.6 371.3 131.1 370.2 133.6 369.2 136.1 368.3 138.7 367.6 141.3 367.0 144.0 366.4 146.7 366.0 149.4 365.7 152.2 365.5 154.9 365.3 157.7 365.3 160.5 365.3 163.2 365.5 166.0 365.7 168.8 366.0 171.5 366.4 174.3 366.8 177.0 367.3 179.8 367.9 182.5 368.6 185.1 369.3 187.8 370.1 190.4 371.0 193.0 371.9 195.6 372.9 198.1 373.9 200.6 375.0 203.1 376.2 205.5 377.4 207.9 378.7 210.2 380.0 212.5 381.5 214.7 382.9 216.9 384.5 219.0 386.1 221.1 387.7 223.2 389.5 225.2 391.3 227.1 393.1 229.0 395.0 230.9 397.0 232.6 399.1 234.4 401.2 236.0 403.3 237.6 405.5 239.2 407.8 240.7 410.1 242.1 412.5 243.4 414.9 244.7 417.4 246.0 419.9 247.1 422.4 248.2 425.0 249.3 427.6 250.2 430.2 251.1 432.8 251.9 435.5 252.6 438.2 253.3 440.8 253.9 443.5 254.4 446.2 254.8 448.9 255.2 451.7 255.4 454.4 255.6 457.1 255.7 459.8 255.7 462.5 255.6 465.2 255.5 467.8 255.2 470.5 254.9 473.2 254.5 475.8 254.0 478.4 253.4 481.0 252.7 483.6 251.9 486.2 251.1 488.8 250.1 491.3 249.1 493.8 247.9 496.3 246.7 498.8 245.4 501.2 244.1 503.6 242.6 506.0 241.1 508.3 239.4 510.6 237.7 512.8 235.9 515.0 234.1 517.1 232.2 519.2 230.2 521.2 228.1 523.1 226.0 524.9 223.8 526.7 221.5 528.3 219.2 529.9 216.9 531.3 214.5 532.7 212.0 533.9 209.5 535.0 207.0 536.0 204.5 536.9 201.9 537.6 199.3 538.2 196.7 538.6 194.0 538.9 191.4 539.1Z"/>
<path d="M191.77 375.3L193.45 384.75" stroke="#00ee00" stroke-width="1.6" fill="none"/>
<circle cx="191.77" cy="375.3" r="2.7" fill="#00ee00"/>
<path class="cr" d="M183.3 442.5h10M188.3 437.5v10"/>
<circle cx="188.3" cy="353.25" r="3.9" class="sun"/><circle cx="188.3" cy="353.25" r="0.7" fill="#222"/>
<circle cx="482.6" cy="442.5" r="31.5" class="oc"/>
<circle cx="482.6" cy="442.5" r="52.5" class="oc"/>
<path d="M521.24 367.74L525.12 369" stroke="#ff0000" stroke-width="1.6" fill="none"/>
<circle cx="521.24" cy="367.74" r="2.7" fill="#ff0000"/>
<circle cx="482.6" cy="442.5" r="84" class="oc"/>
<circle cx="475.04" cy="369.84" r="2.7" fill="#0000ff"/>
<ellipse class="orbD" cx="466.2" cy="420.7" rx="101.8" ry="48.3" transform="rotate(-127.0 466.2 420.7)"/>
<ellipse class="orbD" cx="516.5" cy="443.1" rx="101.5" ry="48.3" transform="rotate(1.0 516.5 443.1)"/>
<ellipse class="orbD" cx="463.2" cy="469.3" rx="101.8" ry="50.4" transform="rotate(-234.0 463.2 469.3)"/>
<ellipse class="orbD" cx="478.3" cy="469.5" rx="90.3" ry="48.3" transform="rotate(-261.0 478.3 469.5)"/>
<ellipse class="orbD" cx="461.7" cy="430.4" rx="84.0" ry="45.1" transform="rotate(-150.0 461.7 430.4)"/>
<ellipse class="orbD" cx="507.6" cy="439.0" rx="84.0" ry="55.6" transform="rotate(-8.0 507.6 439.0)"/>
<path class="orbD" d="M455 374.5C468 370 485 365 500 363.5S518 363 524.5 363.5"/>
<path d="M486.06 375.3L487.75 384.75" stroke="#00ee00" stroke-width="1.6" fill="none"/>
<circle cx="486.06" cy="375.3" r="2.7" fill="#00ee00"/>
<path class="cr" d="M477.6 442.5h10M482.6 437.5v10"/>
<circle cx="482.6" cy="353.25" r="3.9" class="sun"/><circle cx="482.6" cy="353.25" r="0.7" fill="#222"/>
<path class="fr" d="M41.1 0.95H629.85V590.2H41.1ZM335.05 0.95V590.2M41.1 295.35H629.85"/>
<path class="tk" d="M83.3 0.95v8.3M83.3 295.35v-8.3M41.1 253.7h8.3M335.05 253.7h-8.3M135.8 0.95v8.3M135.8 295.35v-8.3M41.1 201.2h8.3M335.05 201.2h-8.3M188.3 0.95v8.3M188.3 295.35v-8.3M41.1 148.7h8.3M335.05 148.7h-8.3M240.8 0.95v8.3M240.8 295.35v-8.3M41.1 96.2h8.3M335.05 96.2h-8.3M293.3 0.95v8.3M293.3 295.35v-8.3M41.1 43.7h8.3M335.05 43.7h-8.3M377.6 0.95v8.3M377.6 295.35v-8.3M335.05 253.7h8.3M629.85 253.7h-8.3M430.1 0.95v8.3M430.1 295.35v-8.3M335.05 201.2h8.3M629.85 201.2h-8.3M482.6 0.95v8.3M482.6 295.35v-8.3M335.05 148.7h8.3M629.85 148.7h-8.3M535.1 0.95v8.3M535.1 295.35v-8.3M335.05 96.2h8.3M629.85 96.2h-8.3M587.6 0.95v8.3M587.6 295.35v-8.3M335.05 43.7h8.3M629.85 43.7h-8.3M83.3 295.35v8.3M83.3 590.2v-8.3M41.1 547.5h8.3M335.05 547.5h-8.3M135.8 295.35v8.3M135.8 590.2v-8.3M41.1 495h8.3M335.05 495h-8.3M188.3 295.35v8.3M188.3 590.2v-8.3M41.1 442.5h8.3M335.05 442.5h-8.3M240.8 295.35v8.3M240.8 590.2v-8.3M41.1 390h8.3M335.05 390h-8.3M293.3 295.35v8.3M293.3 590.2v-8.3M41.1 337.5h8.3M335.05 337.5h-8.3M377.6 295.35v8.3M377.6 590.2v-8.3M335.05 547.5h8.3M629.85 547.5h-8.3M430.1 295.35v8.3M430.1 590.2v-8.3M335.05 495h8.3M629.85 495h-8.3M482.6 295.35v8.3M482.6 590.2v-8.3M335.05 442.5h8.3M629.85 442.5h-8.3M535.1 295.35v8.3M535.1 590.2v-8.3M335.05 390h8.3M629.85 390h-8.3M587.6 295.35v8.3M587.6 590.2v-8.3M335.05 337.5h8.3M629.85 337.5h-8.3"/>
<text x="83.3" y="605" class="tl" text-anchor="middle">−10</text>
<text x="135.8" y="605" class="tl" text-anchor="middle">−5</text>
<text x="188.3" y="605" class="tl" text-anchor="middle">0</text>
<text x="240.8" y="605" class="tl" text-anchor="middle">5</text>
<text x="293.3" y="605" class="tl" text-anchor="middle">10</text>
<text x="377.6" y="605" class="tl" text-anchor="middle">−10</text>
<text x="430.1" y="605" class="tl" text-anchor="middle">−5</text>
<text x="482.6" y="605" class="tl" text-anchor="middle">0</text>
<text x="535.1" y="605" class="tl" text-anchor="middle">5</text>
<text x="587.6" y="605" class="tl" text-anchor="middle">10</text>
<text transform="translate(35.8 253.7) rotate(-90)" class="tl" text-anchor="middle">−10</text>
<text transform="translate(35.8 201.2) rotate(-90)" class="tl" text-anchor="middle">−5</text>
<text transform="translate(35.8 148.7) rotate(-90)" class="tl" text-anchor="middle">0</text>
<text transform="translate(35.8 96.2) rotate(-90)" class="tl" text-anchor="middle">5</text>
<text transform="translate(35.8 43.7) rotate(-90)" class="tl" text-anchor="middle">10</text>
<text transform="translate(35.8 547.5) rotate(-90)" class="tl" text-anchor="middle">−10</text>
<text transform="translate(35.8 495) rotate(-90)" class="tl" text-anchor="middle">−5</text>
<text transform="translate(35.8 442.5) rotate(-90)" class="tl" text-anchor="middle">0</text>
<text transform="translate(35.8 390) rotate(-90)" class="tl" text-anchor="middle">5</text>
<text transform="translate(35.8 337.5) rotate(-90)" class="tl" text-anchor="middle">10</text>
<text x="335.8" y="626.6" class="kpc" text-anchor="middle">kpc</text>
<text transform="translate(13.2 296) rotate(-90)" class="kpc" text-anchor="middle">kpc</text>
<text x="63.2" y="34.1" class="pl">(A)</text>
<text x="356.9" y="34.1" class="pl">(B)</text>
<text x="63.2" y="328" class="pl">(C)</text>
<text x="356.9" y="328" class="pl">(D)</text>
<circle cx="220" cy="245.7" r="2.8" fill="#ff0000"/>
<text x="230.6" y="249.2" class="lg" xml:space="preserve">NGC  6791</text>
<circle cx="220" cy="260.4" r="2.8" fill="#0000ff"/>
<text x="230.6" y="263.9" class="lg" xml:space="preserve">NGC  6253</text>
<circle cx="220" cy="275.1" r="2.8" fill="#00ee00"/>
<text x="230.6" y="278.6" class="lg" xml:space="preserve">NGC  6583</text>
</svg></div></body></html>
